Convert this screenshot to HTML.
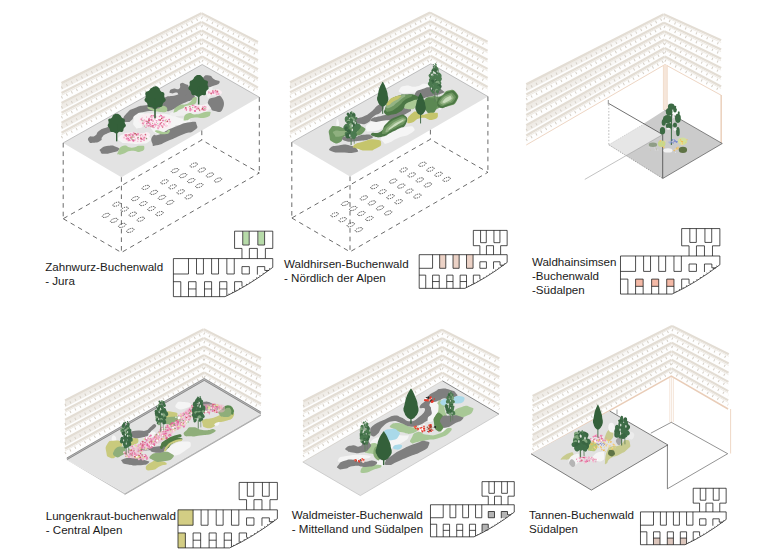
<!DOCTYPE html>
<html lang="de"><head><meta charset="utf-8"><title>Buchenwald</title>
<style>
html,body{margin:0;padding:0;background:#fff;}
body{width:780px;height:552px;overflow:hidden;}
svg{display:block;}
text{font-family:"Liberation Sans",sans-serif;fill:#1a1a1a;}
</style></head><body>
<svg width="780" height="552" viewBox="0 0 780 552">
<defs>
<linearGradient id="wg1" gradientUnits="userSpaceOnUse" x1="61.5" y1="0" x2="201.4" y2="0"><stop offset="0" stop-color="#ede9e3" stop-opacity="0.85"/><stop offset="0.45" stop-color="#ede9e3" stop-opacity="0.6"/><stop offset="0.8" stop-color="#ede9e3" stop-opacity="0.12"/><stop offset="1" stop-color="#ede9e3" stop-opacity="0"/></linearGradient>
<linearGradient id="wg2" gradientUnits="userSpaceOnUse" x1="290.1" y1="0" x2="430.0" y2="0"><stop offset="0" stop-color="#ede9e3" stop-opacity="0.85"/><stop offset="0.45" stop-color="#ede9e3" stop-opacity="0.6"/><stop offset="0.8" stop-color="#ede9e3" stop-opacity="0.12"/><stop offset="1" stop-color="#ede9e3" stop-opacity="0"/></linearGradient>
<linearGradient id="wg3" gradientUnits="userSpaceOnUse" x1="526.2" y1="0" x2="663.8" y2="0"><stop offset="0" stop-color="#ede9e3" stop-opacity="0.85"/><stop offset="0.45" stop-color="#ede9e3" stop-opacity="0.6"/><stop offset="0.8" stop-color="#ede9e3" stop-opacity="0.12"/><stop offset="1" stop-color="#ede9e3" stop-opacity="0"/></linearGradient>
<linearGradient id="wg4" gradientUnits="userSpaceOnUse" x1="65.0" y1="0" x2="203.8" y2="0"><stop offset="0" stop-color="#ede9e3" stop-opacity="0.85"/><stop offset="0.45" stop-color="#ede9e3" stop-opacity="0.6"/><stop offset="0.8" stop-color="#ede9e3" stop-opacity="0.12"/><stop offset="1" stop-color="#ede9e3" stop-opacity="0"/></linearGradient>
<linearGradient id="wg5" gradientUnits="userSpaceOnUse" x1="303.2" y1="0" x2="442.0" y2="0"><stop offset="0" stop-color="#ede9e3" stop-opacity="0.85"/><stop offset="0.45" stop-color="#ede9e3" stop-opacity="0.6"/><stop offset="0.8" stop-color="#ede9e3" stop-opacity="0.12"/><stop offset="1" stop-color="#ede9e3" stop-opacity="0"/></linearGradient>
<linearGradient id="wg6" gradientUnits="userSpaceOnUse" x1="532.6" y1="0" x2="672.1" y2="0"><stop offset="0" stop-color="#ede9e3" stop-opacity="0.85"/><stop offset="0.45" stop-color="#ede9e3" stop-opacity="0.6"/><stop offset="0.8" stop-color="#ede9e3" stop-opacity="0.12"/><stop offset="1" stop-color="#ede9e3" stop-opacity="0"/></linearGradient>
</defs>
<rect width="780" height="552" fill="#fff"/>
<polygon points="61.50,82.50 201.40,12.80 202.20,64.50 61.50,142.00" fill="#fefefe"/>
<polygon points="61.50,83.89 201.42,14.01 201.50,19.18 61.50,89.84" fill="url(#wg1)"/>
<line x1="61.50" y1="83.09" x2="201.41" y2="13.32" stroke="#e3ddd4" stroke-width="2.32"/>
<line x1="61.50" y1="85.28" x2="201.44" y2="15.21" stroke="#eeeae4" stroke-width="1.02"/>
<line x1="61.50" y1="87.76" x2="201.47" y2="17.37" stroke="#d5cfc6" stroke-width="2.50" stroke-dasharray="1 4.6"/>
<line x1="61.50" y1="93.01" x2="201.54" y2="21.93" stroke="#e3ddd4" stroke-width="2.32"/>
<line x1="61.50" y1="95.19" x2="201.57" y2="23.83" stroke="#eeeae4" stroke-width="1.02"/>
<line x1="61.50" y1="97.67" x2="201.60" y2="25.98" stroke="#d5cfc6" stroke-width="2.50" stroke-dasharray="1 4.6"/>
<polygon points="61.50,103.72 201.69,31.24 201.77,36.41 61.50,109.67" fill="url(#wg1)"/>
<line x1="61.50" y1="102.93" x2="201.67" y2="30.55" stroke="#e3ddd4" stroke-width="2.32"/>
<line x1="61.50" y1="105.11" x2="201.70" y2="32.45" stroke="#eeeae4" stroke-width="1.02"/>
<line x1="61.50" y1="107.59" x2="201.74" y2="34.60" stroke="#d5cfc6" stroke-width="2.50" stroke-dasharray="1 4.6"/>
<line x1="61.50" y1="112.84" x2="201.81" y2="39.17" stroke="#e3ddd4" stroke-width="2.32"/>
<line x1="61.50" y1="115.03" x2="201.84" y2="41.06" stroke="#eeeae4" stroke-width="1.02"/>
<line x1="61.50" y1="117.51" x2="201.87" y2="43.22" stroke="#d5cfc6" stroke-width="2.50" stroke-dasharray="1 4.6"/>
<polygon points="61.50,123.56 201.95,48.47 202.03,53.64 61.50,129.50" fill="url(#wg1)"/>
<line x1="61.50" y1="122.76" x2="201.94" y2="47.78" stroke="#e3ddd4" stroke-width="2.32"/>
<line x1="61.50" y1="124.94" x2="201.97" y2="49.68" stroke="#eeeae4" stroke-width="1.02"/>
<line x1="61.50" y1="127.42" x2="202.00" y2="51.83" stroke="#d5cfc6" stroke-width="2.50" stroke-dasharray="1 4.6"/>
<line x1="61.50" y1="132.68" x2="202.07" y2="56.40" stroke="#e3ddd4" stroke-width="2.32"/>
<line x1="61.50" y1="134.86" x2="202.10" y2="58.30" stroke="#eeeae4" stroke-width="1.02"/>
<line x1="61.50" y1="137.34" x2="202.14" y2="60.45" stroke="#d5cfc6" stroke-width="2.50" stroke-dasharray="1 4.6"/><polygon points="201.40,12.80 258.00,41.40 258.00,96.20 202.20,64.50" fill="#fefefe"/>
<line x1="201.41" y1="13.32" x2="258.00" y2="41.95" stroke="#e3ddd4" stroke-width="2.22"/>
<line x1="201.44" y1="15.21" x2="258.00" y2="43.96" stroke="#eeeae4" stroke-width="0.98"/>
<line x1="201.47" y1="17.37" x2="258.00" y2="46.24" stroke="#d5cfc6" stroke-width="2.40" stroke-dasharray="1 4.9"/>
<line x1="201.54" y1="21.93" x2="258.00" y2="51.08" stroke="#e3ddd4" stroke-width="2.22"/>
<line x1="201.57" y1="23.83" x2="258.00" y2="53.09" stroke="#eeeae4" stroke-width="0.98"/>
<line x1="201.60" y1="25.98" x2="258.00" y2="55.37" stroke="#d5cfc6" stroke-width="2.40" stroke-dasharray="1 4.9"/>
<line x1="201.67" y1="30.55" x2="258.00" y2="60.21" stroke="#e3ddd4" stroke-width="2.22"/>
<line x1="201.70" y1="32.45" x2="258.00" y2="62.22" stroke="#eeeae4" stroke-width="0.98"/>
<line x1="201.74" y1="34.60" x2="258.00" y2="64.51" stroke="#d5cfc6" stroke-width="2.40" stroke-dasharray="1 4.9"/>
<line x1="201.81" y1="39.17" x2="258.00" y2="69.35" stroke="#e3ddd4" stroke-width="2.22"/>
<line x1="201.84" y1="41.06" x2="258.00" y2="71.36" stroke="#eeeae4" stroke-width="0.98"/>
<line x1="201.87" y1="43.22" x2="258.00" y2="73.64" stroke="#d5cfc6" stroke-width="2.40" stroke-dasharray="1 4.9"/>
<line x1="201.94" y1="47.78" x2="258.00" y2="78.48" stroke="#e3ddd4" stroke-width="2.22"/>
<line x1="201.97" y1="49.68" x2="258.00" y2="80.49" stroke="#eeeae4" stroke-width="0.98"/>
<line x1="202.00" y1="51.83" x2="258.00" y2="82.77" stroke="#d5cfc6" stroke-width="2.40" stroke-dasharray="1 4.9"/>
<line x1="202.07" y1="56.40" x2="258.00" y2="87.61" stroke="#e3ddd4" stroke-width="2.22"/>
<line x1="202.10" y1="58.30" x2="258.00" y2="89.62" stroke="#eeeae4" stroke-width="0.98"/>
<line x1="202.14" y1="60.45" x2="258.00" y2="91.91" stroke="#d5cfc6" stroke-width="2.40" stroke-dasharray="1 4.9"/>
<polygon points="202.20,64.50 259.30,97.20 121.40,177.20 63.20,142.90" fill="#e3e3e3"/>
<polyline points="63.20,142.90 202.20,64.50 259.30,97.20" fill="none" stroke="#9a9a9a" stroke-width="0.6"/>
<g><path d="M133.67,120.00 C134.50,115.11 133.44,114.11 137.50,112.00 C141.56,109.89 139.44,113.11 145.83,113.67 C152.22,114.22 148.61,113.33 156.67,113.67 C164.72,114.00 161.94,113.11 170.00,114.67 C178.06,116.22 174.17,116.56 180.83,118.33 C187.50,120.11 189.17,117.78 190.00,120.00 C190.83,122.22 188.61,122.78 183.33,125.00 C178.06,127.22 177.94,122.89 174.17,126.67 C170.39,130.44 173.94,133.44 172.00,136.33 C170.06,139.22 169.67,137.33 168.33,135.33 C167.00,133.33 171.61,130.89 168.00,130.33 C164.39,129.78 164.33,135.17 157.50,133.67 C150.67,132.17 153.33,127.72 147.50,125.83 C141.67,123.94 144.17,127.72 140.00,128.00 C135.83,128.28 137.11,129.33 135.00,126.67 C132.89,124.00 132.83,124.89 133.67,120.00Z" fill="#f5f5f5"/><path d="M119.17,136.67 C121.67,134.17 121.39,134.61 128.33,134.17 C135.28,133.72 133.06,134.50 140.00,135.33 C146.94,136.17 146.39,134.44 149.17,136.67 C151.94,138.89 151.39,139.67 148.33,142.00 C145.28,144.33 146.67,143.22 140.00,143.67 C133.33,144.11 134.72,144.00 128.33,143.33 C121.94,142.67 123.89,143.89 120.83,141.67 C117.78,139.44 116.67,139.17 119.17,136.67Z" fill="#f5f5f5"/><path d="M170.00,114.67 C168.89,112.61 171.11,112.33 180.00,109.67 C188.89,107.00 186.39,108.78 196.67,106.67 C206.94,104.56 206.67,102.22 210.83,103.33 C215.00,104.44 213.89,106.56 209.17,110.00 C204.44,113.44 205.28,111.72 196.67,113.67 C188.06,115.61 192.22,115.50 183.33,115.83 C174.44,116.17 171.11,116.72 170.00,114.67Z" fill="#efefef"/><path d="M205.00,84.17 C206.11,79.72 207.50,80.28 210.00,81.67 C212.50,83.06 212.50,83.33 212.50,88.33 C212.50,93.33 211.94,94.44 210.00,96.67 C208.06,98.89 208.33,99.17 206.67,95.00 C205.00,90.83 203.89,88.61 205.00,84.17Z" fill="#f1f1f1"/><path d="M89.17,137.00 C91.11,135.06 91.67,137.89 95.00,135.83 C98.33,133.78 95.28,133.61 99.17,130.83 C103.06,128.06 101.94,129.17 106.67,127.50 C111.39,125.83 110.56,125.00 113.33,125.83 C116.11,126.67 116.94,127.50 115.00,130.00 C113.06,132.50 111.67,131.11 107.50,133.33 C103.33,135.56 104.89,134.17 102.50,136.67 C100.11,139.17 103.39,138.78 100.33,140.83 C97.28,142.89 97.06,142.56 93.33,142.83 C89.61,143.11 90.56,143.61 89.17,141.67 C87.78,139.72 87.22,138.94 89.17,137.00Z" fill="#7f7f7f"/><path d="M123.33,120.00 C123.33,116.83 123.61,116.50 127.50,112.50 C131.39,108.50 128.89,110.39 135.00,108.00 C141.11,105.61 138.61,106.06 145.83,105.33 C153.06,104.61 151.94,104.28 156.67,105.83 C161.39,107.39 163.89,108.06 160.00,110.00 C156.11,111.94 153.06,110.11 145.00,111.67 C136.94,113.22 140.28,111.89 135.83,114.67 C131.39,117.44 134.44,117.56 131.67,120.00 C128.89,122.44 130.28,122.00 127.50,122.00 C124.72,122.00 123.33,123.17 123.33,120.00Z" fill="#7f7f7f"/><path d="M161.67,102.50 C161.67,98.33 160.00,100.00 165.00,97.50 C170.00,95.00 168.33,97.22 176.67,95.00 C185.00,92.78 184.17,90.83 190.00,90.83 C195.83,90.83 193.33,92.22 194.17,95.00 C195.00,97.78 196.11,96.39 192.50,99.17 C188.89,101.94 189.72,100.00 183.33,103.33 C176.94,106.67 179.44,106.94 173.33,109.17 C167.22,111.39 168.89,112.22 165.00,110.00 C161.11,107.78 161.67,106.67 161.67,102.50Z" fill="#7f7f7f"/><path d="M169.67,91.33 C170.22,89.78 170.17,89.56 173.33,88.67 C176.50,87.78 176.67,90.44 179.17,88.67 C181.67,86.89 178.61,84.83 180.83,83.33 C183.06,81.83 183.22,83.06 185.83,84.17 C188.44,85.28 187.83,83.61 188.67,86.67 C189.50,89.72 191.22,90.56 188.33,93.33 C185.44,96.11 183.89,95.28 180.00,95.00 C176.11,94.72 179.44,93.06 176.67,92.50 C173.89,91.94 174.00,93.72 171.67,93.33 C169.33,92.94 169.11,92.89 169.67,91.33Z" fill="#7f7f7f"/><path d="M203.33,77.50 C205.00,74.89 205.56,74.94 209.17,75.50 C212.78,76.06 210.67,77.00 214.17,79.17 C217.67,81.33 219.83,79.78 219.67,82.00 C219.50,84.22 217.72,84.28 213.67,85.83 C209.61,87.39 210.67,87.50 207.50,86.67 C204.33,85.83 205.56,86.39 204.17,83.33 C202.78,80.28 201.67,80.11 203.33,77.50Z" fill="#7f7f7f"/><path d="M208.33,100.83 C209.61,97.67 209.72,98.61 214.17,97.50 C218.61,96.39 218.89,93.61 221.67,97.50 C224.44,101.39 224.83,104.67 222.50,109.17 C220.17,113.67 218.72,111.72 214.67,111.00 C210.61,110.28 212.44,110.39 210.33,107.00 C208.22,103.61 207.06,104.00 208.33,100.83Z" fill="#7f7f7f"/><path d="M153.00,135.83 C155.56,132.78 153.22,136.94 160.00,134.17 C166.78,131.39 163.33,131.50 173.33,127.50 C183.33,123.50 182.22,123.11 190.00,122.17 C197.78,121.22 195.44,121.78 196.67,124.67 C197.89,127.56 198.11,127.67 193.67,130.83 C189.22,134.00 191.22,131.11 183.33,134.17 C175.44,137.22 178.89,136.28 170.00,140.00 C161.11,143.72 162.56,144.22 156.67,145.33 C150.78,146.44 153.56,146.50 152.33,143.33 C151.11,140.17 150.44,138.89 153.00,135.83Z" fill="#7f7f7f"/><path d="M101.00,148.67 C103.56,146.72 103.39,146.50 108.33,145.83 C113.28,145.17 112.39,145.28 115.83,146.67 C119.28,148.06 120.06,148.00 118.67,150.00 C117.28,152.00 116.78,151.44 111.67,152.67 C106.56,153.89 107.00,154.00 103.33,153.67 C99.67,153.33 101.44,153.33 100.67,151.67 C99.89,150.00 98.44,150.61 101.00,148.67Z" fill="#7f7f7f"/><path d="M118.00,152.00 C119.44,149.11 118.78,147.28 123.33,145.83 C127.89,144.39 126.11,147.67 131.67,147.67 C137.22,147.67 135.78,145.83 140.00,145.83 C144.22,145.83 144.33,145.72 144.33,147.67 C144.33,149.61 144.22,150.61 140.00,151.67 C135.78,152.72 137.22,150.17 131.67,150.83 C126.11,151.50 127.56,152.44 123.33,153.67 C119.11,154.89 120.78,155.06 119.00,154.50 C117.22,153.94 116.56,154.89 118.00,152.00Z" fill="#a9c994"/><path d="M183.83,118.67 C184.39,116.33 184.06,114.78 188.33,113.33 C192.61,111.89 190.56,114.89 196.67,114.33 C202.78,113.78 202.11,111.83 206.67,111.67 C211.22,111.50 210.89,111.83 210.33,113.83 C209.78,115.83 210.67,116.39 205.00,117.67 C199.33,118.94 199.44,116.78 193.33,117.67 C187.22,118.56 189.83,120.00 186.67,120.33 C183.50,120.67 183.28,121.00 183.83,118.67Z" fill="#a9c994"/><path d="M173.83,111.17 C174.67,109.11 173.50,108.44 178.33,105.83 C183.17,103.22 183.22,106.11 188.33,103.33 C193.44,100.56 190.89,98.61 193.67,97.50 C196.44,96.39 197.22,97.17 196.67,100.00 C196.11,102.83 197.00,103.11 192.00,106.00 C187.00,108.89 187.06,106.67 181.67,108.67 C176.28,110.67 178.44,111.17 175.83,112.00 C173.22,112.83 173.00,113.22 173.83,111.17Z" fill="#a9c994"/><path d="M148.00,107.00 C149.67,106.50 151.56,109.22 156.67,108.83 C161.78,108.44 159.89,105.17 163.33,105.83 C166.78,106.50 168.11,108.78 167.00,110.83 C165.89,112.89 165.11,112.17 160.00,112.00 C154.89,111.83 155.67,112.00 151.67,110.33 C147.67,108.67 146.33,107.50 148.00,107.00Z" fill="#a9c994"/><path d="M156.33,130.33 C158.83,130.00 161.00,132.22 165.00,132.00 C169.00,131.78 166.78,129.67 168.33,129.67 C169.89,129.67 170.78,130.50 169.67,132.00 C168.56,133.50 169.06,133.83 165.00,134.17 C160.94,134.50 160.39,134.28 157.50,133.00 C154.61,131.72 153.83,130.67 156.33,130.33Z" fill="#a9c994"/></g><path d="M139.17,119.17 C140.28,115.83 139.17,114.94 145.00,113.67 C150.83,112.39 148.89,114.06 156.67,115.33 C164.44,116.61 163.44,114.83 168.33,117.50 C173.22,120.17 171.89,119.61 171.33,123.33 C170.78,127.06 171.56,127.00 166.67,128.67 C161.78,130.33 162.78,129.56 156.67,128.33 C150.56,127.11 153.33,126.56 148.33,125.00 C143.33,123.44 144.72,125.61 141.67,123.67 C138.61,121.72 138.06,122.50 139.17,119.17Z" fill="#fbeef3" opacity="0.9"/><path d="M122.50,135.33 C124.72,132.56 124.17,133.17 130.00,132.50 C135.83,131.83 133.89,133.33 140.00,133.33 C146.11,133.33 145.44,130.83 148.33,132.50 C151.22,134.17 150.33,135.17 148.67,138.33 C147.00,141.50 149.00,140.61 143.33,142.00 C137.67,143.39 138.33,142.89 131.67,142.50 C125.00,142.11 126.39,143.22 123.33,140.83 C120.28,138.44 120.28,138.11 122.50,135.33Z" fill="#fbeef3" opacity="0.9"/><path d="M183.67,108.00 C184.78,106.11 184.56,106.33 190.00,105.33 C195.44,104.33 194.17,104.83 200.00,105.00 C205.83,105.17 205.28,104.06 207.50,105.83 C209.72,107.61 210.28,108.39 206.67,110.33 C203.06,112.28 203.33,111.44 196.67,111.67 C190.00,111.89 191.00,112.22 186.67,111.00 C182.33,109.78 182.56,109.89 183.67,108.00Z" fill="#fbeef3" opacity="0.9"/><path d="M207.50,91.33 C209.17,89.78 209.06,90.00 213.33,89.67 C217.61,89.33 218.00,88.67 220.33,90.33 C222.67,92.00 222.67,93.00 220.33,94.67 C218.00,96.33 217.33,95.44 213.33,95.33 C209.33,95.22 210.28,95.67 208.33,94.33 C206.39,93.00 205.83,92.89 207.50,91.33Z" fill="#fbeef3" opacity="0.9"/><g><circle cx="146.03" cy="120.50" r="0.78" fill="#f4b0cb"/><circle cx="126.32" cy="134.59" r="0.66" fill="#d6607c"/><circle cx="165.51" cy="121.54" r="0.79" fill="#fbe4ec"/><circle cx="141.73" cy="140.35" r="0.73" fill="#fbe4ec"/><circle cx="156.04" cy="118.91" r="0.53" fill="#f4b0cb"/><circle cx="198.46" cy="106.94" r="0.93" fill="#f4b0cb"/><circle cx="193.40" cy="105.53" r="0.94" fill="#f2a3c2"/><circle cx="140.36" cy="136.95" r="0.56" fill="#e779ab"/><circle cx="158.10" cy="128.40" r="0.97" fill="#f2a3c2"/><circle cx="186.73" cy="109.64" r="0.71" fill="#f4b0cb"/><circle cx="125.44" cy="135.09" r="1.05" fill="#ec86b2"/><circle cx="152.79" cy="127.02" r="0.92" fill="#f6bdd2"/><circle cx="143.80" cy="120.29" r="0.93" fill="#ee8fb6"/><circle cx="160.70" cy="117.05" r="0.57" fill="#ffffff"/><circle cx="130.17" cy="134.85" r="0.98" fill="#e779ab"/><circle cx="159.85" cy="124.75" r="1.02" fill="#f2a3c2"/><circle cx="152.56" cy="120.69" r="0.70" fill="#f4b0cb"/><circle cx="203.83" cy="108.07" r="0.69" fill="#e466a0"/><circle cx="152.80" cy="120.94" r="1.08" fill="#f9d6e2"/><circle cx="153.93" cy="127.46" r="0.69" fill="#e779ab"/><circle cx="217.27" cy="91.63" r="1.02" fill="#d6607c"/><circle cx="163.48" cy="117.38" r="0.87" fill="#ee8fb6"/><circle cx="210.01" cy="92.43" r="1.06" fill="#f9d6e2"/><circle cx="154.56" cy="125.51" r="0.51" fill="#e779ab"/><circle cx="153.10" cy="121.19" r="0.85" fill="#f4b0cb"/><circle cx="149.09" cy="118.66" r="0.91" fill="#e779ab"/><circle cx="151.48" cy="115.87" r="0.85" fill="#e466a0"/><circle cx="217.98" cy="92.69" r="0.77" fill="#ec86b2"/><circle cx="132.58" cy="139.88" r="0.95" fill="#e779ab"/><circle cx="194.94" cy="110.98" r="0.96" fill="#ee8fb6"/><circle cx="143.08" cy="119.14" r="0.80" fill="#ffffff"/><circle cx="134.95" cy="139.99" r="0.76" fill="#ec86b2"/><circle cx="141.60" cy="138.91" r="0.90" fill="#e779ab"/><circle cx="160.51" cy="115.28" r="0.70" fill="#ee8fb6"/><circle cx="142.21" cy="135.26" r="0.97" fill="#f9d6e2"/><circle cx="163.30" cy="120.63" r="0.61" fill="#f4b0cb"/><circle cx="159.32" cy="116.42" r="0.71" fill="#f4b0cb"/><circle cx="151.44" cy="127.69" r="0.78" fill="#ffffff"/><circle cx="133.44" cy="140.74" r="1.05" fill="#e466a0"/><circle cx="169.89" cy="121.87" r="1.09" fill="#f4b0cb"/><circle cx="169.05" cy="119.59" r="0.52" fill="#f9d6e2"/><circle cx="136.07" cy="133.30" r="0.83" fill="#ffffff"/><circle cx="202.60" cy="106.21" r="0.57" fill="#ffffff"/><circle cx="168.41" cy="123.04" r="1.05" fill="#fbe4ec"/><circle cx="202.79" cy="106.99" r="0.79" fill="#e466a0"/><circle cx="147.50" cy="121.60" r="0.81" fill="#e466a0"/><circle cx="166.13" cy="119.62" r="0.58" fill="#e779ab"/><circle cx="208.65" cy="91.96" r="0.71" fill="#e466a0"/><circle cx="141.47" cy="120.30" r="0.64" fill="#f6bdd2"/><circle cx="159.23" cy="120.06" r="0.79" fill="#e466a0"/><circle cx="126.91" cy="139.71" r="0.66" fill="#f9d6e2"/><circle cx="128.12" cy="138.83" r="1.01" fill="#e466a0"/><circle cx="198.26" cy="108.52" r="1.08" fill="#d6607c"/><circle cx="202.72" cy="109.43" r="0.59" fill="#e779ab"/><circle cx="147.79" cy="124.54" r="0.72" fill="#ffffff"/><circle cx="152.44" cy="123.83" r="0.50" fill="#fbe4ec"/><circle cx="138.51" cy="133.96" r="0.72" fill="#e466a0"/><circle cx="137.42" cy="134.52" r="0.87" fill="#e466a0"/><circle cx="147.49" cy="125.21" r="0.75" fill="#e779ab"/><circle cx="129.75" cy="137.90" r="0.66" fill="#fbe4ec"/><circle cx="137.80" cy="135.24" r="1.03" fill="#f6bdd2"/><circle cx="209.94" cy="94.07" r="0.57" fill="#ffffff"/><circle cx="145.88" cy="135.84" r="0.98" fill="#fbe4ec"/><circle cx="134.86" cy="133.85" r="0.99" fill="#ee8fb6"/><circle cx="129.77" cy="137.71" r="0.53" fill="#f2a3c2"/><circle cx="166.68" cy="125.50" r="0.99" fill="#f6bdd2"/><circle cx="156.47" cy="120.77" r="0.90" fill="#ee8fb6"/><circle cx="204.07" cy="107.66" r="0.52" fill="#ee8fb6"/><circle cx="186.27" cy="108.15" r="0.83" fill="#ee8fb6"/><circle cx="144.26" cy="119.96" r="0.61" fill="#f4b0cb"/><circle cx="167.32" cy="121.61" r="0.87" fill="#d6607c"/><circle cx="190.44" cy="109.46" r="1.06" fill="#f2a3c2"/><circle cx="143.42" cy="136.73" r="1.08" fill="#f9d6e2"/><circle cx="154.90" cy="118.86" r="0.95" fill="#f4b0cb"/><circle cx="127.07" cy="136.99" r="0.74" fill="#ec86b2"/><circle cx="200.01" cy="110.14" r="1.05" fill="#d6607c"/><circle cx="125.77" cy="138.72" r="0.58" fill="#f6bdd2"/><circle cx="200.76" cy="110.05" r="1.01" fill="#f9d6e2"/><circle cx="137.75" cy="133.58" r="0.86" fill="#f2a3c2"/><circle cx="147.72" cy="136.88" r="0.51" fill="#ffffff"/><circle cx="131.94" cy="138.63" r="0.64" fill="#e779ab"/><circle cx="141.21" cy="135.05" r="0.92" fill="#d6607c"/><circle cx="142.26" cy="118.45" r="0.83" fill="#ec86b2"/><circle cx="133.69" cy="133.09" r="0.97" fill="#f2a3c2"/><circle cx="206.20" cy="109.15" r="0.89" fill="#f9d6e2"/><circle cx="200.62" cy="108.92" r="0.65" fill="#ffffff"/><circle cx="154.64" cy="124.69" r="1.02" fill="#ec86b2"/><circle cx="195.50" cy="111.12" r="0.61" fill="#e779ab"/><circle cx="156.59" cy="119.37" r="1.00" fill="#ffffff"/><circle cx="147.74" cy="125.85" r="0.70" fill="#ec86b2"/><circle cx="150.37" cy="125.43" r="0.63" fill="#ee8fb6"/><circle cx="143.44" cy="136.53" r="0.69" fill="#fbe4ec"/><circle cx="202.45" cy="109.24" r="1.03" fill="#d6607c"/><circle cx="204.85" cy="110.00" r="0.91" fill="#e779ab"/><circle cx="143.12" cy="123.41" r="0.89" fill="#ec86b2"/><circle cx="194.87" cy="110.93" r="0.90" fill="#e779ab"/><circle cx="142.57" cy="139.48" r="0.54" fill="#e779ab"/><circle cx="153.17" cy="115.69" r="0.89" fill="#ec86b2"/><circle cx="140.98" cy="141.31" r="0.77" fill="#ec86b2"/><circle cx="141.31" cy="119.20" r="0.93" fill="#ec86b2"/><circle cx="126.24" cy="136.06" r="0.79" fill="#d6607c"/><circle cx="194.81" cy="107.39" r="0.95" fill="#f6bdd2"/><circle cx="135.34" cy="134.54" r="0.66" fill="#ffffff"/><circle cx="161.94" cy="125.33" r="0.65" fill="#ffffff"/><circle cx="191.85" cy="109.71" r="0.77" fill="#f2a3c2"/><circle cx="203.09" cy="109.23" r="0.59" fill="#ee8fb6"/><circle cx="131.86" cy="134.15" r="0.61" fill="#ee8fb6"/><circle cx="143.55" cy="124.68" r="0.86" fill="#f6bdd2"/><circle cx="149.58" cy="123.50" r="0.60" fill="#fbe4ec"/><circle cx="161.32" cy="118.54" r="0.52" fill="#ffffff"/><circle cx="204.39" cy="106.49" r="0.69" fill="#f2a3c2"/><circle cx="192.91" cy="110.30" r="0.91" fill="#fbe4ec"/><circle cx="161.80" cy="117.91" r="0.61" fill="#f4b0cb"/><circle cx="144.43" cy="139.87" r="0.80" fill="#f9d6e2"/><circle cx="130.43" cy="137.84" r="0.63" fill="#fbe4ec"/><circle cx="205.69" cy="107.03" r="0.84" fill="#ee8fb6"/><circle cx="215.98" cy="91.96" r="0.87" fill="#ee8fb6"/><circle cx="150.28" cy="124.27" r="0.80" fill="#ee8fb6"/><circle cx="150.31" cy="125.06" r="0.92" fill="#e779ab"/><circle cx="162.48" cy="117.45" r="0.93" fill="#e466a0"/><circle cx="190.19" cy="110.58" r="1.02" fill="#ee8fb6"/><circle cx="155.46" cy="116.80" r="0.97" fill="#ee8fb6"/><circle cx="162.26" cy="116.81" r="0.80" fill="#f2a3c2"/><circle cx="127.83" cy="136.63" r="0.79" fill="#ec86b2"/><circle cx="142.70" cy="123.20" r="0.61" fill="#d6607c"/><circle cx="194.53" cy="106.55" r="0.77" fill="#e779ab"/><circle cx="142.68" cy="125.65" r="0.66" fill="#f9d6e2"/><circle cx="161.89" cy="117.63" r="0.63" fill="#f6bdd2"/><circle cx="149.83" cy="123.30" r="0.58" fill="#e466a0"/><circle cx="130.74" cy="138.04" r="0.74" fill="#e466a0"/><circle cx="167.68" cy="122.88" r="0.74" fill="#f9d6e2"/><circle cx="169.86" cy="122.81" r="0.64" fill="#f9d6e2"/><circle cx="158.22" cy="125.43" r="0.71" fill="#ee8fb6"/><circle cx="167.39" cy="123.58" r="1.09" fill="#ffffff"/><circle cx="215.68" cy="90.28" r="0.65" fill="#d6607c"/><circle cx="159.81" cy="116.57" r="0.69" fill="#e779ab"/><circle cx="150.79" cy="122.49" r="0.50" fill="#f4b0cb"/><circle cx="160.33" cy="123.22" r="0.79" fill="#e466a0"/><circle cx="146.19" cy="121.42" r="0.70" fill="#d6607c"/><circle cx="129.71" cy="140.38" r="0.68" fill="#f2a3c2"/><circle cx="139.38" cy="136.88" r="0.61" fill="#ffffff"/><circle cx="143.67" cy="121.42" r="0.91" fill="#fbe4ec"/><circle cx="216.65" cy="94.29" r="1.00" fill="#f2a3c2"/><circle cx="142.60" cy="136.03" r="0.76" fill="#f2a3c2"/><circle cx="152.36" cy="117.73" r="0.80" fill="#f6bdd2"/><circle cx="203.98" cy="107.06" r="0.53" fill="#d6607c"/><circle cx="155.15" cy="115.32" r="0.96" fill="#ee8fb6"/><circle cx="140.89" cy="138.64" r="0.53" fill="#ec86b2"/><circle cx="144.09" cy="138.28" r="0.70" fill="#ec86b2"/><circle cx="163.71" cy="123.60" r="0.70" fill="#ee8fb6"/><circle cx="141.77" cy="123.62" r="0.64" fill="#f9d6e2"/><circle cx="162.07" cy="126.27" r="1.09" fill="#f4b0cb"/><circle cx="153.36" cy="124.78" r="0.81" fill="#fbe4ec"/><circle cx="141.80" cy="135.88" r="0.97" fill="#fbe4ec"/><circle cx="133.98" cy="136.67" r="0.86" fill="#ee8fb6"/><circle cx="204.68" cy="110.07" r="0.55" fill="#ffffff"/><circle cx="137.80" cy="141.52" r="0.57" fill="#f4b0cb"/><circle cx="130.64" cy="133.93" r="0.86" fill="#f2a3c2"/><circle cx="165.75" cy="125.77" r="0.77" fill="#f4b0cb"/><circle cx="155.99" cy="122.07" r="0.94" fill="#ffffff"/><circle cx="148.94" cy="125.68" r="1.05" fill="#ee8fb6"/><circle cx="128.43" cy="140.44" r="0.86" fill="#ee8fb6"/><circle cx="145.96" cy="127.30" r="0.64" fill="#e779ab"/><circle cx="154.95" cy="125.65" r="0.94" fill="#f9d6e2"/><circle cx="204.67" cy="108.14" r="1.01" fill="#fbe4ec"/><circle cx="159.38" cy="126.82" r="0.79" fill="#f2a3c2"/><circle cx="186.39" cy="109.99" r="0.68" fill="#e466a0"/><circle cx="214.95" cy="93.16" r="0.68" fill="#f6bdd2"/><circle cx="134.20" cy="136.61" r="0.67" fill="#f9d6e2"/><circle cx="147.59" cy="126.66" r="0.59" fill="#ffffff"/><circle cx="163.57" cy="119.13" r="0.59" fill="#f9d6e2"/><circle cx="192.40" cy="105.51" r="0.72" fill="#ec86b2"/><circle cx="151.04" cy="126.07" r="1.10" fill="#fbe4ec"/><circle cx="162.93" cy="120.65" r="0.78" fill="#e466a0"/><circle cx="198.00" cy="106.80" r="1.06" fill="#f9d6e2"/><circle cx="145.84" cy="137.67" r="0.82" fill="#f6bdd2"/><circle cx="161.58" cy="122.65" r="0.71" fill="#d6607c"/><circle cx="211.10" cy="93.82" r="0.61" fill="#d6607c"/><circle cx="146.88" cy="123.35" r="0.86" fill="#e466a0"/><circle cx="190.32" cy="108.81" r="0.98" fill="#ec86b2"/><circle cx="154.79" cy="123.13" r="0.52" fill="#f2a3c2"/><circle cx="216.96" cy="94.26" r="0.65" fill="#f4b0cb"/><circle cx="155.71" cy="115.46" r="0.95" fill="#fbe4ec"/><circle cx="156.32" cy="122.34" r="0.51" fill="#e466a0"/><circle cx="145.45" cy="134.65" r="0.81" fill="#d6607c"/><circle cx="202.99" cy="106.05" r="0.75" fill="#fbe4ec"/><circle cx="138.42" cy="139.09" r="0.58" fill="#ec86b2"/><circle cx="203.84" cy="109.91" r="0.77" fill="#d6607c"/><circle cx="185.22" cy="109.20" r="0.85" fill="#f6bdd2"/><circle cx="165.39" cy="122.81" r="1.00" fill="#f9d6e2"/><circle cx="213.32" cy="92.24" r="0.86" fill="#f4b0cb"/><circle cx="164.60" cy="126.06" r="0.56" fill="#ffffff"/><circle cx="129.56" cy="139.76" r="0.77" fill="#ec86b2"/><circle cx="147.98" cy="126.33" r="0.69" fill="#f2a3c2"/><circle cx="169.16" cy="119.56" r="0.87" fill="#e779ab"/><circle cx="143.81" cy="138.00" r="1.09" fill="#f2a3c2"/><circle cx="155.87" cy="124.77" r="0.92" fill="#ee8fb6"/><circle cx="151.37" cy="119.85" r="1.07" fill="#e466a0"/><circle cx="212.69" cy="91.07" r="0.78" fill="#d6607c"/><circle cx="149.04" cy="120.60" r="1.07" fill="#d6607c"/><circle cx="160.36" cy="120.01" r="0.90" fill="#d6607c"/><circle cx="137.69" cy="138.18" r="0.61" fill="#ec86b2"/><circle cx="161.33" cy="115.79" r="0.81" fill="#e466a0"/><circle cx="158.01" cy="127.69" r="0.73" fill="#f2a3c2"/><circle cx="213.73" cy="93.33" r="0.68" fill="#f6bdd2"/><circle cx="166.02" cy="119.60" r="0.50" fill="#f9d6e2"/><circle cx="161.63" cy="125.45" r="0.71" fill="#ee8fb6"/><circle cx="208.88" cy="92.68" r="0.78" fill="#e779ab"/><circle cx="185.56" cy="107.80" r="0.84" fill="#d6607c"/><circle cx="127.65" cy="136.60" r="0.77" fill="#fbe4ec"/><circle cx="155.35" cy="117.86" r="0.68" fill="#f6bdd2"/><circle cx="202.00" cy="107.90" r="0.58" fill="#f9d6e2"/><circle cx="145.13" cy="138.61" r="0.57" fill="#f6bdd2"/><circle cx="164.34" cy="117.11" r="0.91" fill="#f4b0cb"/><circle cx="136.22" cy="135.92" r="0.85" fill="#fbe4ec"/><circle cx="148.96" cy="119.91" r="0.80" fill="#d6607c"/><circle cx="151.19" cy="125.48" r="0.96" fill="#f4b0cb"/><circle cx="129.97" cy="140.55" r="0.67" fill="#e779ab"/><circle cx="213.89" cy="93.31" r="0.63" fill="#fbe4ec"/><circle cx="213.75" cy="91.35" r="1.08" fill="#f2a3c2"/><circle cx="143.93" cy="122.37" r="1.09" fill="#f6bdd2"/><circle cx="126.54" cy="138.65" r="0.75" fill="#ee8fb6"/><circle cx="130.58" cy="135.72" r="1.01" fill="#f9d6e2"/><circle cx="164.22" cy="121.17" r="0.53" fill="#f9d6e2"/><circle cx="143.84" cy="140.02" r="0.93" fill="#f2a3c2"/><circle cx="151.59" cy="126.39" r="0.76" fill="#f2a3c2"/><circle cx="194.39" cy="107.44" r="0.59" fill="#d6607c"/><circle cx="146.72" cy="125.65" r="1.03" fill="#f6bdd2"/><circle cx="148.75" cy="122.90" r="0.82" fill="#e466a0"/><circle cx="208.85" cy="92.07" r="0.76" fill="#f9d6e2"/><circle cx="144.46" cy="140.34" r="0.63" fill="#f2a3c2"/><circle cx="151.03" cy="126.54" r="0.99" fill="#ee8fb6"/><circle cx="137.66" cy="137.73" r="0.73" fill="#e779ab"/><circle cx="144.51" cy="137.04" r="0.73" fill="#f6bdd2"/><circle cx="126.68" cy="138.86" r="0.68" fill="#ec86b2"/><circle cx="146.59" cy="117.00" r="0.54" fill="#ee8fb6"/><circle cx="195.67" cy="106.63" r="0.69" fill="#e466a0"/><circle cx="212.85" cy="91.97" r="0.70" fill="#ec86b2"/><circle cx="142.49" cy="118.39" r="0.89" fill="#f9d6e2"/><circle cx="218.48" cy="93.04" r="0.81" fill="#fbe4ec"/><circle cx="141.08" cy="138.48" r="0.99" fill="#d6607c"/><circle cx="211.22" cy="93.33" r="0.90" fill="#d6607c"/><circle cx="137.87" cy="139.77" r="0.58" fill="#f4b0cb"/><circle cx="130.33" cy="135.43" r="1.01" fill="#f4b0cb"/><circle cx="196.63" cy="109.04" r="1.01" fill="#f2a3c2"/><circle cx="124.14" cy="137.51" r="0.99" fill="#f6bdd2"/><circle cx="218.59" cy="94.02" r="1.01" fill="#f2a3c2"/><circle cx="155.26" cy="117.67" r="0.73" fill="#f9d6e2"/><circle cx="197.18" cy="107.71" r="0.72" fill="#f2a3c2"/><circle cx="153.04" cy="125.68" r="0.92" fill="#e466a0"/><circle cx="160.51" cy="123.78" r="0.60" fill="#d6607c"/><circle cx="148.03" cy="122.01" r="0.72" fill="#ec86b2"/><circle cx="150.50" cy="117.00" r="0.82" fill="#f4b0cb"/><circle cx="129.99" cy="135.10" r="0.55" fill="#e466a0"/><circle cx="134.20" cy="137.50" r="0.66" fill="#f6bdd2"/><circle cx="193.73" cy="107.03" r="1.09" fill="#fbe4ec"/><circle cx="165.65" cy="121.53" r="0.57" fill="#f6bdd2"/><circle cx="158.83" cy="119.67" r="0.56" fill="#e779ab"/><circle cx="141.02" cy="134.73" r="0.59" fill="#fbe4ec"/><circle cx="213.25" cy="92.84" r="0.99" fill="#e779ab"/><circle cx="166.13" cy="125.05" r="0.86" fill="#fbe4ec"/><circle cx="132.86" cy="135.08" r="1.09" fill="#e779ab"/><circle cx="195.76" cy="106.71" r="0.75" fill="#e466a0"/><circle cx="136.56" cy="134.31" r="0.84" fill="#e779ab"/><circle cx="151.28" cy="116.70" r="0.93" fill="#f2a3c2"/><circle cx="162.70" cy="127.37" r="0.60" fill="#d6607c"/><circle cx="158.25" cy="125.89" r="0.72" fill="#f4b0cb"/><circle cx="127.51" cy="134.91" r="0.80" fill="#f6bdd2"/><circle cx="164.06" cy="124.70" r="1.02" fill="#f2a3c2"/><circle cx="133.23" cy="138.05" r="0.91" fill="#ffffff"/></g><g><circle cx="135.30" cy="133.77" r="0.59" fill="#6f9a5a"/><circle cx="135.85" cy="138.24" r="0.34" fill="#8fb27a"/><circle cx="155.23" cy="126.34" r="0.30" fill="#8fb27a"/><circle cx="152.41" cy="127.63" r="0.36" fill="#9db98a"/><circle cx="141.73" cy="139.74" r="0.35" fill="#8fb27a"/><circle cx="204.92" cy="108.41" r="0.61" fill="#8fb27a"/><circle cx="165.46" cy="120.55" r="0.36" fill="#8fb27a"/><circle cx="199.16" cy="110.81" r="0.40" fill="#9db98a"/><circle cx="157.82" cy="123.75" r="0.42" fill="#6f9a5a"/><circle cx="189.00" cy="107.27" r="0.32" fill="#b8433f"/><circle cx="150.78" cy="126.63" r="0.47" fill="#8fb27a"/><circle cx="146.62" cy="138.72" r="0.63" fill="#6f9a5a"/><circle cx="146.04" cy="124.32" r="0.43" fill="#9db98a"/><circle cx="138.35" cy="137.38" r="0.52" fill="#8fb27a"/><circle cx="199.59" cy="109.23" r="0.42" fill="#9db98a"/><circle cx="142.24" cy="120.80" r="0.51" fill="#6f9a5a"/><circle cx="131.57" cy="138.94" r="0.63" fill="#9db98a"/><circle cx="148.81" cy="125.83" r="0.42" fill="#8fb27a"/><circle cx="190.29" cy="107.92" r="0.41" fill="#b8433f"/><circle cx="128.91" cy="134.90" r="0.65" fill="#b8433f"/><circle cx="168.90" cy="123.56" r="0.31" fill="#9db98a"/><circle cx="132.59" cy="139.00" r="0.35" fill="#9db98a"/><circle cx="189.86" cy="106.51" r="0.59" fill="#b8433f"/><circle cx="153.36" cy="115.54" r="0.34" fill="#9db98a"/><circle cx="162.97" cy="126.36" r="0.35" fill="#b8433f"/><circle cx="192.74" cy="107.58" r="0.64" fill="#9db98a"/><circle cx="133.31" cy="139.24" r="0.44" fill="#9db98a"/><circle cx="144.56" cy="126.06" r="0.52" fill="#8fb27a"/><circle cx="152.69" cy="123.27" r="0.48" fill="#b8433f"/><circle cx="132.90" cy="137.32" r="0.54" fill="#b8433f"/><circle cx="136.26" cy="134.93" r="0.59" fill="#b8433f"/><circle cx="167.32" cy="121.03" r="0.53" fill="#b8433f"/><circle cx="144.44" cy="137.55" r="0.41" fill="#b8433f"/><circle cx="152.49" cy="126.01" r="0.42" fill="#b8433f"/><circle cx="135.02" cy="133.70" r="0.62" fill="#b8433f"/><circle cx="161.60" cy="118.52" r="0.63" fill="#b8433f"/><circle cx="131.16" cy="137.03" r="0.63" fill="#b8433f"/><circle cx="150.52" cy="116.65" r="0.36" fill="#9db98a"/><circle cx="127.52" cy="135.75" r="0.41" fill="#9db98a"/><circle cx="139.91" cy="135.79" r="0.37" fill="#6f9a5a"/><circle cx="132.31" cy="136.14" r="0.52" fill="#8fb27a"/><circle cx="148.13" cy="122.20" r="0.61" fill="#6f9a5a"/><circle cx="164.98" cy="120.79" r="0.45" fill="#6f9a5a"/><circle cx="152.94" cy="120.22" r="0.38" fill="#8fb27a"/><circle cx="202.41" cy="108.34" r="0.60" fill="#b8433f"/></g><path d="M116.67,113.67 C118.41,113.69 118.51,113.94 119.93,115.01 C121.36,116.08 120.74,116.49 122.01,117.68 C123.27,118.86 123.95,118.11 124.68,119.45 C125.40,120.80 124.39,121.02 124.71,122.72 C125.03,124.42 126.11,124.31 125.87,125.82 C125.63,127.33 124.63,126.83 123.81,128.37 C122.99,129.92 123.97,130.69 122.79,131.61 C121.61,132.52 121.02,131.30 119.39,131.80 C117.76,132.30 118.15,133.38 116.67,133.48 C115.18,133.58 115.41,132.70 113.81,132.16 C112.21,131.63 111.82,132.47 110.66,131.46 C109.51,130.46 110.27,129.92 109.47,128.40 C108.68,126.89 107.91,127.30 107.69,125.78 C107.47,124.27 108.45,124.45 108.65,122.72 C108.85,121.00 107.69,120.62 108.45,119.33 C109.21,118.04 110.19,119.06 111.51,117.89 C112.82,116.73 112.01,116.09 113.38,114.96 C114.76,113.84 114.92,113.66 116.67,113.67Z" fill="#34603a"/><path d="M116.67,124.17 L116.67,141.33" stroke="#34603a" stroke-width="1.38"/><path d="M155.00,86.38 C156.97,86.32 157.19,86.54 158.74,87.84 C160.29,89.15 159.40,89.88 160.82,91.26 C162.23,92.64 163.09,91.57 164.04,93.01 C164.99,94.45 163.93,94.72 164.36,96.65 C164.79,98.58 165.98,98.52 165.66,100.25 C165.33,101.98 164.18,101.44 163.15,103.13 C162.12,104.82 163.11,105.48 161.79,106.59 C160.48,107.71 160.02,106.60 158.21,107.32 C156.39,108.04 156.71,109.30 155.00,109.29 C153.29,109.29 153.60,108.04 151.80,107.30 C150.00,106.56 149.55,107.65 148.26,106.52 C146.98,105.39 147.96,104.74 146.97,103.06 C145.98,101.38 144.88,101.92 144.54,100.21 C144.20,98.51 145.45,98.66 145.70,96.66 C145.96,94.67 144.66,94.29 145.50,92.74 C146.34,91.19 147.29,92.10 148.85,90.85 C150.40,89.61 149.70,89.26 151.34,88.07 C152.98,86.88 153.03,86.44 155.00,86.38Z" fill="#34603a"/><path d="M155.00,98.33 L155.00,118.33" stroke="#34603a" stroke-width="1.57"/><path d="M198.67,75.08 C200.58,75.12 200.68,75.49 202.22,76.72 C203.75,77.94 202.96,78.44 204.42,79.67 C205.88,80.91 206.83,79.92 207.69,81.36 C208.54,82.79 207.38,83.16 207.63,85.06 C207.87,86.95 208.99,86.84 208.62,88.46 C208.25,90.08 207.09,89.41 206.24,91.13 C205.40,92.85 206.66,93.83 205.45,94.91 C204.24,95.99 203.51,94.61 201.71,95.19 C199.90,95.76 200.33,96.97 198.67,97.07 C197.01,97.18 197.26,96.21 195.48,95.59 C193.71,94.97 193.30,95.87 192.02,94.74 C190.74,93.62 191.63,93.03 190.68,91.37 C189.74,89.70 188.74,90.18 188.48,88.50 C188.22,86.81 189.33,86.92 189.70,85.05 C190.07,83.18 189.04,82.95 189.87,81.49 C190.70,80.02 191.43,80.87 192.82,79.55 C194.20,78.24 193.49,77.73 195.05,76.54 C196.61,75.35 196.76,75.03 198.67,75.08Z" fill="#34603a"/><path d="M198.67,86.67 L198.67,104.50" stroke="#34603a" stroke-width="1.52"/>
<polyline points="63.20,142.90 63.20,218.70" fill="none" stroke="#3a3a3a" stroke-width="0.75" stroke-dasharray="4.6 4.0"/>
<polyline points="121.40,177.20 121.40,252.50" fill="none" stroke="#3a3a3a" stroke-width="0.75" stroke-dasharray="4.6 4.0"/>
<polyline points="259.30,97.20 259.30,173.00" fill="none" stroke="#3a3a3a" stroke-width="0.75" stroke-dasharray="4.6 4.0"/>
<polyline points="201.80,130.56 201.80,140.00" fill="none" stroke="#3a3a3a" stroke-width="0.75" stroke-dasharray="4.6 4.0"/>
<polyline points="63.20,218.70 121.40,252.50 259.30,173.00 201.80,140.00 63.20,218.70" fill="none" stroke="#3a3a3a" stroke-width="0.75" stroke-dasharray="4.6 4.0"/>
<g fill="none" stroke="#222" stroke-width="0.7" stroke-dasharray="1.3 0.9"><ellipse cx="193.75" cy="165.00" rx="3.9" ry="1.7" transform="rotate(-20 193.75 165.00)"/><ellipse cx="201.85" cy="170.00" rx="3.9" ry="1.7" transform="rotate(-20 201.85 170.00)"/><ellipse cx="209.95" cy="175.00" rx="3.9" ry="1.7" transform="rotate(-20 209.95 175.00)"/><ellipse cx="218.05" cy="180.00" rx="3.9" ry="1.7" transform="rotate(-20 218.05 180.00)"/><ellipse cx="175.00" cy="170.60" rx="3.9" ry="1.7" transform="rotate(-20 175.00 170.60)"/><ellipse cx="183.10" cy="175.60" rx="3.9" ry="1.7" transform="rotate(-20 183.10 175.60)"/><ellipse cx="191.20" cy="180.60" rx="3.9" ry="1.7" transform="rotate(-20 191.20 180.60)"/><ellipse cx="199.30" cy="185.60" rx="3.9" ry="1.7" transform="rotate(-20 199.30 185.60)"/><ellipse cx="164.50" cy="181.80" rx="3.9" ry="1.7" transform="rotate(-20 164.50 181.80)"/><ellipse cx="172.60" cy="186.80" rx="3.9" ry="1.7" transform="rotate(-20 172.60 186.80)"/><ellipse cx="180.70" cy="191.80" rx="3.9" ry="1.7" transform="rotate(-20 180.70 191.80)"/><ellipse cx="188.80" cy="196.80" rx="3.9" ry="1.7" transform="rotate(-20 188.80 196.80)"/><ellipse cx="145.75" cy="187.40" rx="3.9" ry="1.7" transform="rotate(-20 145.75 187.40)"/><ellipse cx="153.85" cy="192.40" rx="3.9" ry="1.7" transform="rotate(-20 153.85 192.40)"/><ellipse cx="161.95" cy="197.40" rx="3.9" ry="1.7" transform="rotate(-20 161.95 197.40)"/><ellipse cx="170.05" cy="202.40" rx="3.9" ry="1.7" transform="rotate(-20 170.05 202.40)"/><ellipse cx="135.25" cy="198.60" rx="3.9" ry="1.7" transform="rotate(-20 135.25 198.60)"/><ellipse cx="143.35" cy="203.60" rx="3.9" ry="1.7" transform="rotate(-20 143.35 203.60)"/><ellipse cx="151.45" cy="208.60" rx="3.9" ry="1.7" transform="rotate(-20 151.45 208.60)"/><ellipse cx="159.55" cy="213.60" rx="3.9" ry="1.7" transform="rotate(-20 159.55 213.60)"/><ellipse cx="116.50" cy="204.20" rx="3.9" ry="1.7" transform="rotate(-20 116.50 204.20)"/><ellipse cx="124.60" cy="209.20" rx="3.9" ry="1.7" transform="rotate(-20 124.60 209.20)"/><ellipse cx="132.70" cy="214.20" rx="3.9" ry="1.7" transform="rotate(-20 132.70 214.20)"/><ellipse cx="140.80" cy="219.20" rx="3.9" ry="1.7" transform="rotate(-20 140.80 219.20)"/><ellipse cx="106.00" cy="215.40" rx="3.9" ry="1.7" transform="rotate(-20 106.00 215.40)"/><ellipse cx="114.10" cy="220.40" rx="3.9" ry="1.7" transform="rotate(-20 114.10 220.40)"/><ellipse cx="122.20" cy="225.40" rx="3.9" ry="1.7" transform="rotate(-20 122.20 225.40)"/><ellipse cx="130.30" cy="230.40" rx="3.9" ry="1.7" transform="rotate(-20 130.30 230.40)"/></g>
<text x="45.20" y="271.30" font-size="11.6">Zahnwurz-Buchenwald</text><text x="45.20" y="285.40" font-size="11.6">- Jura</text>
<g transform="translate(168.00,225.00) scale(0.15408)"><path d="M35,218 H480 V152 H432 V40 H680 V152 H632 V218 H680 V275 Q520,396 370,465 H35 Z" fill="#fff" stroke="none"/><rect x="487" y="44" width="38" height="84" fill="#b7dba9"/><rect x="585" y="44" width="40" height="84" fill="#b7dba9"/><path d="M35,218 H480 V152 H432 V40 H680 V152 H632 V218 H680 V275 Q520,396 370,465 H35 Z M35,318 H133 V218 M185,218 V318 H230 V218 M283,218 V318 H328 V218 M382,218 V318 H430 V218 M480,270 H528 V318 H480 Z M580,322 V270 H628 V295 H655 M35,368 H83 V465 M133,465 V368 H182 V465 M133,415 H182 M237,465 V368 H283 V465 M237,415 H283 M335,465 V368 H382 V458 M335,415 H382 M432,432 V368 H480 V398 M485,40 V130 H527 V40 M583,40 V130 H627 V40 M528,218 V152 H580 V218 M480,218 H632" fill="none" stroke="#111" stroke-width="4.80" stroke-linejoin="miter"/><path d="M662,282 Q512,392 392,450" fill="none" stroke="#222" stroke-width="7" stroke-dasharray="4 22"/></g>
<polygon points="290.10,81.80 430.00,12.10 430.80,63.80 290.10,141.30" fill="#fefefe"/>
<polygon points="290.10,83.19 430.02,13.31 430.10,18.48 290.10,89.14" fill="url(#wg2)"/>
<line x1="290.10" y1="82.39" x2="430.01" y2="12.62" stroke="#e3ddd4" stroke-width="2.32"/>
<line x1="290.10" y1="84.58" x2="430.04" y2="14.51" stroke="#eeeae4" stroke-width="1.02"/>
<line x1="290.10" y1="87.06" x2="430.07" y2="16.67" stroke="#d5cfc6" stroke-width="2.50" stroke-dasharray="1 4.6"/>
<line x1="290.10" y1="92.31" x2="430.14" y2="21.23" stroke="#e3ddd4" stroke-width="2.32"/>
<line x1="290.10" y1="94.49" x2="430.17" y2="23.13" stroke="#eeeae4" stroke-width="1.02"/>
<line x1="290.10" y1="96.97" x2="430.20" y2="25.28" stroke="#d5cfc6" stroke-width="2.50" stroke-dasharray="1 4.6"/>
<polygon points="290.10,103.02 430.29,30.54 430.37,35.71 290.10,108.97" fill="url(#wg2)"/>
<line x1="290.10" y1="102.23" x2="430.27" y2="29.85" stroke="#e3ddd4" stroke-width="2.32"/>
<line x1="290.10" y1="104.41" x2="430.30" y2="31.75" stroke="#eeeae4" stroke-width="1.02"/>
<line x1="290.10" y1="106.89" x2="430.34" y2="33.90" stroke="#d5cfc6" stroke-width="2.50" stroke-dasharray="1 4.6"/>
<line x1="290.10" y1="112.15" x2="430.41" y2="38.47" stroke="#e3ddd4" stroke-width="2.32"/>
<line x1="290.10" y1="114.33" x2="430.44" y2="40.36" stroke="#eeeae4" stroke-width="1.02"/>
<line x1="290.10" y1="116.81" x2="430.47" y2="42.52" stroke="#d5cfc6" stroke-width="2.50" stroke-dasharray="1 4.6"/>
<polygon points="290.10,122.86 430.55,47.77 430.63,52.94 290.10,128.81" fill="url(#wg2)"/>
<line x1="290.10" y1="122.06" x2="430.54" y2="47.08" stroke="#e3ddd4" stroke-width="2.32"/>
<line x1="290.10" y1="124.24" x2="430.57" y2="48.98" stroke="#eeeae4" stroke-width="1.02"/>
<line x1="290.10" y1="126.72" x2="430.60" y2="51.13" stroke="#d5cfc6" stroke-width="2.50" stroke-dasharray="1 4.6"/>
<line x1="290.10" y1="131.98" x2="430.67" y2="55.70" stroke="#e3ddd4" stroke-width="2.32"/>
<line x1="290.10" y1="134.16" x2="430.70" y2="57.60" stroke="#eeeae4" stroke-width="1.02"/>
<line x1="290.10" y1="136.64" x2="430.74" y2="59.75" stroke="#d5cfc6" stroke-width="2.50" stroke-dasharray="1 4.6"/><polygon points="430.00,12.10 487.60,41.20 487.60,95.50 430.80,63.80" fill="#fefefe"/>
<line x1="430.01" y1="12.62" x2="487.60" y2="41.74" stroke="#e3ddd4" stroke-width="2.21"/>
<line x1="430.04" y1="14.51" x2="487.60" y2="43.73" stroke="#eeeae4" stroke-width="0.97"/>
<line x1="430.07" y1="16.67" x2="487.60" y2="46.00" stroke="#d5cfc6" stroke-width="2.39" stroke-dasharray="1 4.9"/>
<line x1="430.14" y1="21.23" x2="487.60" y2="50.79" stroke="#e3ddd4" stroke-width="2.21"/>
<line x1="430.17" y1="23.13" x2="487.60" y2="52.78" stroke="#eeeae4" stroke-width="0.97"/>
<line x1="430.20" y1="25.28" x2="487.60" y2="55.05" stroke="#d5cfc6" stroke-width="2.39" stroke-dasharray="1 4.9"/>
<line x1="430.27" y1="29.85" x2="487.60" y2="59.84" stroke="#e3ddd4" stroke-width="2.21"/>
<line x1="430.30" y1="31.75" x2="487.60" y2="61.83" stroke="#eeeae4" stroke-width="0.97"/>
<line x1="430.34" y1="33.90" x2="487.60" y2="64.10" stroke="#d5cfc6" stroke-width="2.39" stroke-dasharray="1 4.9"/>
<line x1="430.41" y1="38.47" x2="487.60" y2="68.89" stroke="#e3ddd4" stroke-width="2.21"/>
<line x1="430.44" y1="40.36" x2="487.60" y2="70.88" stroke="#eeeae4" stroke-width="0.97"/>
<line x1="430.47" y1="42.52" x2="487.60" y2="73.15" stroke="#d5cfc6" stroke-width="2.39" stroke-dasharray="1 4.9"/>
<line x1="430.54" y1="47.08" x2="487.60" y2="77.94" stroke="#e3ddd4" stroke-width="2.21"/>
<line x1="430.57" y1="48.98" x2="487.60" y2="79.93" stroke="#eeeae4" stroke-width="0.97"/>
<line x1="430.60" y1="51.13" x2="487.60" y2="82.20" stroke="#d5cfc6" stroke-width="2.39" stroke-dasharray="1 4.9"/>
<line x1="430.67" y1="55.70" x2="487.60" y2="86.99" stroke="#e3ddd4" stroke-width="2.21"/>
<line x1="430.70" y1="57.60" x2="487.60" y2="88.98" stroke="#eeeae4" stroke-width="0.97"/>
<line x1="430.74" y1="59.75" x2="487.60" y2="91.25" stroke="#d5cfc6" stroke-width="2.39" stroke-dasharray="1 4.9"/>
<polygon points="430.80,63.80 487.90,96.50 350.00,176.50 291.80,142.20" fill="#e3e3e3"/>
<polyline points="291.80,142.20 430.80,63.80 487.90,96.50" fill="none" stroke="#9a9a9a" stroke-width="0.6"/>
<g><path d="M399.62,89.23 C401.03,86.86 400.51,86.60 405.77,85.77 C411.03,84.94 408.97,87.37 415.38,86.73 C421.79,86.09 420.38,83.53 425.00,83.85 C429.62,84.17 430.51,85.00 429.23,87.69 C427.95,90.38 427.69,90.19 421.15,91.92 C414.62,93.65 416.15,92.56 409.62,92.88 C403.08,93.21 404.87,94.10 401.54,92.88 C398.21,91.67 398.21,91.60 399.62,89.23Z" fill="#f5f5f5"/><path d="M369.62,122.69 C373.85,119.74 372.44,120.83 378.85,120.38 C385.26,119.94 387.44,118.78 388.85,121.35 C390.26,123.91 388.85,124.81 383.08,128.08 C377.31,131.35 377.18,130.77 371.54,131.15 C365.90,131.54 366.79,132.05 366.15,129.23 C365.51,126.41 365.38,125.64 369.62,122.69Z" fill="#f5f5f5"/><path d="M382.31,136.54 C385.32,133.21 384.49,135.06 392.31,131.92 C400.13,128.78 398.59,128.40 405.77,127.12 C412.95,125.83 412.44,125.83 413.85,128.08 C415.26,130.32 415.26,130.51 410.00,133.85 C404.74,137.18 405.26,135.06 398.08,138.08 C390.90,141.09 393.40,141.60 388.46,142.88 C383.53,144.17 385.32,144.04 383.27,141.92 C381.22,139.81 379.29,139.87 382.31,136.54Z" fill="#f5f5f5"/><path d="M336.54,120.77 C337.05,118.53 337.69,118.46 338.46,120.38 C339.23,122.31 339.36,124.29 338.85,126.54 C338.33,128.78 337.69,129.04 336.92,127.12 C336.15,125.19 336.03,123.01 336.54,120.77Z" fill="#f5f5f5"/><path d="M436.92,103.08 C437.44,100.83 438.46,100.51 440.00,102.12 C441.54,103.72 442.05,105.64 441.54,107.88 C441.03,110.13 440.00,110.45 438.46,108.85 C436.92,107.24 436.41,105.32 436.92,103.08Z" fill="#f5f5f5"/><path d="M348.08,145.38 C350.77,144.87 351.92,145.51 355.77,146.92 C359.62,148.33 360.26,148.21 359.62,149.62 C358.97,151.03 357.82,151.54 353.85,151.15 C349.87,150.77 349.62,150.38 347.69,148.46 C345.77,146.54 345.38,145.90 348.08,145.38Z" fill="#f5f5f5"/><path d="M355.38,118.85 C358.08,117.12 358.21,118.91 363.46,116.54 C368.72,114.17 366.15,115.58 371.15,111.73 C376.15,107.88 374.49,107.12 378.46,105.00 C382.44,102.88 382.18,103.14 383.08,105.38 C383.97,107.63 384.36,108.01 381.15,111.73 C377.95,115.45 377.95,112.88 373.46,116.54 C368.97,120.19 372.31,120.32 367.69,122.69 C363.08,125.06 363.72,123.97 359.62,123.65 C355.51,123.33 356.79,123.33 355.38,121.73 C353.97,120.13 352.69,120.58 355.38,118.85Z" fill="#7f7f7f"/><path d="M371.73,118.85 C374.42,116.79 375.19,117.63 382.69,115.58 C390.19,113.53 386.54,115.32 394.23,112.69 C401.92,110.06 400.19,108.72 405.77,107.69 C411.35,106.67 410.83,107.56 410.96,109.62 C411.09,111.67 411.73,110.77 406.15,113.85 C400.58,116.92 402.05,116.54 394.23,118.85 C386.41,121.15 389.23,119.81 382.69,120.77 C376.15,121.73 378.27,122.37 374.62,121.73 C370.96,121.09 369.04,120.90 371.73,118.85Z" fill="#7f7f7f"/><path d="M415.00,93.85 C416.28,90.58 417.18,90.90 423.08,88.85 C428.97,86.79 426.15,87.18 432.69,87.69 C439.23,88.21 440.00,88.33 442.69,90.38 C445.38,92.44 445.38,91.73 440.77,93.85 C436.15,95.96 436.03,95.13 428.85,96.73 C421.67,98.33 423.85,99.62 419.23,98.65 C414.62,97.69 413.72,97.12 415.00,93.85Z" fill="#7f7f7f"/><path d="M341.92,136.15 C343.97,135.06 344.74,138.14 351.92,137.69 C359.10,137.24 356.92,135.45 363.46,134.81 C370.00,134.17 369.49,134.36 371.54,135.77 C373.59,137.18 374.23,137.31 369.62,139.04 C365.00,140.77 365.64,140.32 357.69,140.96 C349.74,141.60 351.03,142.56 345.77,140.96 C340.51,139.36 339.87,137.24 341.92,136.15Z" fill="#7f7f7f"/><path d="M330.38,147.69 C332.44,145.64 331.92,146.15 338.46,145.38 C345.00,144.62 343.78,144.10 350.00,145.38 C356.22,146.67 355.71,146.86 357.12,149.23 C358.53,151.60 359.17,151.41 354.23,152.50 C349.29,153.59 349.62,152.82 342.31,152.50 C335.00,152.18 336.28,153.14 332.31,151.54 C328.33,149.94 328.33,149.74 330.38,147.69Z" fill="#7f7f7f"/><path d="M330.38,128.46 C332.76,125.26 331.28,126.28 336.54,126.15 C341.79,126.03 341.67,128.72 346.15,128.08 C350.64,127.44 344.87,124.87 350.00,124.23 C355.13,123.59 356.92,123.59 361.54,126.15 C366.15,128.72 366.41,128.59 363.85,131.92 C361.28,135.26 360.38,134.74 353.85,136.15 C347.31,137.56 348.72,134.23 344.23,136.15 C339.74,138.08 344.23,140.00 340.38,141.92 C336.54,143.85 336.35,143.97 332.69,141.92 C329.04,139.87 330.19,140.26 329.42,135.77 C328.65,131.28 328.01,131.67 330.38,128.46Z" fill="#6f9862"/><path d="M334.62,130.96 C337.82,129.68 337.82,131.60 344.23,130.96 C350.64,130.32 349.36,128.72 353.85,129.04 C358.33,129.36 359.62,130.32 357.69,131.92 C355.77,133.53 354.49,132.24 348.08,133.85 C341.67,135.45 342.95,136.41 338.46,136.73 C333.97,137.05 335.90,136.73 334.62,134.81 C333.33,132.88 331.41,132.24 334.62,130.96Z" fill="#8fb07f"/><path d="M385.19,114.04 C382.88,111.54 384.17,111.54 385.77,106.92 C387.37,102.31 385.90,103.85 390.00,100.19 C394.10,96.54 392.82,97.82 398.08,95.96 C403.33,94.10 399.87,94.74 405.77,94.62 C411.67,94.49 412.18,93.78 415.77,95.58 C419.36,97.37 419.23,97.37 416.54,100.00 C413.85,102.63 411.92,100.64 407.69,103.46 C403.46,106.28 406.73,105.51 403.85,108.46 C400.96,111.41 402.76,110.32 399.04,112.31 C395.32,114.29 397.31,113.85 392.69,114.42 C388.08,115.00 387.50,116.54 385.19,114.04Z" fill="#4c7745"/><path d="M385.77,110.38 C384.49,108.46 384.81,108.97 386.54,105.38 C388.27,101.79 386.79,102.82 390.96,99.62 C395.13,96.41 393.78,97.37 399.04,95.77 C404.29,94.17 402.44,94.74 406.73,94.81 C411.03,94.87 412.56,94.23 411.92,95.96 C411.28,97.69 408.65,97.12 404.81,100.00 C400.96,102.88 403.59,101.67 400.38,104.62 C397.18,107.56 398.53,106.67 395.19,108.85 C391.86,111.03 393.53,110.64 390.38,111.15 C387.24,111.67 387.05,112.31 385.77,110.38Z" fill="#6c955f"/><path d="M386.15,107.31 C385.06,105.77 386.03,105.26 388.08,102.31 C390.13,99.36 388.46,100.71 392.31,98.46 C396.15,96.22 395.26,96.60 399.62,95.58 C403.97,94.55 404.87,94.17 405.38,95.38 C405.90,96.60 404.10,96.67 401.15,99.23 C398.21,101.79 399.81,100.51 396.54,103.08 C393.27,105.64 394.81,105.51 391.35,106.92 C387.88,108.33 387.24,108.85 386.15,107.31Z" fill="#94b384"/><path d="M386.54,104.23 C386.60,102.69 386.73,102.69 389.04,100.38 C391.35,98.08 389.68,98.91 393.46,97.31 C397.24,95.71 398.59,95.19 400.38,95.58 C402.18,95.96 401.28,96.41 398.85,98.46 C396.41,100.51 396.41,99.55 393.08,101.73 C389.74,103.91 391.03,104.17 388.85,105.00 C386.67,105.83 386.47,105.77 386.54,104.23Z" fill="#c5c56c"/><path d="M404.42,106.15 C405.06,103.46 407.12,102.82 411.54,101.15 C415.96,99.49 416.28,99.23 417.69,101.15 C419.10,103.08 418.46,104.23 415.77,106.92 C413.08,109.62 413.40,109.49 409.62,109.23 C405.83,108.97 403.78,108.85 404.42,106.15Z" fill="#a9c994"/><path d="M371.73,133.27 C373.78,131.60 375.96,134.68 380.77,131.54 C385.58,128.40 381.15,128.65 386.15,123.85 C391.15,119.04 389.42,119.81 395.77,117.12 C402.12,114.42 401.92,113.27 405.19,115.77 C408.46,118.27 407.82,120.26 405.58,124.62 C403.33,128.97 403.40,126.15 398.46,128.85 C393.53,131.54 396.03,130.13 390.77,132.69 C385.51,135.26 388.08,135.26 382.69,136.54 C377.31,137.82 378.27,137.63 374.62,136.54 C370.96,135.45 369.68,134.94 371.73,133.27Z" fill="#4c7745"/><path d="M382.31,131.54 C383.33,128.33 383.21,128.59 388.08,124.23 C392.95,119.87 391.47,120.83 396.92,118.46 C402.37,116.09 401.86,115.71 404.42,117.12 C406.99,118.53 406.73,119.49 404.62,122.69 C402.50,125.90 402.69,124.10 398.08,126.73 C393.46,129.36 395.13,128.21 390.77,130.58 C386.41,132.95 387.82,133.53 385.00,133.85 C382.18,134.17 381.28,134.74 382.31,131.54Z" fill="#6c955f"/><path d="M385.77,130.38 C386.73,128.08 386.28,128.46 390.38,125.00 C394.49,121.54 393.53,122.18 398.08,120.00 C402.63,117.82 402.05,118.01 404.04,118.46 C406.03,118.91 406.15,119.29 404.04,121.35 C401.92,123.40 401.92,122.24 397.69,124.62 C393.46,126.99 394.74,126.03 391.35,128.46 C387.95,130.90 389.36,131.28 387.50,131.92 C385.64,132.56 384.81,132.69 385.77,130.38Z" fill="#94b384"/><path d="M388.46,129.62 C388.46,128.85 389.17,128.08 392.69,125.38 C396.22,122.69 395.38,123.33 399.04,121.54 C402.69,119.74 403.72,119.23 403.65,120.00 C403.59,120.77 402.50,121.28 398.85,123.85 C395.19,126.41 396.15,125.77 392.69,127.69 C389.23,129.62 388.46,130.38 388.46,129.62Z" fill="#c9dcbc"/><path d="M424.62,99.62 C427.31,96.73 427.44,97.44 432.69,96.35 C437.95,95.26 435.26,98.27 440.38,96.35 C445.51,94.42 442.82,91.86 448.08,90.58 C453.33,89.29 453.33,88.97 456.15,92.50 C458.97,96.03 459.23,96.54 456.54,101.15 C453.85,105.77 454.10,103.97 448.08,106.35 C442.05,108.72 443.59,106.03 438.46,108.27 C433.33,110.51 436.67,112.12 432.69,113.08 C428.72,114.04 429.23,113.85 426.54,111.15 C423.85,108.46 425.26,108.85 424.62,105.00 C423.97,101.15 421.92,102.50 424.62,99.62Z" fill="#6f9862"/><path d="M437.50,100.19 C438.59,96.35 438.85,98.65 442.69,95.77 C446.54,92.88 444.68,92.50 449.04,91.54 C453.40,90.58 453.40,89.81 455.77,92.88 C458.14,95.96 458.72,96.47 456.15,100.77 C453.59,105.06 453.65,103.59 448.08,105.77 C442.50,107.95 442.95,109.17 439.42,107.31 C435.90,105.45 436.41,104.04 437.50,100.19Z" fill="#4c7745"/><path d="M440.00,99.62 C442.56,95.64 443.33,95.13 448.08,93.46 C452.82,91.79 452.18,92.31 454.23,94.62 C456.28,96.92 456.54,97.18 454.23,100.38 C451.92,103.59 451.92,102.56 447.31,104.23 C442.69,105.90 442.82,106.92 440.38,105.38 C437.95,103.85 437.44,103.59 440.00,99.62Z" fill="#6c955f"/><path d="M441.54,100.00 C443.72,96.92 444.74,96.35 448.46,95.00 C452.18,93.65 451.41,94.29 452.69,95.96 C453.97,97.63 454.23,97.63 452.31,100.00 C450.38,102.37 450.38,101.67 446.92,103.08 C443.46,104.49 443.72,105.26 441.92,104.23 C440.13,103.21 439.36,103.08 441.54,100.00Z" fill="#94b384"/><path d="M443.46,100.38 C445.26,98.33 446.28,97.56 448.85,96.54 C451.41,95.51 450.51,96.28 451.15,97.31 C451.79,98.33 452.31,98.08 450.77,99.62 C449.23,101.15 448.97,100.90 446.54,101.92 C444.10,102.95 444.49,103.21 443.46,102.69 C442.44,102.18 441.67,102.44 443.46,100.38Z" fill="#c9dcbc"/><path d="M425.00,101.15 C426.41,97.12 426.92,98.27 430.77,98.27 C434.62,98.27 434.94,97.31 436.54,101.15 C438.14,105.00 437.50,106.09 435.58,109.81 C433.65,113.53 433.78,112.12 430.77,112.31 C427.76,112.50 428.46,114.10 426.54,110.38 C424.62,106.67 423.59,105.19 425.00,101.15Z" fill="#5b8852"/><path d="M407.31,120.77 C407.31,117.76 408.21,116.67 411.54,113.65 C414.87,110.64 414.10,111.41 417.31,111.73 C420.51,112.05 416.03,114.29 421.15,114.62 C426.28,114.94 427.12,112.69 432.69,112.69 C438.27,112.69 437.88,112.24 437.88,114.62 C437.88,116.99 438.27,118.72 432.69,119.81 C427.12,120.90 428.21,116.92 421.15,117.88 C414.10,118.85 416.15,121.73 411.54,122.69 C406.92,123.65 407.31,123.78 407.31,120.77Z" fill="#c5c56c"/><path d="M353.46,145.77 C355.38,143.40 356.28,143.59 363.46,141.54 C370.64,139.49 369.10,138.97 375.00,139.62 C380.90,140.26 381.03,140.45 381.15,143.46 C381.28,146.47 380.00,146.28 375.38,148.65 C370.77,151.03 373.21,150.58 367.31,150.58 C361.41,150.58 362.31,150.26 357.69,148.65 C353.08,147.05 351.54,148.14 353.46,145.77Z" fill="#c5c56c"/></g><path d="M382.69,81.92 C383.31,81.92 383.12,82.29 383.76,83.40 C384.41,84.51 384.15,83.99 384.83,85.62 C385.52,87.24 385.30,86.82 386.04,88.82 C386.77,90.81 386.75,90.19 387.28,92.26 C387.82,94.33 387.50,93.79 387.82,95.71 C388.14,97.63 388.36,96.89 388.35,98.66 C388.34,100.43 388.40,99.99 387.80,101.62 C387.19,103.24 387.24,102.82 386.32,104.08 C385.40,105.33 385.82,105.06 384.73,105.80 C383.64,106.54 383.89,106.54 382.69,106.54 C381.50,106.54 381.85,106.54 380.74,105.80 C379.64,105.06 379.87,105.33 379.00,104.08 C378.14,102.82 378.44,103.24 377.86,101.62 C377.27,99.99 377.12,100.43 377.06,98.66 C377.00,96.89 377.27,97.63 377.67,95.71 C378.06,93.79 377.91,94.33 378.38,92.26 C378.85,90.19 378.59,90.81 379.22,88.82 C379.86,86.82 379.76,87.24 380.50,85.62 C381.24,83.99 381.03,84.51 381.69,83.40 C382.35,82.29 382.07,81.92 382.69,81.92Z" fill="#34603a"/><path d="M382.69,105.54 L382.69,113.85" stroke="#34603a" stroke-width="0.97"/><path d="M420.58,93.08 C421.15,93.08 420.98,93.41 421.57,94.39 C422.16,95.38 421.93,94.92 422.56,96.37 C423.19,97.81 422.99,97.44 423.68,99.22 C424.36,100.99 424.33,100.44 424.83,102.28 C425.32,104.13 425.03,103.64 425.33,105.35 C425.62,107.06 425.82,106.41 425.82,107.98 C425.81,109.56 425.87,109.17 425.30,110.62 C424.74,112.06 424.79,111.69 423.94,112.81 C423.08,113.93 423.47,113.68 422.46,114.34 C421.46,115.00 421.68,115.00 420.58,115.00 C419.47,115.00 419.80,115.00 418.77,114.34 C417.75,113.68 417.96,113.93 417.16,112.81 C416.36,111.69 416.64,112.06 416.10,110.62 C415.56,109.17 415.42,109.56 415.36,107.98 C415.31,106.41 415.56,107.06 415.92,105.35 C416.29,103.64 416.15,104.13 416.58,102.28 C417.02,100.44 416.77,100.99 417.36,99.22 C417.95,97.44 417.86,97.81 418.55,96.37 C419.23,94.92 419.04,95.38 419.65,94.39 C420.26,93.41 420.00,93.08 420.58,93.08Z" fill="#34603a"/><path d="M420.58,114.00 L420.58,123.46" stroke="#34603a" stroke-width="0.90"/><g><path d="M350.96,116.72 L351.16,145.00" stroke="#5d7d5a" stroke-width="1.12"/><path d="M353.96,125.04 L354.26,143.67" stroke="#5d7d5a" stroke-width="0.75"/><ellipse cx="351.75" cy="111.86" rx="0.68" ry="0.62" fill="#4b7a50" transform="rotate(11 351.75 111.86)"/><ellipse cx="350.91" cy="112.58" rx="1.12" ry="0.94" fill="#4b7a50" transform="rotate(6 350.91 112.58)"/><ellipse cx="351.99" cy="112.98" rx="0.73" ry="0.70" fill="#7fa57c" transform="rotate(-7 351.99 112.98)"/><ellipse cx="351.00" cy="113.82" rx="1.00" ry="1.23" fill="#3a6642" transform="rotate(7 351.00 113.82)"/><ellipse cx="353.36" cy="113.98" rx="1.27" ry="1.46" fill="#4b7a50" transform="rotate(20 353.36 113.98)"/><ellipse cx="348.43" cy="114.63" rx="1.52" ry="2.22" fill="#3a6642" transform="rotate(-40 348.43 114.63)"/><ellipse cx="353.73" cy="115.53" rx="1.79" ry="2.50" fill="#4b7a50" transform="rotate(12 353.73 115.53)"/><ellipse cx="350.45" cy="115.81" rx="1.46" ry="1.40" fill="#4b7a50" transform="rotate(-35 350.45 115.81)"/><ellipse cx="353.40" cy="116.17" rx="1.98" ry="2.31" fill="#3a6642" transform="rotate(3 353.40 116.17)"/><ellipse cx="348.77" cy="116.76" rx="1.20" ry="1.73" fill="#3a6642" transform="rotate(16 348.77 116.76)"/><ellipse cx="353.10" cy="117.38" rx="1.92" ry="1.96" fill="#4b7a50" transform="rotate(1 353.10 117.38)"/><ellipse cx="351.29" cy="117.83" rx="1.46" ry="1.94" fill="#4b7a50" transform="rotate(-10 351.29 117.83)"/><ellipse cx="355.88" cy="118.39" rx="1.57" ry="1.29" fill="#4b7a50" transform="rotate(-30 355.88 118.39)"/><ellipse cx="346.90" cy="119.37" rx="2.15" ry="3.16" fill="#4b7a50" transform="rotate(-4 346.90 119.37)"/><ellipse cx="352.32" cy="119.60" rx="2.08" ry="2.92" fill="#7fa57c" transform="rotate(-31 352.32 119.60)"/><ellipse cx="350.59" cy="120.14" rx="1.90" ry="1.70" fill="#4b7a50" transform="rotate(-20 350.59 120.14)"/><ellipse cx="351.61" cy="120.71" rx="1.48" ry="1.36" fill="#3a6642" transform="rotate(6 351.61 120.71)"/><ellipse cx="348.47" cy="121.62" rx="2.02" ry="1.91" fill="#7fa57c" transform="rotate(-26 348.47 121.62)"/><ellipse cx="351.86" cy="121.66" rx="1.69" ry="2.16" fill="#4b7a50" transform="rotate(-35 351.86 121.66)"/><ellipse cx="348.32" cy="122.47" rx="1.93" ry="1.59" fill="#3a6642" transform="rotate(-3 348.32 122.47)"/><ellipse cx="353.89" cy="123.15" rx="2.82" ry="3.20" fill="#4b7a50" transform="rotate(12 353.89 123.15)"/><ellipse cx="350.30" cy="123.54" rx="2.15" ry="2.69" fill="#4b7a50" transform="rotate(-13 350.30 123.54)"/><ellipse cx="351.75" cy="124.10" rx="1.93" ry="1.87" fill="#4b7a50" transform="rotate(-11 351.75 124.10)"/><ellipse cx="350.03" cy="124.60" rx="2.04" ry="2.91" fill="#4b7a50" transform="rotate(-26 350.03 124.60)"/><ellipse cx="353.96" cy="125.47" rx="2.84" ry="3.57" fill="#3a6642" transform="rotate(-35 353.96 125.47)"/><ellipse cx="351.01" cy="125.74" rx="1.92" ry="2.71" fill="#7fa57c" transform="rotate(-19 351.01 125.74)"/><ellipse cx="355.49" cy="126.21" rx="2.72" ry="3.40" fill="#3a6642" transform="rotate(27 355.49 126.21)"/><ellipse cx="346.76" cy="126.69" rx="2.73" ry="2.83" fill="#4b7a50" transform="rotate(23 346.76 126.69)"/><ellipse cx="357.39" cy="127.16" rx="2.95" ry="3.74" fill="#4b7a50" transform="rotate(39 357.39 127.16)"/><ellipse cx="345.76" cy="127.74" rx="2.55" ry="2.15" fill="#4b7a50" transform="rotate(19 345.76 127.74)"/><ellipse cx="356.01" cy="128.53" rx="2.88" ry="2.75" fill="#4b7a50" transform="rotate(-20 356.01 128.53)"/><ellipse cx="346.35" cy="128.78" rx="1.79" ry="2.45" fill="#3a6642" transform="rotate(-12 346.35 128.78)"/><ellipse cx="356.73" cy="129.62" rx="1.88" ry="2.39" fill="#4b7a50" transform="rotate(31 356.73 129.62)"/><ellipse cx="348.82" cy="130.29" rx="2.29" ry="1.87" fill="#4b7a50" transform="rotate(36 348.82 130.29)"/><ellipse cx="354.81" cy="130.48" rx="1.93" ry="2.58" fill="#4b7a50" transform="rotate(-30 354.81 130.48)"/><ellipse cx="348.60" cy="131.39" rx="1.57" ry="2.18" fill="#3a6642" transform="rotate(-30 348.60 131.39)"/><ellipse cx="354.08" cy="132.05" rx="1.78" ry="2.64" fill="#4b7a50" transform="rotate(22 354.08 132.05)"/><ellipse cx="349.38" cy="132.54" rx="1.59" ry="2.30" fill="#3a6642" transform="rotate(6 349.38 132.54)"/><ellipse cx="353.90" cy="132.90" rx="2.52" ry="3.38" fill="#4b7a50" transform="rotate(-15 353.90 132.90)"/><ellipse cx="346.68" cy="133.52" rx="2.01" ry="1.77" fill="#4b7a50" transform="rotate(7 346.68 133.52)"/><ellipse cx="352.46" cy="134.20" rx="1.57" ry="1.80" fill="#4b7a50" transform="rotate(29 352.46 134.20)"/><ellipse cx="351.54" cy="134.80" rx="1.55" ry="1.94" fill="#4b7a50" transform="rotate(-26 351.54 134.80)"/><ellipse cx="355.04" cy="135.08" rx="1.87" ry="1.59" fill="#4b7a50" transform="rotate(-3 355.04 135.08)"/><ellipse cx="347.93" cy="135.56" rx="2.35" ry="2.92" fill="#3a6642" transform="rotate(38 347.93 135.56)"/><ellipse cx="354.01" cy="136.41" rx="2.16" ry="2.91" fill="#4b7a50" transform="rotate(24 354.01 136.41)"/><ellipse cx="348.89" cy="136.90" rx="1.63" ry="1.47" fill="#3a6642" transform="rotate(6 348.89 136.90)"/><ellipse cx="349.82" cy="135.50" rx="0.67" ry="1.28" fill="#eef2ec" opacity="0.85"/><ellipse cx="352.21" cy="125.72" rx="0.67" ry="1.28" fill="#eef2ec" opacity="0.85"/><ellipse cx="352.36" cy="130.01" rx="0.67" ry="1.28" fill="#eef2ec" opacity="0.85"/><ellipse cx="355.22" cy="123.10" rx="0.67" ry="1.28" fill="#eef2ec" opacity="0.85"/><ellipse cx="353.91" cy="121.55" rx="0.67" ry="1.28" fill="#eef2ec" opacity="0.85"/></g><g><path d="M434.62,69.34 L434.82,101.54" stroke="#5d7d5a" stroke-width="0.94"/><path d="M437.12,78.81 L437.37,100.02" stroke="#5d7d5a" stroke-width="0.62"/><ellipse cx="435.35" cy="63.86" rx="0.66" ry="0.57" fill="#4b7a50" transform="rotate(6 435.35 63.86)"/><ellipse cx="433.41" cy="64.64" rx="0.61" ry="0.52" fill="#4b7a50" transform="rotate(-10 433.41 64.64)"/><ellipse cx="435.96" cy="64.96" rx="0.92" ry="0.82" fill="#4b7a50" transform="rotate(40 435.96 64.96)"/><ellipse cx="434.97" cy="65.90" rx="0.96" ry="0.80" fill="#4b7a50" transform="rotate(31 434.97 65.90)"/><ellipse cx="435.89" cy="66.69" rx="0.82" ry="0.72" fill="#4b7a50" transform="rotate(-17 435.89 66.69)"/><ellipse cx="433.56" cy="66.85" rx="0.86" ry="0.75" fill="#3a6642" transform="rotate(32 433.56 66.85)"/><ellipse cx="435.72" cy="67.45" rx="1.26" ry="1.39" fill="#4b7a50" transform="rotate(34 435.72 67.45)"/><ellipse cx="433.93" cy="68.61" rx="1.09" ry="1.01" fill="#3a6642" transform="rotate(-30 433.93 68.61)"/><ellipse cx="436.89" cy="69.02" rx="1.59" ry="2.09" fill="#4b7a50" transform="rotate(-31 436.89 69.02)"/><ellipse cx="433.67" cy="69.36" rx="1.54" ry="1.39" fill="#4b7a50" transform="rotate(-35 433.67 69.36)"/><ellipse cx="435.40" cy="70.52" rx="1.48" ry="2.00" fill="#3a6642" transform="rotate(3 435.40 70.52)"/><ellipse cx="432.86" cy="70.97" rx="1.54" ry="1.72" fill="#3a6642" transform="rotate(-6 432.86 70.97)"/><ellipse cx="437.70" cy="71.46" rx="1.12" ry="1.45" fill="#3a6642" transform="rotate(17 437.70 71.46)"/><ellipse cx="433.58" cy="71.97" rx="1.70" ry="1.39" fill="#4b7a50" transform="rotate(-19 433.58 71.97)"/><ellipse cx="437.16" cy="72.80" rx="1.34" ry="1.35" fill="#3a6642" transform="rotate(10 437.16 72.80)"/><ellipse cx="431.42" cy="73.29" rx="1.24" ry="1.38" fill="#4b7a50" transform="rotate(-23 431.42 73.29)"/><ellipse cx="438.91" cy="74.18" rx="1.48" ry="1.62" fill="#4b7a50" transform="rotate(8 438.91 74.18)"/><ellipse cx="434.44" cy="74.89" rx="1.42" ry="1.36" fill="#4b7a50" transform="rotate(22 434.44 74.89)"/><ellipse cx="435.95" cy="75.44" rx="1.55" ry="1.40" fill="#4b7a50" transform="rotate(38 435.95 75.44)"/><ellipse cx="430.69" cy="75.90" rx="2.00" ry="2.32" fill="#4b7a50" transform="rotate(-34 430.69 75.90)"/><ellipse cx="439.22" cy="76.46" rx="2.30" ry="2.94" fill="#4b7a50" transform="rotate(10 439.22 76.46)"/><ellipse cx="434.62" cy="77.05" rx="1.99" ry="1.68" fill="#4b7a50" transform="rotate(-14 434.62 77.05)"/><ellipse cx="435.65" cy="77.70" rx="1.98" ry="1.73" fill="#4b7a50" transform="rotate(28 435.65 77.70)"/><ellipse cx="433.34" cy="78.11" rx="1.37" ry="1.93" fill="#4b7a50" transform="rotate(-21 433.34 78.11)"/><ellipse cx="439.83" cy="79.07" rx="2.03" ry="2.29" fill="#4b7a50" transform="rotate(22 439.83 79.07)"/><ellipse cx="432.80" cy="79.92" rx="1.91" ry="1.64" fill="#4b7a50" transform="rotate(3 432.80 79.92)"/><ellipse cx="437.50" cy="80.39" rx="2.15" ry="2.50" fill="#4b7a50" transform="rotate(27 437.50 80.39)"/><ellipse cx="431.67" cy="80.78" rx="2.40" ry="3.20" fill="#4b7a50" transform="rotate(-29 431.67 80.78)"/><ellipse cx="436.42" cy="81.62" rx="1.79" ry="1.64" fill="#3a6642" transform="rotate(28 436.42 81.62)"/><ellipse cx="432.61" cy="82.14" rx="2.09" ry="2.57" fill="#3a6642" transform="rotate(-16 432.61 82.14)"/><ellipse cx="439.18" cy="82.94" rx="2.19" ry="2.10" fill="#4b7a50" transform="rotate(5 439.18 82.94)"/><ellipse cx="430.23" cy="83.51" rx="2.23" ry="2.53" fill="#4b7a50" transform="rotate(37 430.23 83.51)"/><ellipse cx="437.30" cy="84.28" rx="2.37" ry="3.54" fill="#7fa57c" transform="rotate(6 437.30 84.28)"/><ellipse cx="434.62" cy="84.36" rx="1.86" ry="1.93" fill="#4b7a50" transform="rotate(38 434.62 84.36)"/><ellipse cx="437.41" cy="85.46" rx="2.02" ry="2.74" fill="#4b7a50" transform="rotate(-25 437.41 85.46)"/><ellipse cx="431.44" cy="86.13" rx="2.09" ry="2.37" fill="#4b7a50" transform="rotate(2 431.44 86.13)"/><ellipse cx="439.55" cy="86.24" rx="2.05" ry="2.31" fill="#3a6642" transform="rotate(-30 439.55 86.24)"/><ellipse cx="434.34" cy="87.27" rx="1.38" ry="1.25" fill="#7fa57c" transform="rotate(-22 434.34 87.27)"/><ellipse cx="437.78" cy="87.82" rx="1.71" ry="2.49" fill="#4b7a50" transform="rotate(30 437.78 87.82)"/><ellipse cx="435.05" cy="88.15" rx="2.18" ry="2.74" fill="#4b7a50" transform="rotate(-23 435.05 88.15)"/><ellipse cx="438.85" cy="88.96" rx="1.98" ry="1.87" fill="#4b7a50" transform="rotate(-3 438.85 88.96)"/><ellipse cx="431.93" cy="89.63" rx="1.45" ry="1.72" fill="#3a6642" transform="rotate(-33 431.93 89.63)"/><ellipse cx="436.53" cy="90.51" rx="1.51" ry="1.83" fill="#7fa57c" transform="rotate(13 436.53 90.51)"/><ellipse cx="431.70" cy="91.09" rx="1.18" ry="1.07" fill="#4b7a50" transform="rotate(16 431.70 91.09)"/><ellipse cx="437.41" cy="91.68" rx="1.70" ry="1.53" fill="#4b7a50" transform="rotate(39 437.41 91.68)"/><ellipse cx="433.09" cy="92.27" rx="1.27" ry="1.48" fill="#4b7a50" transform="rotate(-27 433.09 92.27)"/><ellipse cx="431.54" cy="88.65" rx="0.56" ry="1.06" fill="#eef2ec" opacity="0.85"/><ellipse cx="431.43" cy="74.71" rx="0.56" ry="1.06" fill="#eef2ec" opacity="0.85"/><ellipse cx="434.51" cy="72.82" rx="0.56" ry="1.06" fill="#eef2ec" opacity="0.85"/><ellipse cx="437.82" cy="71.41" rx="0.56" ry="1.06" fill="#eef2ec" opacity="0.85"/><ellipse cx="433.56" cy="72.13" rx="0.56" ry="1.06" fill="#eef2ec" opacity="0.85"/></g>
<polyline points="291.80,142.20 291.80,218.00" fill="none" stroke="#3a3a3a" stroke-width="0.75" stroke-dasharray="4.6 4.0"/>
<polyline points="350.00,176.50 350.00,251.80" fill="none" stroke="#3a3a3a" stroke-width="0.75" stroke-dasharray="4.6 4.0"/>
<polyline points="487.90,96.50 487.90,172.30" fill="none" stroke="#3a3a3a" stroke-width="0.75" stroke-dasharray="4.6 4.0"/>
<polyline points="430.40,129.86 430.40,139.30" fill="none" stroke="#3a3a3a" stroke-width="0.75" stroke-dasharray="4.6 4.0"/>
<polyline points="291.80,218.00 350.00,251.80 487.90,172.30 430.40,139.30 291.80,218.00" fill="none" stroke="#3a3a3a" stroke-width="0.75" stroke-dasharray="4.6 4.0"/>
<g fill="none" stroke="#222" stroke-width="0.7" stroke-dasharray="1.3 0.9"><ellipse cx="422.35" cy="164.30" rx="3.9" ry="1.7" transform="rotate(-20 422.35 164.30)"/><ellipse cx="430.45" cy="169.30" rx="3.9" ry="1.7" transform="rotate(-20 430.45 169.30)"/><ellipse cx="438.55" cy="174.30" rx="3.9" ry="1.7" transform="rotate(-20 438.55 174.30)"/><ellipse cx="446.65" cy="179.30" rx="3.9" ry="1.7" transform="rotate(-20 446.65 179.30)"/><ellipse cx="403.60" cy="169.90" rx="3.9" ry="1.7" transform="rotate(-20 403.60 169.90)"/><ellipse cx="411.70" cy="174.90" rx="3.9" ry="1.7" transform="rotate(-20 411.70 174.90)"/><ellipse cx="419.80" cy="179.90" rx="3.9" ry="1.7" transform="rotate(-20 419.80 179.90)"/><ellipse cx="427.90" cy="184.90" rx="3.9" ry="1.7" transform="rotate(-20 427.90 184.90)"/><ellipse cx="393.10" cy="181.10" rx="3.9" ry="1.7" transform="rotate(-20 393.10 181.10)"/><ellipse cx="401.20" cy="186.10" rx="3.9" ry="1.7" transform="rotate(-20 401.20 186.10)"/><ellipse cx="409.30" cy="191.10" rx="3.9" ry="1.7" transform="rotate(-20 409.30 191.10)"/><ellipse cx="417.40" cy="196.10" rx="3.9" ry="1.7" transform="rotate(-20 417.40 196.10)"/><ellipse cx="374.35" cy="186.70" rx="3.9" ry="1.7" transform="rotate(-20 374.35 186.70)"/><ellipse cx="382.45" cy="191.70" rx="3.9" ry="1.7" transform="rotate(-20 382.45 191.70)"/><ellipse cx="390.55" cy="196.70" rx="3.9" ry="1.7" transform="rotate(-20 390.55 196.70)"/><ellipse cx="398.65" cy="201.70" rx="3.9" ry="1.7" transform="rotate(-20 398.65 201.70)"/><ellipse cx="363.85" cy="197.90" rx="3.9" ry="1.7" transform="rotate(-20 363.85 197.90)"/><ellipse cx="371.95" cy="202.90" rx="3.9" ry="1.7" transform="rotate(-20 371.95 202.90)"/><ellipse cx="380.05" cy="207.90" rx="3.9" ry="1.7" transform="rotate(-20 380.05 207.90)"/><ellipse cx="388.15" cy="212.90" rx="3.9" ry="1.7" transform="rotate(-20 388.15 212.90)"/><ellipse cx="345.10" cy="203.50" rx="3.9" ry="1.7" transform="rotate(-20 345.10 203.50)"/><ellipse cx="353.20" cy="208.50" rx="3.9" ry="1.7" transform="rotate(-20 353.20 208.50)"/><ellipse cx="361.30" cy="213.50" rx="3.9" ry="1.7" transform="rotate(-20 361.30 213.50)"/><ellipse cx="369.40" cy="218.50" rx="3.9" ry="1.7" transform="rotate(-20 369.40 218.50)"/><ellipse cx="334.60" cy="214.70" rx="3.9" ry="1.7" transform="rotate(-20 334.60 214.70)"/><ellipse cx="342.70" cy="219.70" rx="3.9" ry="1.7" transform="rotate(-20 342.70 219.70)"/><ellipse cx="350.80" cy="224.70" rx="3.9" ry="1.7" transform="rotate(-20 350.80 224.70)"/><ellipse cx="358.90" cy="229.70" rx="3.9" ry="1.7" transform="rotate(-20 358.90 229.70)"/></g>
<text x="284.00" y="268.00" font-size="11.6">Waldhirsen-Buchenwald</text><text x="284.00" y="282.10" font-size="11.6">- Nördlich der Alpen</text>
<g transform="translate(414.43,224.95) scale(0.13636)"><path d="M35,218 H480 V152 H432 V40 H680 V152 H632 V218 H680 V275 Q520,396 370,465 H35 Z" fill="#fff" stroke="none"/><rect x="185" y="218" width="45" height="100" fill="#ecd2c6"/><rect x="283" y="218" width="45" height="100" fill="#ecd2c6"/><rect x="382" y="218" width="48" height="100" fill="#ecd2c6"/><path d="M35,218 H480 V152 H432 V40 H680 V152 H632 V218 H680 V275 Q520,396 370,465 H35 Z M35,318 H133 V218 M185,218 V318 H230 V218 M283,218 V318 H328 V218 M382,218 V318 H430 V218 M480,270 H528 V318 H480 Z M580,322 V270 H628 V295 H655 M35,368 H83 V465 M133,465 V368 H182 V465 M133,415 H182 M237,465 V368 H283 V465 M237,415 H283 M335,465 V368 H382 V458 M335,415 H382 M432,432 V368 H480 V398 M485,40 V130 H527 V40 M583,40 V130 H627 V40 M528,218 V152 H580 V218 M480,218 H632" fill="none" stroke="#111" stroke-width="5.42" stroke-linejoin="miter"/><path d="M662,282 Q512,392 392,450" fill="none" stroke="#222" stroke-width="7" stroke-dasharray="4 22"/></g>
<polygon points="526.25,83.75 663.75,13.75 665.00,64.50 526.25,145.00" fill="#fefefe"/>
<polygon points="526.25,85.18 663.78,14.93 663.90,20.01 526.25,91.30" fill="url(#wg3)"/>
<line x1="526.25" y1="84.36" x2="663.76" y2="14.26" stroke="#e3ddd4" stroke-width="2.33"/>
<line x1="526.25" y1="86.61" x2="663.81" y2="16.12" stroke="#eeeae4" stroke-width="1.03"/>
<line x1="526.25" y1="89.16" x2="663.86" y2="18.23" stroke="#d5cfc6" stroke-width="2.52" stroke-dasharray="1 4.6"/>
<line x1="526.25" y1="94.57" x2="663.97" y2="22.72" stroke="#e3ddd4" stroke-width="2.33"/>
<line x1="526.25" y1="96.82" x2="664.02" y2="24.58" stroke="#eeeae4" stroke-width="1.03"/>
<line x1="526.25" y1="99.37" x2="664.07" y2="26.69" stroke="#d5cfc6" stroke-width="2.52" stroke-dasharray="1 4.6"/>
<polygon points="526.25,105.60 664.20,31.85 664.32,36.93 526.25,111.72" fill="url(#wg3)"/>
<line x1="526.25" y1="104.78" x2="664.18" y2="31.17" stroke="#e3ddd4" stroke-width="2.33"/>
<line x1="526.25" y1="107.03" x2="664.23" y2="33.04" stroke="#eeeae4" stroke-width="1.03"/>
<line x1="526.25" y1="109.58" x2="664.28" y2="35.15" stroke="#d5cfc6" stroke-width="2.52" stroke-dasharray="1 4.6"/>
<line x1="526.25" y1="114.99" x2="664.39" y2="39.63" stroke="#e3ddd4" stroke-width="2.33"/>
<line x1="526.25" y1="117.23" x2="664.43" y2="41.49" stroke="#eeeae4" stroke-width="1.03"/>
<line x1="526.25" y1="119.79" x2="664.49" y2="43.61" stroke="#d5cfc6" stroke-width="2.52" stroke-dasharray="1 4.6"/>
<polygon points="526.25,126.01 664.61,48.77 664.74,53.84 526.25,132.14" fill="url(#wg3)"/>
<line x1="526.25" y1="125.20" x2="664.60" y2="48.09" stroke="#e3ddd4" stroke-width="2.33"/>
<line x1="526.25" y1="127.44" x2="664.64" y2="49.95" stroke="#eeeae4" stroke-width="1.03"/>
<line x1="526.25" y1="129.99" x2="664.69" y2="52.07" stroke="#d5cfc6" stroke-width="2.52" stroke-dasharray="1 4.6"/>
<line x1="526.25" y1="135.40" x2="664.80" y2="56.55" stroke="#e3ddd4" stroke-width="2.33"/>
<line x1="526.25" y1="137.65" x2="664.85" y2="58.41" stroke="#eeeae4" stroke-width="1.03"/>
<line x1="526.25" y1="140.20" x2="664.90" y2="60.52" stroke="#d5cfc6" stroke-width="2.52" stroke-dasharray="1 4.6"/><polygon points="663.75,13.75 721.10,39.80 721.10,95.20 665.00,64.50" fill="#fefefe"/>
<line x1="663.76" y1="14.26" x2="721.10" y2="40.35" stroke="#e3ddd4" stroke-width="2.21"/>
<line x1="663.81" y1="16.12" x2="721.10" y2="42.39" stroke="#eeeae4" stroke-width="0.97"/>
<line x1="663.86" y1="18.23" x2="721.10" y2="44.69" stroke="#d5cfc6" stroke-width="2.39" stroke-dasharray="1 4.9"/>
<line x1="663.97" y1="22.72" x2="721.10" y2="49.59" stroke="#e3ddd4" stroke-width="2.21"/>
<line x1="664.02" y1="24.58" x2="721.10" y2="51.62" stroke="#eeeae4" stroke-width="0.97"/>
<line x1="664.07" y1="26.69" x2="721.10" y2="53.93" stroke="#d5cfc6" stroke-width="2.39" stroke-dasharray="1 4.9"/>
<line x1="664.18" y1="31.17" x2="721.10" y2="58.82" stroke="#e3ddd4" stroke-width="2.21"/>
<line x1="664.23" y1="33.04" x2="721.10" y2="60.85" stroke="#eeeae4" stroke-width="0.97"/>
<line x1="664.28" y1="35.15" x2="721.10" y2="63.16" stroke="#d5cfc6" stroke-width="2.39" stroke-dasharray="1 4.9"/>
<line x1="664.39" y1="39.63" x2="721.10" y2="68.05" stroke="#e3ddd4" stroke-width="2.21"/>
<line x1="664.43" y1="41.49" x2="721.10" y2="70.09" stroke="#eeeae4" stroke-width="0.97"/>
<line x1="664.49" y1="43.61" x2="721.10" y2="72.39" stroke="#d5cfc6" stroke-width="2.39" stroke-dasharray="1 4.9"/>
<line x1="664.60" y1="48.09" x2="721.10" y2="77.29" stroke="#e3ddd4" stroke-width="2.21"/>
<line x1="664.64" y1="49.95" x2="721.10" y2="79.32" stroke="#eeeae4" stroke-width="0.97"/>
<line x1="664.69" y1="52.07" x2="721.10" y2="81.63" stroke="#d5cfc6" stroke-width="2.39" stroke-dasharray="1 4.9"/>
<line x1="664.80" y1="56.55" x2="721.10" y2="86.52" stroke="#e3ddd4" stroke-width="2.21"/>
<line x1="664.85" y1="58.41" x2="721.10" y2="88.55" stroke="#eeeae4" stroke-width="0.97"/>
<line x1="664.90" y1="60.52" x2="721.10" y2="90.86" stroke="#d5cfc6" stroke-width="2.39" stroke-dasharray="1 4.9"/>
<polyline points="526.25,145.00 665.00,64.50 721.10,95.20" fill="none" stroke="#eed6c4" stroke-width="1.0"/>
<rect x="663.2" y="65" width="4.2" height="45" fill="#f6e6da"/>
<path d="M663.4,65V110M667.3,65V110" stroke="#ecd3c0" stroke-width="0.6" fill="none"/>
<rect x="720.4" y="95" width="1.6" height="48.5" fill="#ecd3c0"/>
<polygon points="664.60,110.20 722.30,143.50 662.70,178.50 626.20,155.40 662.70,134.60 643.50,123.70" fill="#cbcbcb"/>
<polygon points="608.80,144.80 643.50,124.20 662.70,134.60 626.20,155.40" fill="#e6e6e6"/>
<polyline points="664.60,110.20 722.30,143.50 662.70,178.50" fill="none" stroke="#555" stroke-width="0.7"/>
<polyline points="608.80,144.80 662.70,178.50" fill="none" stroke="#555" stroke-width="0.5" stroke-dasharray="1.2 1"/>
<polyline points="608.80,104.50 608.80,144.80" fill="none" stroke="#c4c4c4" stroke-width="1.1" stroke-dasharray="1.6 1.6"/>
<polyline points="608.80,144.80 643.50,124.20" fill="none" stroke="#bdbdbd" stroke-width="0.6" stroke-dasharray="1.2 1"/>
<polyline points="608.80,103.50 662.70,134.60 662.70,178.50" fill="none" stroke="#333" stroke-width="0.7"/>
<polyline points="584.80,179.40 662.70,134.60" fill="none" stroke="#999" stroke-width="0.6"/>
<path d="M608.3,100V104.5" stroke="#888" stroke-width="0.9"/>
<g><path d="M671.50,110.00 L671.33,145.00" stroke="#3c6a44" stroke-width="1.0"/><ellipse cx="671.25" cy="106.67" rx="3.33" ry="3.17" fill="#3c6a44"/><ellipse cx="669.17" cy="111.67" rx="3.33" ry="3.75" fill="#3c6a44"/><ellipse cx="675.00" cy="109.17" rx="1.83" ry="3.33" fill="#3c6a44"/><ellipse cx="667.50" cy="119.17" rx="4.58" ry="4.17" fill="#3c6a44"/><ellipse cx="677.92" cy="118.33" rx="2.92" ry="4.58" fill="#3c6a44"/><ellipse cx="663.75" cy="122.50" rx="2.08" ry="3.33" fill="#3c6a44"/><ellipse cx="662.50" cy="130.83" rx="2.67" ry="3.75" fill="#3c6a44"/><ellipse cx="669.17" cy="125.83" rx="3.33" ry="2.92" fill="#3c6a44"/><ellipse cx="677.92" cy="131.67" rx="1.83" ry="4.58" fill="#3c6a44"/><ellipse cx="675.00" cy="125.00" rx="2.08" ry="2.50" fill="#3c6a44"/><ellipse cx="678.75" cy="112.92" rx="1.00" ry="1.67" fill="#3c6a44"/><ellipse cx="668.33" cy="128.75" rx="1.83" ry="1.00" fill="#f4f4f4"/><ellipse cx="675.00" cy="129.17" rx="1.33" ry="1.50" fill="#f4f4f4"/><ellipse cx="673.75" cy="115.83" rx="0.67" ry="2.50" fill="#f4f4f4"/><ellipse cx="676.67" cy="107.50" rx="0.67" ry="1.17" fill="#f4f4f4"/><ellipse cx="661.67" cy="143.75" rx="3.83" ry="3.33" fill="#c9d88a"/><ellipse cx="652.92" cy="144.75" rx="4.17" ry="2.17" fill="#8f9d86"/><ellipse cx="682.50" cy="141.25" rx="4.67" ry="3.83" fill="#d3df9c"/><ellipse cx="682.92" cy="149.83" rx="4.17" ry="3.17" fill="#5f7345"/><ellipse cx="667.92" cy="150.42" rx="4.58" ry="2.17" fill="#f3f3f3"/><g><circle cx="673.85" cy="141.86" r="0.53" fill="#6b7fd0"/><circle cx="674.31" cy="139.57" r="0.61" fill="#8b9be0"/><circle cx="671.47" cy="141.52" r="0.62" fill="#8b9be0"/><circle cx="674.82" cy="140.48" r="0.59" fill="#8b9be0"/><circle cx="672.83" cy="142.63" r="0.53" fill="#6b7fd0"/><circle cx="675.19" cy="141.04" r="0.46" fill="#5566c0"/><circle cx="673.13" cy="143.30" r="0.45" fill="#6b7fd0"/><circle cx="676.34" cy="142.06" r="0.75" fill="#6b7fd0"/><circle cx="670.32" cy="143.16" r="0.68" fill="#8b9be0"/><circle cx="676.97" cy="141.74" r="0.73" fill="#6b7fd0"/><circle cx="672.68" cy="139.73" r="0.57" fill="#6b7fd0"/><circle cx="669.12" cy="142.07" r="0.63" fill="#8b9be0"/><circle cx="674.94" cy="141.10" r="0.72" fill="#5566c0"/><circle cx="670.96" cy="142.20" r="0.69" fill="#8b9be0"/><circle cx="675.25" cy="140.48" r="0.51" fill="#8b9be0"/><circle cx="672.11" cy="140.09" r="0.58" fill="#5566c0"/></g><g><circle cx="685.84" cy="142.42" r="0.49" fill="#f5c66b"/><circle cx="680.77" cy="140.15" r="0.55" fill="#f5c66b"/><circle cx="662.21" cy="146.22" r="0.57" fill="#f5c66b"/><circle cx="677.81" cy="148.76" r="0.81" fill="#f2b94f"/><circle cx="681.88" cy="143.90" r="0.88" fill="#f8d88f"/><circle cx="674.24" cy="150.53" r="0.75" fill="#f2b94f"/><circle cx="663.76" cy="147.26" r="0.88" fill="#f5c66b"/><circle cx="677.98" cy="147.25" r="0.86" fill="#f5c66b"/><circle cx="665.34" cy="141.06" r="0.54" fill="#f8d88f"/><circle cx="682.53" cy="143.55" r="0.59" fill="#f5c66b"/><circle cx="676.35" cy="148.53" r="0.90" fill="#f8d88f"/><circle cx="660.41" cy="140.81" r="0.90" fill="#f5c66b"/><circle cx="681.41" cy="141.81" r="0.65" fill="#f8d88f"/><circle cx="679.80" cy="142.09" r="0.70" fill="#f8d88f"/><circle cx="676.33" cy="148.82" r="0.57" fill="#f5c66b"/><circle cx="663.44" cy="142.84" r="0.58" fill="#f5c66b"/><circle cx="682.44" cy="141.77" r="0.78" fill="#f2b94f"/><circle cx="677.17" cy="148.54" r="0.80" fill="#f5c66b"/><circle cx="687.02" cy="139.69" r="0.58" fill="#f5c66b"/><circle cx="681.60" cy="141.36" r="0.72" fill="#f2b94f"/><circle cx="680.63" cy="139.72" r="0.53" fill="#f2b94f"/><circle cx="674.96" cy="149.70" r="0.65" fill="#f5c66b"/></g><g><circle cx="676.59" cy="148.43" r="0.26" fill="#a9a96b"/><circle cx="649.13" cy="147.47" r="0.34" fill="#f1f1f1"/><circle cx="675.52" cy="152.22" r="0.47" fill="#f1f1f1"/><circle cx="675.09" cy="149.81" r="0.39" fill="#f1f1f1"/><circle cx="675.62" cy="152.23" r="0.27" fill="#f1f1f1"/><circle cx="656.34" cy="149.04" r="0.45" fill="#a9a96b"/><circle cx="655.18" cy="149.99" r="0.45" fill="#f1f1f1"/><circle cx="657.89" cy="150.06" r="0.48" fill="#f1f1f1"/><circle cx="654.43" cy="147.89" r="0.41" fill="#f1f1f1"/><circle cx="676.68" cy="147.68" r="0.41" fill="#c9b36b"/><circle cx="650.63" cy="150.02" r="0.27" fill="#c9b36b"/><circle cx="674.99" cy="149.86" r="0.32" fill="#f1f1f1"/></g></g>
<text x="531.90" y="266.10" font-size="11.6">Waldhainsimsen</text><text x="531.90" y="280.10" font-size="11.6">-Buchenwald</text><text x="531.90" y="294.10" font-size="11.6">-Südalpen</text>
<g transform="translate(615.10,222.40) scale(0.15408)"><path d="M35,218 H480 V152 H432 V40 H680 V152 H632 V218 H680 V275 Q520,396 370,465 H35 Z" fill="#fff" stroke="none"/><rect x="133" y="368" width="49" height="47" fill="#f4b9a6"/><rect x="237" y="368" width="46" height="47" fill="#f4b9a6"/><rect x="335" y="368" width="47" height="47" fill="#f4b9a6"/><path d="M35,218 H480 V152 H432 V40 H680 V152 H632 V218 H680 V275 Q520,396 370,465 H35 Z M35,318 H133 V218 M185,218 V318 H230 V218 M283,218 V318 H328 V218 M382,218 V318 H430 V218 M480,270 H528 V318 H480 Z M580,322 V270 H628 V295 H655 M35,368 H83 V465 M133,465 V368 H182 V465 M133,415 H182 M237,465 V368 H283 V465 M237,415 H283 M335,465 V368 H382 V458 M335,415 H382 M432,432 V368 H480 V398 M485,40 V130 H527 V40 M583,40 V130 H627 V40 M528,218 V152 H580 V218 M480,218 H632" fill="none" stroke="#111" stroke-width="4.80" stroke-linejoin="miter"/><path d="M662,282 Q512,392 392,450" fill="none" stroke="#222" stroke-width="7" stroke-dasharray="4 22"/></g>
<polygon points="65.00,400.00 203.75,328.75 204.25,380.50 65.00,457.80" fill="#fefefe"/>
<polygon points="65.00,401.35 203.76,329.96 203.81,335.13 65.00,407.13" fill="url(#wg4)"/>
<line x1="65.00" y1="400.58" x2="203.75" y2="329.27" stroke="#e3ddd4" stroke-width="2.28"/>
<line x1="65.00" y1="402.70" x2="203.77" y2="331.17" stroke="#eeeae4" stroke-width="1.00"/>
<line x1="65.00" y1="405.11" x2="203.79" y2="333.32" stroke="#d5cfc6" stroke-width="2.46" stroke-dasharray="1 4.6"/>
<line x1="65.00" y1="410.21" x2="203.84" y2="337.89" stroke="#e3ddd4" stroke-width="2.28"/>
<line x1="65.00" y1="412.33" x2="203.86" y2="339.79" stroke="#eeeae4" stroke-width="1.00"/>
<line x1="65.00" y1="414.74" x2="203.88" y2="341.95" stroke="#d5cfc6" stroke-width="2.46" stroke-dasharray="1 4.6"/>
<polygon points="65.00,420.62 203.93,347.21 203.98,352.38 65.00,426.40" fill="url(#wg4)"/>
<line x1="65.00" y1="419.84" x2="203.92" y2="346.52" stroke="#e3ddd4" stroke-width="2.28"/>
<line x1="65.00" y1="421.96" x2="203.94" y2="348.42" stroke="#eeeae4" stroke-width="1.00"/>
<line x1="65.00" y1="424.37" x2="203.96" y2="350.57" stroke="#d5cfc6" stroke-width="2.46" stroke-dasharray="1 4.6"/>
<line x1="65.00" y1="429.48" x2="204.00" y2="355.14" stroke="#e3ddd4" stroke-width="2.28"/>
<line x1="65.00" y1="431.60" x2="204.02" y2="357.04" stroke="#eeeae4" stroke-width="1.00"/>
<line x1="65.00" y1="434.01" x2="204.04" y2="359.20" stroke="#d5cfc6" stroke-width="2.46" stroke-dasharray="1 4.6"/>
<polygon points="65.00,439.88 204.09,364.46 204.15,369.63 65.00,445.66" fill="url(#wg4)"/>
<line x1="65.00" y1="439.11" x2="204.09" y2="363.77" stroke="#e3ddd4" stroke-width="2.28"/>
<line x1="65.00" y1="441.23" x2="204.11" y2="365.67" stroke="#eeeae4" stroke-width="1.00"/>
<line x1="65.00" y1="443.64" x2="204.13" y2="367.82" stroke="#d5cfc6" stroke-width="2.46" stroke-dasharray="1 4.6"/>
<line x1="65.00" y1="448.74" x2="204.17" y2="372.39" stroke="#e3ddd4" stroke-width="2.28"/>
<line x1="65.00" y1="450.86" x2="204.19" y2="374.29" stroke="#eeeae4" stroke-width="1.00"/>
<line x1="65.00" y1="453.27" x2="204.21" y2="376.45" stroke="#d5cfc6" stroke-width="2.46" stroke-dasharray="1 4.6"/><polygon points="203.75,328.75 261.00,357.60 261.00,412.30 204.25,380.50" fill="#fefefe"/>
<line x1="203.75" y1="329.27" x2="261.00" y2="358.15" stroke="#e3ddd4" stroke-width="2.22"/>
<line x1="203.77" y1="331.17" x2="261.00" y2="360.15" stroke="#eeeae4" stroke-width="0.98"/>
<line x1="203.79" y1="333.32" x2="261.00" y2="362.43" stroke="#d5cfc6" stroke-width="2.40" stroke-dasharray="1 4.9"/>
<line x1="203.84" y1="337.89" x2="261.00" y2="367.26" stroke="#e3ddd4" stroke-width="2.22"/>
<line x1="203.86" y1="339.79" x2="261.00" y2="369.27" stroke="#eeeae4" stroke-width="0.98"/>
<line x1="203.88" y1="341.95" x2="261.00" y2="371.55" stroke="#d5cfc6" stroke-width="2.40" stroke-dasharray="1 4.9"/>
<line x1="203.92" y1="346.52" x2="261.00" y2="376.38" stroke="#e3ddd4" stroke-width="2.22"/>
<line x1="203.94" y1="348.42" x2="261.00" y2="378.39" stroke="#eeeae4" stroke-width="0.98"/>
<line x1="203.96" y1="350.57" x2="261.00" y2="380.67" stroke="#d5cfc6" stroke-width="2.40" stroke-dasharray="1 4.9"/>
<line x1="204.00" y1="355.14" x2="261.00" y2="385.50" stroke="#e3ddd4" stroke-width="2.22"/>
<line x1="204.02" y1="357.04" x2="261.00" y2="387.50" stroke="#eeeae4" stroke-width="0.98"/>
<line x1="204.04" y1="359.20" x2="261.00" y2="389.78" stroke="#d5cfc6" stroke-width="2.40" stroke-dasharray="1 4.9"/>
<line x1="204.09" y1="363.77" x2="261.00" y2="394.61" stroke="#e3ddd4" stroke-width="2.22"/>
<line x1="204.11" y1="365.67" x2="261.00" y2="396.62" stroke="#eeeae4" stroke-width="0.98"/>
<line x1="204.13" y1="367.82" x2="261.00" y2="398.90" stroke="#d5cfc6" stroke-width="2.40" stroke-dasharray="1 4.9"/>
<line x1="204.17" y1="372.39" x2="261.00" y2="403.73" stroke="#e3ddd4" stroke-width="2.22"/>
<line x1="204.19" y1="374.29" x2="261.00" y2="405.74" stroke="#eeeae4" stroke-width="0.98"/>
<line x1="204.21" y1="376.45" x2="261.00" y2="408.02" stroke="#d5cfc6" stroke-width="2.40" stroke-dasharray="1 4.9"/>
<polygon points="66.90,459.80 124.70,493.00 260.80,413.80 260.80,415.40 124.70,494.60 66.90,460.10" fill="#c4c4c4"/>
<polyline points="124.70,494.60 260.80,415.40" fill="none" stroke="#777" stroke-width="0.5"/>
<polygon points="204.25,380.50 260.80,413.80 124.70,493.00 66.90,459.80" fill="#e3e3e3"/>
<polyline points="66.90,458.90 204.25,379.50 260.80,412.90" fill="none" stroke="#b8b8b8" stroke-width="2.2" stroke-linejoin="miter"/>
<polyline points="66.90,457.90 204.25,378.40 260.80,411.90" fill="none" stroke="#5c5c5c" stroke-width="0.5" stroke-linejoin="miter"/>
<polyline points="66.90,459.70 204.25,380.40 260.80,413.70" fill="none" stroke="#5c5c5c" stroke-width="0.5" stroke-linejoin="miter"/>
<g><path d="M176.54,403.65 C178.27,401.47 177.95,401.73 182.69,401.92 C187.44,402.12 190.00,402.05 190.77,404.23 C191.54,406.41 189.42,407.05 185.00,408.46 C180.58,409.87 180.32,410.06 177.50,408.46 C174.68,406.86 174.81,405.83 176.54,403.65Z" fill="#f5f5f5"/><path d="M166.92,450.77 C168.65,447.44 167.18,447.69 173.08,444.62 C178.97,441.54 178.72,441.54 184.62,441.54 C190.51,441.54 190.64,441.54 190.77,444.62 C190.90,447.69 190.26,447.12 185.00,450.77 C179.74,454.42 180.71,454.29 175.00,455.58 C169.29,456.86 170.58,456.22 167.88,454.62 C165.19,453.01 165.19,454.10 166.92,450.77Z" fill="#f5f5f5"/><path d="M213.08,420.19 C214.17,418.72 215.77,419.17 217.69,420.58 C219.62,421.99 219.94,422.95 218.85,424.42 C217.76,425.90 216.35,426.41 214.42,425.00 C212.50,423.59 211.99,421.67 213.08,420.19Z" fill="#f5f5f5"/><path d="M112.12,436.54 C113.01,434.62 114.17,434.74 115.38,436.54 C116.60,438.33 116.67,440.00 115.77,441.92 C114.87,443.85 113.91,444.10 112.69,442.31 C111.47,440.51 111.22,438.46 112.12,436.54Z" fill="#f5f5f5"/><path d="M143.27,434.04 C145.19,431.79 145.83,431.15 150.00,431.15 C154.17,431.15 155.77,431.79 155.77,434.04 C155.77,436.28 153.85,436.60 150.00,437.88 C146.15,439.17 146.47,439.17 144.23,437.88 C141.99,436.60 141.35,436.28 143.27,434.04Z" fill="#f5f5f5"/><path d="M107.31,444.04 C109.68,440.19 108.72,441.22 113.46,440.77 C118.21,440.32 119.49,440.13 121.54,442.69 C123.59,445.26 122.18,445.51 119.62,448.46 C117.05,451.41 115.13,448.85 113.85,451.54 C112.56,454.23 117.18,454.55 115.77,456.54 C114.36,458.53 112.76,458.91 109.62,457.50 C106.47,456.09 107.12,456.79 106.35,452.31 C105.58,447.82 104.94,447.88 107.31,444.04Z" fill="#c9ca7d"/><path d="M163.08,413.27 C165.77,410.90 168.33,411.09 173.08,411.92 C177.82,412.76 177.82,412.76 177.31,415.77 C176.79,418.78 175.64,419.87 171.54,420.96 C167.44,422.05 167.82,421.60 165.00,419.04 C162.18,416.47 160.38,415.64 163.08,413.27Z" fill="#c9ca7d"/><path d="M202.50,423.46 C201.86,420.77 200.19,421.54 203.85,419.62 C207.50,417.69 207.05,419.62 213.46,417.69 C219.87,415.77 217.18,415.77 223.08,413.85 C228.97,411.92 227.82,410.90 231.15,411.92 C234.49,412.95 235.00,413.91 233.08,416.92 C231.15,419.94 231.15,418.97 225.38,420.96 C219.62,422.95 219.62,420.96 215.77,422.88 C211.92,424.81 217.18,425.13 213.85,426.73 C210.51,428.33 209.55,428.78 205.77,427.69 C201.99,426.60 203.14,426.15 202.50,423.46Z" fill="#c9ca7d"/><path d="M145.77,468.08 C145.64,465.38 147.31,464.29 151.92,461.92 C156.54,459.55 154.68,460.32 159.62,460.96 C164.55,461.60 166.60,462.12 166.73,463.85 C166.86,465.58 164.81,464.10 160.00,466.15 C155.19,468.21 157.05,469.36 152.31,470.00 C147.56,470.64 145.90,470.77 145.77,468.08Z" fill="#c9ca7d"/><path d="M128.85,440.77 C130.45,438.53 131.41,437.88 134.62,437.88 C137.82,437.88 138.46,438.53 138.46,440.77 C138.46,443.01 137.50,443.33 134.62,444.62 C131.73,445.90 131.73,445.90 129.81,444.62 C127.88,443.33 127.24,443.01 128.85,440.77Z" fill="#c9ca7d"/><path d="M114.04,450.77 C115.96,447.44 117.37,446.67 121.15,446.54 C124.94,446.41 125.26,447.37 125.38,450.38 C125.51,453.40 124.87,453.53 121.54,455.58 C118.21,457.63 117.88,458.14 115.38,456.54 C112.88,454.94 112.12,454.10 114.04,450.77Z" fill="#8fae7a"/><path d="M150.58,455.58 C153.14,452.88 154.87,453.08 161.54,452.31 C168.21,451.54 166.92,451.35 170.58,453.27 C174.23,455.19 174.87,455.38 172.50,458.08 C170.13,460.77 169.68,460.58 163.46,461.35 C157.24,462.12 158.14,462.31 153.85,460.38 C149.55,458.46 148.01,458.27 150.58,455.58Z" fill="#8fae7a"/><path d="M184.23,435.00 C182.95,432.95 183.72,432.76 186.54,430.19 C189.36,427.63 186.92,427.31 192.69,427.31 C198.46,427.31 196.79,429.55 203.85,430.19 C210.90,430.83 211.15,428.14 213.85,429.23 C216.54,430.32 216.54,431.41 211.92,433.46 C207.31,435.51 207.18,434.42 200.00,435.38 C192.82,436.35 195.64,436.47 190.38,436.35 C185.13,436.22 185.51,437.05 184.23,435.00Z" fill="#8fae7a"/><path d="M218.85,413.85 C217.44,411.35 218.33,412.18 221.15,409.62 C223.97,407.05 223.33,406.35 227.31,406.15 C231.28,405.96 231.47,406.47 233.08,409.04 C234.68,411.60 234.68,411.15 232.12,413.85 C229.55,416.54 229.81,417.12 225.38,417.12 C220.96,417.12 220.26,416.35 218.85,413.85Z" fill="#8fae7a"/><path d="M161.15,445.00 C161.47,441.99 162.05,442.18 167.31,439.81 C172.56,437.44 171.99,437.88 176.92,437.88 C181.86,437.88 183.27,438.08 182.12,439.81 C180.96,441.54 178.72,440.06 173.46,443.08 C168.21,446.09 170.45,448.21 166.35,448.85 C162.24,449.49 160.83,448.01 161.15,445.00Z" fill="#4f7a45"/><path d="M163.46,419.62 C165.38,417.05 167.31,417.05 173.08,416.73 C178.85,416.41 179.49,416.41 180.77,418.65 C182.05,420.90 181.41,421.54 176.92,423.46 C172.44,425.38 171.79,425.71 167.31,424.42 C162.82,423.14 161.54,422.18 163.46,419.62Z" fill="#8fae7a"/><path d="M122.31,461.92 C121.15,460.19 120.00,460.32 123.46,459.04 C126.92,457.76 125.77,457.76 132.69,458.08 C139.62,458.40 138.97,458.40 144.23,460.00 C149.49,461.60 150.38,461.15 148.46,462.88 C146.54,464.62 145.64,464.74 138.46,465.19 C131.28,465.64 132.31,465.32 126.92,464.23 C121.54,463.14 123.46,463.65 122.31,461.92Z" fill="#7f7f7f"/><path d="M130.38,432.50 C133.72,430.77 136.28,431.60 142.31,432.12 C148.33,432.63 148.33,432.31 148.46,434.04 C148.59,435.77 148.08,436.22 142.69,437.31 C137.31,438.40 136.41,438.91 132.31,437.31 C128.21,435.71 127.05,434.23 130.38,432.50Z" fill="#7f7f7f"/><path d="M201.54,403.65 C202.95,401.60 203.59,401.47 207.69,402.31 C211.79,403.14 213.08,403.46 213.85,406.15 C214.62,408.85 213.46,409.62 210.00,410.38 C206.54,411.15 206.28,410.71 203.46,408.46 C200.64,406.22 200.13,405.71 201.54,403.65Z" fill="#7f7f7f"/><path d="M151.54,448.85 C154.10,446.79 158.72,446.03 163.46,446.54 C168.21,447.05 168.33,448.33 165.77,450.38 C163.21,452.44 160.51,453.21 155.77,452.69 C151.03,452.18 148.97,450.90 151.54,448.85Z" fill="#7f7f7f"/><path d="M131.35,433.46 C133.65,433.08 133.27,432.69 138.27,432.31 C143.27,431.92 142.12,433.46 146.35,432.31 C150.58,431.15 148.27,430.96 150.96,428.85 C153.65,426.73 153.27,426.92 154.42,425.96" fill="none" stroke="#7f7f7f" stroke-width="3.60" stroke-linecap="round" stroke-linejoin="round"/><path d="M139.42,449.23 C142.50,449.04 142.50,449.04 148.65,448.65 C154.81,448.27 153.21,448.46 157.88,448.08 C162.56,447.69 161.09,447.69 162.69,447.50" fill="none" stroke="#7f7f7f" stroke-width="3.20" stroke-linecap="round" stroke-linejoin="round"/><path d="M161.54,447.31 C162.69,445.64 161.54,445.32 165.00,442.31 C168.46,439.29 166.92,440.45 171.92,438.27 C176.92,436.09 177.31,436.60 180.00,435.77" fill="none" stroke="#4f7a45" stroke-width="3.20" stroke-linecap="round" stroke-linejoin="round"/><path d="M165.00,450.38 C166.15,448.65 165.38,448.08 168.46,445.19 C171.54,442.31 170.00,443.46 174.23,441.73 C178.46,440.00 178.85,440.58 181.15,440.00" fill="none" stroke="#c9ca7d" stroke-width="2.00" stroke-linecap="round" stroke-linejoin="round"/><path d="M223.08,409.04 C224.68,408.21 224.94,406.54 227.88,406.54 C230.83,406.54 230.45,406.73 231.92,409.04 C233.40,411.35 232.18,411.99 232.31,413.46" fill="none" stroke="#5a8a50" stroke-width="2.40" stroke-linecap="round" stroke-linejoin="round"/><path d="M204.04,402.69 C205.77,401.35 206.35,400.96 208.65,402.12 C210.96,403.27 211.73,404.04 210.96,406.15 C210.19,408.27 208.85,408.46 206.35,408.46 C203.85,408.46 204.23,408.08 203.46,406.15 C202.69,404.23 202.31,404.04 204.04,402.69Z" fill="#7f7f7f"/><path d="M213.27,406.15 C214.62,404.81 216.35,405.00 217.88,406.15 C219.42,407.31 219.23,408.27 217.88,409.62 C216.54,410.96 215.38,411.35 213.85,410.19 C212.31,409.04 211.92,407.50 213.27,406.15Z" fill="#7f7f7f"/></g><path d="M128.85,453.85 C133.33,451.73 132.69,452.37 142.31,447.50 C151.92,442.63 148.08,445.32 157.69,439.23 C167.31,433.14 162.82,435.77 171.15,429.23 C179.49,422.69 175.96,425.71 182.69,419.62 C189.42,413.53 184.29,414.81 191.35,410.96 C198.40,407.12 193.91,408.91 203.85,408.08 C213.78,407.24 215.38,408.33 221.15,408.46" fill="none" stroke="#f0b4cb" stroke-width="8.00" stroke-linecap="round" stroke-linejoin="round" opacity="0.5"/><path d="M132.69,456.54 L144.23,456.54" fill="none" stroke="#f0b4cb" stroke-width="4.50" stroke-linecap="round" stroke-linejoin="round" opacity="0.5"/><g><circle cx="155.40" cy="436.45" r="0.82" fill="#d6607c"/><circle cx="216.80" cy="412.19" r="0.93" fill="#d6607c"/><circle cx="197.41" cy="410.75" r="0.87" fill="#ee8fb6"/><circle cx="206.41" cy="407.41" r="1.13" fill="#e887ae"/><circle cx="178.09" cy="421.38" r="1.05" fill="#e466a0"/><circle cx="143.41" cy="448.13" r="0.57" fill="#ffffff"/><circle cx="158.22" cy="439.65" r="0.69" fill="#dfe39a"/><circle cx="152.13" cy="441.11" r="0.72" fill="#e887ae"/><circle cx="148.04" cy="457.04" r="0.70" fill="#f4b0cb"/><circle cx="192.02" cy="411.58" r="1.01" fill="#ffffff"/><circle cx="167.04" cy="427.12" r="1.06" fill="#e466a0"/><circle cx="138.32" cy="455.05" r="0.78" fill="#d6607c"/><circle cx="177.63" cy="427.12" r="1.02" fill="#f2a3c2"/><circle cx="155.09" cy="441.57" r="1.00" fill="#e887ae"/><circle cx="134.50" cy="452.97" r="0.83" fill="#e466a0"/><circle cx="162.24" cy="431.35" r="0.66" fill="#dfe39a"/><circle cx="198.90" cy="411.89" r="0.79" fill="#ee8fb6"/><circle cx="148.14" cy="457.12" r="0.73" fill="#ffffff"/><circle cx="214.67" cy="411.51" r="0.94" fill="#ffffff"/><circle cx="138.24" cy="449.01" r="0.56" fill="#e779ab"/><circle cx="182.01" cy="415.70" r="0.60" fill="#ee8fb6"/><circle cx="185.28" cy="424.21" r="0.92" fill="#f9d6e2"/><circle cx="124.62" cy="452.53" r="1.07" fill="#f6bdd2"/><circle cx="156.99" cy="443.94" r="0.70" fill="#ffffff"/><circle cx="145.57" cy="437.80" r="0.96" fill="#f2a3c2"/><circle cx="162.77" cy="434.17" r="0.61" fill="#e466a0"/><circle cx="138.18" cy="448.51" r="0.78" fill="#f4b0cb"/><circle cx="169.65" cy="426.17" r="0.66" fill="#dfe39a"/><circle cx="196.92" cy="410.28" r="0.94" fill="#dfe39a"/><circle cx="186.12" cy="418.66" r="1.00" fill="#f2a3c2"/><circle cx="130.01" cy="454.72" r="0.66" fill="#e466a0"/><circle cx="161.64" cy="433.54" r="0.63" fill="#f9d6e2"/><circle cx="163.95" cy="438.74" r="0.90" fill="#dfe39a"/><circle cx="135.04" cy="450.88" r="0.97" fill="#f9d6e2"/><circle cx="147.12" cy="457.44" r="0.59" fill="#d6607c"/><circle cx="151.48" cy="442.81" r="0.88" fill="#d6607c"/><circle cx="196.58" cy="405.47" r="0.63" fill="#f4b0cb"/><circle cx="140.19" cy="457.87" r="1.09" fill="#d6607c"/><circle cx="204.38" cy="412.54" r="0.89" fill="#d6607c"/><circle cx="179.07" cy="427.20" r="0.59" fill="#ffffff"/><circle cx="138.31" cy="451.32" r="0.99" fill="#e887ae"/><circle cx="162.01" cy="428.78" r="0.83" fill="#d6607c"/><circle cx="175.29" cy="425.26" r="0.91" fill="#e779ab"/><circle cx="169.32" cy="435.59" r="1.02" fill="#d6607c"/><circle cx="174.01" cy="427.75" r="0.73" fill="#f9d6e2"/><circle cx="184.42" cy="421.68" r="0.95" fill="#f9d6e2"/><circle cx="168.46" cy="427.26" r="0.70" fill="#e887ae"/><circle cx="180.74" cy="414.41" r="1.08" fill="#f2a3c2"/><circle cx="159.63" cy="434.04" r="0.63" fill="#f6bdd2"/><circle cx="166.51" cy="430.40" r="1.12" fill="#ee8fb6"/><circle cx="154.17" cy="444.05" r="1.11" fill="#e779ab"/><circle cx="207.03" cy="412.28" r="0.74" fill="#e887ae"/><circle cx="219.78" cy="407.40" r="1.05" fill="#ee8fb6"/><circle cx="140.79" cy="443.49" r="0.89" fill="#e779ab"/><circle cx="149.03" cy="441.77" r="0.79" fill="#f6bdd2"/><circle cx="148.21" cy="439.56" r="1.03" fill="#f6bdd2"/><circle cx="143.15" cy="457.79" r="0.94" fill="#dfe39a"/><circle cx="198.20" cy="406.60" r="1.04" fill="#f2a3c2"/><circle cx="144.55" cy="439.17" r="0.98" fill="#dfe39a"/><circle cx="149.85" cy="446.32" r="1.12" fill="#f4b0cb"/><circle cx="169.25" cy="429.35" r="1.09" fill="#f4b0cb"/><circle cx="140.64" cy="445.87" r="0.82" fill="#f6bdd2"/><circle cx="149.54" cy="442.05" r="0.89" fill="#dfe39a"/><circle cx="214.85" cy="404.27" r="0.75" fill="#d6607c"/><circle cx="146.87" cy="458.78" r="1.10" fill="#e887ae"/><circle cx="135.48" cy="454.47" r="1.14" fill="#ee8fb6"/><circle cx="180.66" cy="416.81" r="1.06" fill="#f4b0cb"/><circle cx="172.18" cy="429.84" r="0.80" fill="#dfe39a"/><circle cx="152.69" cy="439.18" r="0.81" fill="#ee8fb6"/><circle cx="125.04" cy="454.27" r="0.83" fill="#f6bdd2"/><circle cx="145.61" cy="455.82" r="0.96" fill="#e887ae"/><circle cx="201.85" cy="411.13" r="1.00" fill="#ee8fb6"/><circle cx="155.92" cy="436.27" r="0.93" fill="#dfe39a"/><circle cx="167.24" cy="426.14" r="0.95" fill="#e779ab"/><circle cx="145.25" cy="455.37" r="1.06" fill="#e779ab"/><circle cx="135.88" cy="456.76" r="0.80" fill="#f2a3c2"/><circle cx="139.90" cy="448.55" r="1.13" fill="#dfe39a"/><circle cx="160.14" cy="439.72" r="0.62" fill="#ffffff"/><circle cx="140.56" cy="453.45" r="0.80" fill="#d6607c"/><circle cx="144.71" cy="456.38" r="0.85" fill="#d6607c"/><circle cx="171.07" cy="423.90" r="0.86" fill="#d6607c"/><circle cx="132.34" cy="452.49" r="0.63" fill="#e779ab"/><circle cx="196.51" cy="409.54" r="0.56" fill="#f2a3c2"/><circle cx="146.77" cy="440.50" r="0.61" fill="#d6607c"/><circle cx="198.38" cy="411.55" r="0.98" fill="#e779ab"/><circle cx="182.23" cy="419.26" r="0.80" fill="#e887ae"/><circle cx="185.41" cy="420.75" r="0.87" fill="#e887ae"/><circle cx="152.76" cy="445.74" r="1.06" fill="#ffffff"/><circle cx="145.89" cy="438.10" r="0.74" fill="#f6bdd2"/><circle cx="152.76" cy="439.20" r="1.08" fill="#f2a3c2"/><circle cx="136.30" cy="455.52" r="0.78" fill="#e779ab"/><circle cx="171.16" cy="426.07" r="0.63" fill="#f4b0cb"/><circle cx="164.44" cy="431.86" r="0.89" fill="#f2a3c2"/><circle cx="166.00" cy="427.61" r="0.85" fill="#f4b0cb"/><circle cx="187.43" cy="414.23" r="1.03" fill="#f2a3c2"/><circle cx="174.28" cy="426.88" r="0.86" fill="#ffffff"/><circle cx="185.39" cy="420.43" r="0.65" fill="#f2a3c2"/><circle cx="149.57" cy="448.00" r="0.59" fill="#ffffff"/><circle cx="203.33" cy="411.62" r="0.78" fill="#f9d6e2"/><circle cx="163.93" cy="435.86" r="0.56" fill="#f9d6e2"/><circle cx="182.28" cy="417.10" r="0.77" fill="#d6607c"/><circle cx="170.79" cy="425.58" r="0.86" fill="#ee8fb6"/><circle cx="139.38" cy="445.13" r="1.08" fill="#f4b0cb"/><circle cx="219.98" cy="406.41" r="0.85" fill="#f2a3c2"/><circle cx="142.60" cy="455.64" r="1.00" fill="#ee8fb6"/><circle cx="193.23" cy="406.83" r="1.08" fill="#f9d6e2"/><circle cx="178.89" cy="415.54" r="0.67" fill="#e887ae"/><circle cx="149.22" cy="438.94" r="0.56" fill="#ee8fb6"/><circle cx="158.28" cy="432.54" r="0.71" fill="#f2a3c2"/><circle cx="140.32" cy="458.48" r="0.89" fill="#e887ae"/><circle cx="177.85" cy="429.29" r="0.68" fill="#e887ae"/><circle cx="128.72" cy="456.60" r="0.92" fill="#ee8fb6"/><circle cx="195.03" cy="414.44" r="1.01" fill="#e466a0"/><circle cx="186.21" cy="417.11" r="1.09" fill="#e779ab"/><circle cx="173.14" cy="427.38" r="1.06" fill="#ffffff"/><circle cx="126.70" cy="456.34" r="0.91" fill="#dfe39a"/><circle cx="200.58" cy="408.66" r="0.78" fill="#f6bdd2"/><circle cx="144.66" cy="455.33" r="0.59" fill="#ffffff"/><circle cx="205.77" cy="411.85" r="0.74" fill="#ffffff"/><circle cx="177.55" cy="424.55" r="0.95" fill="#e779ab"/><circle cx="199.78" cy="408.25" r="0.58" fill="#ffffff"/><circle cx="147.43" cy="439.20" r="1.00" fill="#f9d6e2"/><circle cx="143.29" cy="446.42" r="1.03" fill="#ee8fb6"/><circle cx="146.60" cy="440.56" r="0.58" fill="#f2a3c2"/><circle cx="135.05" cy="445.05" r="1.14" fill="#f6bdd2"/><circle cx="209.37" cy="408.63" r="0.80" fill="#ffffff"/><circle cx="136.42" cy="447.14" r="0.62" fill="#f6bdd2"/><circle cx="160.06" cy="431.43" r="0.93" fill="#e779ab"/><circle cx="179.63" cy="427.90" r="1.12" fill="#f6bdd2"/><circle cx="194.48" cy="412.66" r="1.02" fill="#e779ab"/><circle cx="180.61" cy="424.96" r="0.99" fill="#e887ae"/><circle cx="185.45" cy="421.64" r="0.66" fill="#f2a3c2"/><circle cx="158.68" cy="436.72" r="0.57" fill="#e887ae"/><circle cx="134.37" cy="455.13" r="0.57" fill="#ffffff"/><circle cx="149.89" cy="448.20" r="0.65" fill="#e887ae"/><circle cx="156.08" cy="438.39" r="0.68" fill="#f9d6e2"/><circle cx="161.86" cy="427.71" r="1.03" fill="#ee8fb6"/><circle cx="166.39" cy="425.23" r="0.82" fill="#f2a3c2"/><circle cx="191.94" cy="413.49" r="0.94" fill="#f6bdd2"/><circle cx="138.88" cy="459.14" r="1.05" fill="#f4b0cb"/><circle cx="142.67" cy="441.71" r="1.08" fill="#d6607c"/><circle cx="141.15" cy="450.23" r="1.04" fill="#d6607c"/><circle cx="165.50" cy="431.39" r="0.68" fill="#e779ab"/><circle cx="186.97" cy="418.49" r="1.01" fill="#f4b0cb"/><circle cx="151.75" cy="439.05" r="0.99" fill="#e887ae"/><circle cx="173.47" cy="430.71" r="0.91" fill="#ffffff"/><circle cx="209.87" cy="407.22" r="1.03" fill="#dfe39a"/><circle cx="147.96" cy="447.28" r="1.09" fill="#f4b0cb"/><circle cx="146.26" cy="447.39" r="0.96" fill="#f9d6e2"/><circle cx="180.37" cy="414.69" r="1.03" fill="#f9d6e2"/><circle cx="182.34" cy="414.58" r="0.60" fill="#f6bdd2"/><circle cx="168.25" cy="424.75" r="0.86" fill="#f2a3c2"/><circle cx="172.38" cy="424.98" r="1.06" fill="#e887ae"/><circle cx="159.73" cy="434.03" r="0.60" fill="#dfe39a"/><circle cx="130.57" cy="446.77" r="0.57" fill="#ee8fb6"/><circle cx="190.23" cy="417.88" r="0.70" fill="#e887ae"/><circle cx="147.69" cy="438.40" r="0.79" fill="#d6607c"/><circle cx="172.66" cy="425.80" r="0.84" fill="#d6607c"/><circle cx="199.27" cy="409.95" r="0.80" fill="#e466a0"/><circle cx="206.79" cy="406.29" r="1.05" fill="#e887ae"/><circle cx="220.81" cy="406.59" r="0.77" fill="#dfe39a"/><circle cx="142.63" cy="451.06" r="0.70" fill="#f6bdd2"/><circle cx="141.49" cy="442.38" r="0.67" fill="#f9d6e2"/><circle cx="166.23" cy="438.67" r="0.83" fill="#e466a0"/><circle cx="193.50" cy="413.47" r="1.10" fill="#f6bdd2"/><circle cx="198.32" cy="408.57" r="0.74" fill="#e466a0"/><circle cx="145.63" cy="448.64" r="0.98" fill="#ffffff"/><circle cx="184.11" cy="422.20" r="0.79" fill="#e779ab"/><circle cx="220.29" cy="406.24" r="0.84" fill="#dfe39a"/><circle cx="154.89" cy="435.25" r="0.95" fill="#f9d6e2"/><circle cx="200.27" cy="410.54" r="0.58" fill="#e887ae"/><circle cx="214.19" cy="405.98" r="1.03" fill="#dfe39a"/><circle cx="192.94" cy="409.49" r="1.09" fill="#f2a3c2"/><circle cx="218.30" cy="406.25" r="0.98" fill="#f2a3c2"/><circle cx="184.98" cy="420.67" r="0.64" fill="#f9d6e2"/><circle cx="213.69" cy="407.25" r="1.15" fill="#f4b0cb"/><circle cx="144.81" cy="444.36" r="0.55" fill="#f6bdd2"/><circle cx="217.56" cy="404.65" r="0.76" fill="#ee8fb6"/><circle cx="173.10" cy="426.41" r="0.83" fill="#f4b0cb"/><circle cx="135.56" cy="455.64" r="0.56" fill="#e779ab"/><circle cx="154.32" cy="445.28" r="0.68" fill="#d6607c"/><circle cx="178.12" cy="423.07" r="0.74" fill="#e779ab"/><circle cx="155.01" cy="436.77" r="0.98" fill="#e887ae"/><circle cx="163.10" cy="431.46" r="0.96" fill="#e887ae"/><circle cx="192.74" cy="408.84" r="0.56" fill="#d6607c"/><circle cx="162.54" cy="430.56" r="0.62" fill="#ffffff"/><circle cx="195.02" cy="404.82" r="0.67" fill="#f4b0cb"/><circle cx="182.91" cy="424.65" r="1.00" fill="#dfe39a"/><circle cx="141.51" cy="454.82" r="0.70" fill="#ee8fb6"/><circle cx="146.69" cy="439.97" r="0.89" fill="#e779ab"/><circle cx="192.58" cy="416.99" r="0.61" fill="#ee8fb6"/><circle cx="188.78" cy="419.64" r="0.66" fill="#f6bdd2"/><circle cx="166.97" cy="426.06" r="0.61" fill="#ee8fb6"/><circle cx="140.16" cy="447.98" r="0.75" fill="#ee8fb6"/><circle cx="216.04" cy="407.64" r="1.01" fill="#f2a3c2"/><circle cx="208.03" cy="411.60" r="0.92" fill="#e887ae"/><circle cx="189.15" cy="410.73" r="0.95" fill="#f2a3c2"/><circle cx="186.89" cy="416.81" r="0.73" fill="#f9d6e2"/><circle cx="160.68" cy="434.21" r="1.02" fill="#f9d6e2"/><circle cx="208.95" cy="408.46" r="1.09" fill="#dfe39a"/><circle cx="180.48" cy="426.46" r="0.89" fill="#f6bdd2"/><circle cx="157.48" cy="435.38" r="1.05" fill="#f4b0cb"/><circle cx="156.10" cy="437.06" r="1.02" fill="#f2a3c2"/><circle cx="127.40" cy="454.83" r="0.75" fill="#f9d6e2"/><circle cx="208.11" cy="412.25" r="0.82" fill="#ee8fb6"/><circle cx="195.96" cy="414.76" r="0.89" fill="#dfe39a"/><circle cx="184.99" cy="425.95" r="0.91" fill="#f9d6e2"/><circle cx="134.94" cy="447.70" r="0.69" fill="#f9d6e2"/><circle cx="181.94" cy="417.19" r="1.04" fill="#dfe39a"/><circle cx="160.07" cy="439.63" r="0.63" fill="#e887ae"/><circle cx="194.70" cy="404.60" r="0.91" fill="#ffffff"/><circle cx="196.52" cy="409.41" r="0.57" fill="#d6607c"/><circle cx="187.55" cy="419.37" r="0.86" fill="#f9d6e2"/><circle cx="142.83" cy="444.33" r="1.02" fill="#e887ae"/><circle cx="192.41" cy="407.07" r="0.91" fill="#d6607c"/><circle cx="160.31" cy="438.80" r="0.89" fill="#f4b0cb"/><circle cx="166.83" cy="438.05" r="1.05" fill="#d6607c"/><circle cx="206.70" cy="411.73" r="0.62" fill="#ffffff"/><circle cx="209.17" cy="412.59" r="1.09" fill="#e887ae"/><circle cx="158.31" cy="439.76" r="0.99" fill="#e887ae"/><circle cx="179.47" cy="417.77" r="1.08" fill="#ffffff"/><circle cx="150.76" cy="438.93" r="1.13" fill="#e887ae"/><circle cx="174.80" cy="429.93" r="0.73" fill="#dfe39a"/><circle cx="166.53" cy="433.27" r="1.13" fill="#f4b0cb"/><circle cx="183.41" cy="415.05" r="0.68" fill="#f6bdd2"/><circle cx="186.01" cy="412.40" r="0.86" fill="#ee8fb6"/><circle cx="138.07" cy="446.03" r="0.55" fill="#d6607c"/><circle cx="148.78" cy="446.61" r="0.81" fill="#ee8fb6"/><circle cx="161.53" cy="434.28" r="0.90" fill="#f4b0cb"/><circle cx="143.50" cy="447.93" r="0.74" fill="#e779ab"/><circle cx="148.08" cy="437.15" r="0.67" fill="#f2a3c2"/><circle cx="211.38" cy="408.17" r="1.05" fill="#f9d6e2"/><circle cx="161.65" cy="435.27" r="1.15" fill="#f4b0cb"/><circle cx="145.00" cy="442.58" r="0.94" fill="#e466a0"/><circle cx="150.72" cy="435.57" r="1.07" fill="#e779ab"/><circle cx="189.08" cy="419.75" r="0.80" fill="#d6607c"/><circle cx="150.63" cy="440.00" r="0.67" fill="#f4b0cb"/><circle cx="152.17" cy="446.69" r="0.77" fill="#e779ab"/><circle cx="184.49" cy="413.91" r="1.14" fill="#f2a3c2"/><circle cx="215.05" cy="410.61" r="0.93" fill="#f6bdd2"/><circle cx="140.15" cy="447.87" r="0.59" fill="#dfe39a"/><circle cx="220.93" cy="407.71" r="0.70" fill="#dfe39a"/><circle cx="197.31" cy="410.60" r="0.70" fill="#f2a3c2"/><circle cx="144.33" cy="444.30" r="1.14" fill="#f6bdd2"/><circle cx="125.65" cy="456.39" r="0.55" fill="#e887ae"/><circle cx="215.16" cy="409.01" r="1.10" fill="#e887ae"/><circle cx="147.22" cy="443.79" r="0.85" fill="#e779ab"/><circle cx="208.79" cy="406.60" r="0.65" fill="#dfe39a"/><circle cx="198.11" cy="412.94" r="0.95" fill="#f2a3c2"/><circle cx="185.00" cy="425.05" r="0.69" fill="#f4b0cb"/><circle cx="169.37" cy="434.96" r="0.71" fill="#d6607c"/><circle cx="151.29" cy="441.20" r="1.07" fill="#d6607c"/><circle cx="150.17" cy="442.85" r="1.03" fill="#d6607c"/><circle cx="160.65" cy="428.58" r="0.59" fill="#e466a0"/><circle cx="204.90" cy="408.93" r="0.69" fill="#f4b0cb"/><circle cx="148.78" cy="444.16" r="1.04" fill="#f9d6e2"/><circle cx="191.80" cy="405.71" r="0.60" fill="#d6607c"/><circle cx="215.48" cy="410.60" r="0.85" fill="#f6bdd2"/><circle cx="175.38" cy="422.65" r="0.80" fill="#f9d6e2"/><circle cx="170.80" cy="435.56" r="0.63" fill="#e466a0"/><circle cx="190.53" cy="411.00" r="0.82" fill="#f4b0cb"/><circle cx="196.96" cy="409.68" r="0.63" fill="#dfe39a"/><circle cx="165.69" cy="436.58" r="1.13" fill="#ee8fb6"/><circle cx="175.93" cy="417.19" r="0.69" fill="#ffffff"/><circle cx="143.68" cy="444.44" r="0.60" fill="#d6607c"/><circle cx="147.96" cy="449.59" r="0.68" fill="#ffffff"/><circle cx="138.54" cy="444.73" r="0.76" fill="#f4b0cb"/><circle cx="183.62" cy="414.05" r="0.83" fill="#f6bdd2"/><circle cx="166.90" cy="427.19" r="0.68" fill="#e466a0"/><circle cx="170.71" cy="433.48" r="0.84" fill="#f6bdd2"/><circle cx="156.60" cy="434.62" r="0.82" fill="#d6607c"/><circle cx="138.43" cy="454.54" r="0.87" fill="#f2a3c2"/><circle cx="170.84" cy="429.45" r="0.92" fill="#e779ab"/><circle cx="162.49" cy="428.77" r="1.10" fill="#ffffff"/><circle cx="194.61" cy="414.43" r="0.99" fill="#f6bdd2"/><circle cx="196.65" cy="411.65" r="0.56" fill="#ee8fb6"/><circle cx="147.32" cy="444.94" r="0.75" fill="#e887ae"/><circle cx="191.56" cy="411.75" r="0.91" fill="#e887ae"/><circle cx="170.39" cy="433.59" r="0.57" fill="#f6bdd2"/><circle cx="143.12" cy="448.20" r="0.86" fill="#f6bdd2"/><circle cx="182.09" cy="425.56" r="0.64" fill="#e887ae"/><circle cx="149.75" cy="448.09" r="0.63" fill="#e887ae"/><circle cx="164.35" cy="434.74" r="0.76" fill="#f9d6e2"/><circle cx="150.75" cy="442.06" r="0.84" fill="#e887ae"/><circle cx="132.19" cy="446.55" r="0.95" fill="#e887ae"/><circle cx="215.07" cy="412.39" r="0.62" fill="#e887ae"/><circle cx="190.85" cy="416.83" r="0.60" fill="#e779ab"/><circle cx="164.06" cy="434.20" r="1.11" fill="#e887ae"/><circle cx="146.30" cy="441.01" r="0.67" fill="#e887ae"/><circle cx="191.87" cy="416.60" r="0.61" fill="#dfe39a"/><circle cx="162.68" cy="435.38" r="0.70" fill="#ffffff"/><circle cx="209.44" cy="413.76" r="0.62" fill="#e887ae"/><circle cx="217.16" cy="406.94" r="0.85" fill="#e887ae"/><circle cx="177.41" cy="425.14" r="0.59" fill="#e779ab"/><circle cx="132.23" cy="455.49" r="0.71" fill="#e779ab"/><circle cx="186.67" cy="421.81" r="0.75" fill="#ffffff"/><circle cx="221.69" cy="408.18" r="1.01" fill="#f2a3c2"/><circle cx="175.90" cy="421.70" r="0.59" fill="#e887ae"/><circle cx="127.42" cy="455.21" r="0.57" fill="#e887ae"/><circle cx="127.98" cy="453.83" r="0.83" fill="#f9d6e2"/><circle cx="128.73" cy="451.61" r="0.96" fill="#e779ab"/><circle cx="156.81" cy="438.59" r="0.55" fill="#e887ae"/><circle cx="183.10" cy="413.36" r="0.92" fill="#ee8fb6"/><circle cx="182.22" cy="412.83" r="0.71" fill="#f9d6e2"/><circle cx="142.93" cy="447.72" r="0.97" fill="#f2a3c2"/><circle cx="188.43" cy="413.21" r="0.75" fill="#f6bdd2"/><circle cx="181.16" cy="416.71" r="0.72" fill="#e887ae"/><circle cx="189.62" cy="412.33" r="0.77" fill="#f2a3c2"/><circle cx="186.31" cy="413.10" r="1.14" fill="#ee8fb6"/><circle cx="216.81" cy="406.56" r="0.86" fill="#d6607c"/><circle cx="189.08" cy="416.10" r="1.07" fill="#e887ae"/><circle cx="135.21" cy="455.15" r="0.79" fill="#f4b0cb"/><circle cx="195.80" cy="415.51" r="0.66" fill="#f9d6e2"/><circle cx="215.39" cy="411.91" r="0.89" fill="#f6bdd2"/><circle cx="160.64" cy="429.72" r="1.03" fill="#e779ab"/><circle cx="129.13" cy="457.09" r="0.94" fill="#f2a3c2"/><circle cx="135.35" cy="457.57" r="0.71" fill="#f6bdd2"/><circle cx="151.29" cy="447.18" r="1.11" fill="#e887ae"/><circle cx="147.23" cy="457.90" r="1.07" fill="#ee8fb6"/><circle cx="145.91" cy="448.37" r="0.79" fill="#ee8fb6"/><circle cx="216.91" cy="404.50" r="0.77" fill="#f6bdd2"/><circle cx="149.53" cy="436.37" r="0.68" fill="#e779ab"/><circle cx="191.69" cy="413.33" r="0.78" fill="#ffffff"/><circle cx="173.33" cy="425.45" r="0.82" fill="#f6bdd2"/><circle cx="202.48" cy="409.27" r="0.81" fill="#d6607c"/><circle cx="152.13" cy="438.64" r="0.64" fill="#ffffff"/><circle cx="183.10" cy="423.45" r="0.67" fill="#d6607c"/><circle cx="178.04" cy="422.47" r="1.09" fill="#e466a0"/><circle cx="153.58" cy="441.68" r="0.63" fill="#d6607c"/><circle cx="197.63" cy="408.20" r="0.80" fill="#e466a0"/><circle cx="192.39" cy="412.51" r="0.92" fill="#dfe39a"/><circle cx="212.78" cy="411.03" r="1.07" fill="#e779ab"/><circle cx="135.09" cy="458.10" r="0.58" fill="#f4b0cb"/><circle cx="219.88" cy="406.57" r="0.59" fill="#e887ae"/><circle cx="163.54" cy="429.22" r="0.83" fill="#dfe39a"/><circle cx="218.80" cy="409.03" r="0.71" fill="#dfe39a"/><circle cx="154.70" cy="437.44" r="1.03" fill="#e779ab"/><circle cx="212.92" cy="404.34" r="1.11" fill="#ee8fb6"/><circle cx="166.82" cy="427.05" r="0.56" fill="#ffffff"/><circle cx="185.08" cy="423.03" r="0.85" fill="#f9d6e2"/><circle cx="157.25" cy="438.06" r="0.76" fill="#d6607c"/><circle cx="153.06" cy="438.34" r="0.71" fill="#ee8fb6"/><circle cx="150.57" cy="443.24" r="0.88" fill="#f6bdd2"/><circle cx="184.18" cy="421.01" r="0.77" fill="#f6bdd2"/><circle cx="155.88" cy="439.66" r="0.79" fill="#e466a0"/><circle cx="138.39" cy="446.78" r="0.56" fill="#f2a3c2"/><circle cx="157.32" cy="440.46" r="1.14" fill="#ffffff"/><circle cx="169.45" cy="428.45" r="1.02" fill="#e887ae"/><circle cx="213.42" cy="407.73" r="1.12" fill="#e887ae"/><circle cx="153.17" cy="444.30" r="0.64" fill="#e466a0"/><circle cx="179.13" cy="427.51" r="0.92" fill="#f2a3c2"/><circle cx="158.83" cy="439.06" r="0.85" fill="#e887ae"/><circle cx="190.15" cy="418.64" r="1.00" fill="#f4b0cb"/><circle cx="157.30" cy="439.18" r="0.69" fill="#dfe39a"/><circle cx="174.90" cy="423.61" r="0.87" fill="#e466a0"/><circle cx="165.68" cy="433.49" r="1.11" fill="#e466a0"/><circle cx="139.31" cy="449.22" r="0.92" fill="#f4b0cb"/><circle cx="141.78" cy="447.55" r="1.07" fill="#e466a0"/><circle cx="140.62" cy="447.82" r="0.66" fill="#f2a3c2"/><circle cx="213.24" cy="407.20" r="1.03" fill="#ee8fb6"/><circle cx="167.83" cy="430.32" r="0.98" fill="#e466a0"/><circle cx="149.71" cy="437.94" r="0.56" fill="#dfe39a"/><circle cx="156.07" cy="439.15" r="0.59" fill="#f2a3c2"/><circle cx="180.25" cy="416.00" r="0.59" fill="#f2a3c2"/><circle cx="175.07" cy="427.75" r="1.03" fill="#ee8fb6"/><circle cx="147.50" cy="445.16" r="1.11" fill="#e466a0"/><circle cx="142.09" cy="458.74" r="0.66" fill="#e887ae"/><circle cx="167.61" cy="425.76" r="0.59" fill="#d6607c"/><circle cx="142.90" cy="459.47" r="1.13" fill="#f4b0cb"/><circle cx="186.89" cy="416.06" r="0.97" fill="#f9d6e2"/><circle cx="220.69" cy="406.33" r="0.97" fill="#f2a3c2"/><circle cx="156.85" cy="442.72" r="0.57" fill="#d6607c"/><circle cx="150.40" cy="446.05" r="0.76" fill="#ffffff"/><circle cx="157.71" cy="437.89" r="0.98" fill="#f4b0cb"/><circle cx="212.75" cy="406.91" r="0.93" fill="#ee8fb6"/><circle cx="166.01" cy="427.33" r="0.63" fill="#d6607c"/><circle cx="140.63" cy="450.66" r="0.69" fill="#e887ae"/><circle cx="183.83" cy="426.60" r="1.12" fill="#e779ab"/><circle cx="129.86" cy="450.69" r="0.78" fill="#d6607c"/><circle cx="188.28" cy="411.02" r="0.77" fill="#ee8fb6"/><circle cx="140.48" cy="444.38" r="0.73" fill="#e779ab"/><circle cx="177.91" cy="420.06" r="0.77" fill="#e887ae"/><circle cx="183.33" cy="415.27" r="0.75" fill="#e779ab"/><circle cx="216.98" cy="405.34" r="0.94" fill="#dfe39a"/><circle cx="170.62" cy="434.91" r="0.77" fill="#e466a0"/><circle cx="189.70" cy="409.38" r="0.95" fill="#e466a0"/><circle cx="153.47" cy="441.60" r="0.74" fill="#dfe39a"/><circle cx="172.55" cy="423.11" r="1.15" fill="#e466a0"/><circle cx="166.62" cy="425.92" r="0.62" fill="#f4b0cb"/><circle cx="141.84" cy="447.52" r="1.11" fill="#e887ae"/><circle cx="158.18" cy="434.48" r="0.86" fill="#f6bdd2"/><circle cx="133.68" cy="450.97" r="0.97" fill="#e887ae"/><circle cx="196.61" cy="405.81" r="0.83" fill="#f4b0cb"/><circle cx="208.67" cy="410.47" r="1.07" fill="#f9d6e2"/><circle cx="213.78" cy="408.37" r="0.80" fill="#f9d6e2"/><circle cx="188.57" cy="413.64" r="0.73" fill="#ee8fb6"/><circle cx="172.48" cy="431.14" r="0.95" fill="#f6bdd2"/><circle cx="165.26" cy="436.37" r="0.70" fill="#f2a3c2"/><circle cx="170.23" cy="429.90" r="0.65" fill="#d6607c"/><circle cx="141.63" cy="452.22" r="0.64" fill="#dfe39a"/><circle cx="136.74" cy="456.81" r="1.13" fill="#ffffff"/><circle cx="190.00" cy="418.90" r="0.64" fill="#f2a3c2"/><circle cx="210.92" cy="405.38" r="0.73" fill="#f6bdd2"/><circle cx="178.43" cy="426.72" r="0.94" fill="#dfe39a"/><circle cx="219.44" cy="408.68" r="0.68" fill="#ee8fb6"/><circle cx="176.41" cy="420.43" r="0.67" fill="#d6607c"/><circle cx="138.82" cy="456.69" r="1.11" fill="#dfe39a"/><circle cx="129.08" cy="451.14" r="0.70" fill="#ffffff"/><circle cx="160.34" cy="437.88" r="0.94" fill="#f9d6e2"/><circle cx="170.75" cy="431.17" r="0.59" fill="#dfe39a"/><circle cx="175.79" cy="423.98" r="0.96" fill="#f2a3c2"/><circle cx="187.26" cy="416.97" r="0.86" fill="#f2a3c2"/><circle cx="178.62" cy="418.00" r="1.13" fill="#ffffff"/><circle cx="124.08" cy="452.36" r="1.13" fill="#f9d6e2"/><circle cx="182.20" cy="416.88" r="0.58" fill="#ffffff"/><circle cx="157.50" cy="442.29" r="0.58" fill="#f9d6e2"/><circle cx="134.86" cy="454.09" r="0.94" fill="#e887ae"/><circle cx="173.06" cy="429.78" r="0.60" fill="#ee8fb6"/><circle cx="143.40" cy="455.58" r="0.64" fill="#f9d6e2"/><circle cx="149.30" cy="446.17" r="0.58" fill="#d6607c"/><circle cx="172.64" cy="425.56" r="0.98" fill="#e887ae"/><circle cx="178.36" cy="419.83" r="0.55" fill="#dfe39a"/><circle cx="189.49" cy="416.02" r="0.65" fill="#ee8fb6"/><circle cx="131.32" cy="450.25" r="0.96" fill="#d6607c"/><circle cx="188.02" cy="416.27" r="0.59" fill="#f4b0cb"/><circle cx="136.09" cy="445.72" r="0.98" fill="#dfe39a"/><circle cx="178.16" cy="427.84" r="0.89" fill="#e887ae"/><circle cx="214.71" cy="411.58" r="0.63" fill="#dfe39a"/><circle cx="216.08" cy="410.44" r="0.57" fill="#e887ae"/><circle cx="161.64" cy="439.03" r="0.85" fill="#d6607c"/><circle cx="178.38" cy="428.26" r="0.88" fill="#ee8fb6"/><circle cx="212.95" cy="406.32" r="0.76" fill="#e466a0"/><circle cx="146.09" cy="448.60" r="0.96" fill="#dfe39a"/><circle cx="158.48" cy="434.25" r="0.64" fill="#ffffff"/><circle cx="180.45" cy="423.20" r="0.69" fill="#d6607c"/><circle cx="145.88" cy="439.12" r="1.10" fill="#e779ab"/><circle cx="194.68" cy="413.65" r="0.81" fill="#f2a3c2"/><circle cx="172.36" cy="425.36" r="0.82" fill="#dfe39a"/><circle cx="169.42" cy="435.77" r="0.96" fill="#ee8fb6"/><circle cx="173.94" cy="432.19" r="0.89" fill="#f9d6e2"/><circle cx="181.49" cy="423.66" r="1.03" fill="#f9d6e2"/><circle cx="133.54" cy="448.49" r="1.07" fill="#f2a3c2"/><circle cx="192.72" cy="413.66" r="0.90" fill="#f2a3c2"/><circle cx="220.29" cy="405.87" r="0.62" fill="#f9d6e2"/><circle cx="192.93" cy="405.97" r="1.14" fill="#f4b0cb"/><circle cx="131.81" cy="454.27" r="0.95" fill="#e779ab"/><circle cx="143.48" cy="444.32" r="0.71" fill="#ee8fb6"/><circle cx="149.77" cy="447.20" r="0.65" fill="#e887ae"/><circle cx="217.25" cy="405.31" r="1.03" fill="#dfe39a"/><circle cx="146.64" cy="438.13" r="1.02" fill="#ffffff"/><circle cx="159.58" cy="439.35" r="0.94" fill="#f9d6e2"/><circle cx="175.12" cy="426.97" r="0.99" fill="#f9d6e2"/><circle cx="204.22" cy="410.37" r="1.08" fill="#f9d6e2"/><circle cx="125.79" cy="453.52" r="1.00" fill="#e887ae"/><circle cx="159.26" cy="437.37" r="0.67" fill="#ee8fb6"/><circle cx="164.22" cy="435.18" r="0.95" fill="#e887ae"/><circle cx="130.86" cy="453.90" r="1.13" fill="#e887ae"/><circle cx="146.06" cy="456.02" r="0.87" fill="#e887ae"/><circle cx="142.57" cy="445.44" r="1.11" fill="#d6607c"/><circle cx="215.97" cy="409.47" r="0.60" fill="#f2a3c2"/></g><g><circle cx="158.60" cy="431.74" r="0.48" fill="#8fb27a"/><circle cx="135.52" cy="457.39" r="0.59" fill="#d8dc7a"/><circle cx="174.02" cy="424.57" r="0.69" fill="#8fb27a"/><circle cx="164.36" cy="435.74" r="0.64" fill="#e6e89a"/><circle cx="130.08" cy="449.60" r="0.63" fill="#d8dc7a"/><circle cx="140.57" cy="445.31" r="0.43" fill="#e6e89a"/><circle cx="137.03" cy="458.06" r="0.69" fill="#d8dc7a"/><circle cx="184.32" cy="414.10" r="0.54" fill="#6f9a5a"/><circle cx="173.35" cy="429.47" r="0.51" fill="#e6e89a"/><circle cx="174.26" cy="425.10" r="0.69" fill="#6f9a5a"/><circle cx="139.09" cy="455.54" r="0.65" fill="#b8433f"/><circle cx="165.23" cy="435.73" r="0.48" fill="#b8433f"/><circle cx="165.61" cy="427.02" r="0.48" fill="#6f9a5a"/><circle cx="214.25" cy="408.88" r="0.37" fill="#d8dc7a"/><circle cx="140.33" cy="443.54" r="0.41" fill="#8fb27a"/><circle cx="186.61" cy="417.51" r="0.56" fill="#b8433f"/><circle cx="188.88" cy="413.12" r="0.45" fill="#b8433f"/><circle cx="171.30" cy="426.63" r="0.51" fill="#8fb27a"/><circle cx="188.18" cy="421.96" r="0.67" fill="#8fb27a"/><circle cx="134.76" cy="456.38" r="0.41" fill="#b8433f"/><circle cx="189.78" cy="412.95" r="0.69" fill="#6f9a5a"/><circle cx="140.22" cy="457.10" r="0.66" fill="#b8433f"/><circle cx="182.61" cy="422.72" r="0.53" fill="#e6e89a"/><circle cx="162.80" cy="438.86" r="0.66" fill="#d8dc7a"/><circle cx="149.12" cy="448.94" r="0.47" fill="#b8433f"/><circle cx="207.42" cy="407.52" r="0.61" fill="#8fb27a"/><circle cx="166.01" cy="431.76" r="0.40" fill="#6f9a5a"/><circle cx="207.96" cy="410.94" r="0.52" fill="#d8dc7a"/><circle cx="125.02" cy="453.07" r="0.62" fill="#b8433f"/><circle cx="155.74" cy="435.11" r="0.55" fill="#8fb27a"/><circle cx="161.94" cy="439.27" r="0.41" fill="#e6e89a"/><circle cx="183.18" cy="420.60" r="0.66" fill="#6f9a5a"/><circle cx="202.82" cy="409.84" r="0.63" fill="#d8dc7a"/><circle cx="185.42" cy="421.60" r="0.52" fill="#e6e89a"/><circle cx="186.46" cy="423.03" r="0.55" fill="#d8dc7a"/><circle cx="132.42" cy="453.36" r="0.40" fill="#b8433f"/><circle cx="132.31" cy="456.88" r="0.48" fill="#d8dc7a"/><circle cx="127.06" cy="454.74" r="0.37" fill="#8fb27a"/><circle cx="175.04" cy="428.33" r="0.68" fill="#6f9a5a"/><circle cx="131.23" cy="455.07" r="0.59" fill="#8fb27a"/><circle cx="144.91" cy="444.61" r="0.41" fill="#b8433f"/><circle cx="156.34" cy="434.17" r="0.51" fill="#8fb27a"/><circle cx="199.95" cy="409.01" r="0.54" fill="#d8dc7a"/><circle cx="190.27" cy="416.26" r="0.69" fill="#6f9a5a"/><circle cx="177.34" cy="419.68" r="0.46" fill="#6f9a5a"/><circle cx="163.41" cy="436.69" r="0.52" fill="#8fb27a"/><circle cx="198.15" cy="411.88" r="0.63" fill="#d8dc7a"/><circle cx="155.66" cy="437.06" r="0.63" fill="#d8dc7a"/><circle cx="190.43" cy="410.90" r="0.57" fill="#b8433f"/><circle cx="204.50" cy="407.83" r="0.50" fill="#d8dc7a"/><circle cx="180.84" cy="427.65" r="0.48" fill="#d8dc7a"/><circle cx="165.44" cy="429.18" r="0.64" fill="#8fb27a"/><circle cx="134.87" cy="456.74" r="0.69" fill="#b8433f"/><circle cx="213.09" cy="404.63" r="0.64" fill="#b8433f"/><circle cx="149.93" cy="441.47" r="0.36" fill="#b8433f"/><circle cx="214.47" cy="410.65" r="0.67" fill="#b8433f"/><circle cx="142.14" cy="454.87" r="0.56" fill="#6f9a5a"/><circle cx="129.08" cy="449.20" r="0.38" fill="#d8dc7a"/><circle cx="139.18" cy="451.62" r="0.57" fill="#d8dc7a"/><circle cx="159.69" cy="432.61" r="0.66" fill="#d8dc7a"/><circle cx="134.18" cy="450.35" r="0.52" fill="#8fb27a"/><circle cx="207.84" cy="405.59" r="0.54" fill="#d8dc7a"/><circle cx="139.96" cy="457.70" r="0.47" fill="#8fb27a"/><circle cx="141.88" cy="449.41" r="0.68" fill="#6f9a5a"/><circle cx="129.02" cy="449.10" r="0.56" fill="#6f9a5a"/><circle cx="180.81" cy="414.95" r="0.61" fill="#d8dc7a"/><circle cx="159.56" cy="435.06" r="0.49" fill="#8fb27a"/><circle cx="181.52" cy="422.52" r="0.40" fill="#b8433f"/><circle cx="130.01" cy="453.26" r="0.35" fill="#b8433f"/><circle cx="140.36" cy="447.96" r="0.62" fill="#d8dc7a"/></g><g><path d="M125.96,426.50 L126.16,454.62" stroke="#5d7d5a" stroke-width="0.94"/><path d="M128.46,434.77 L128.71,453.29" stroke="#5d7d5a" stroke-width="0.62"/><ellipse cx="127.52" cy="421.63" rx="0.64" ry="0.73" fill="#3f6e48" transform="rotate(20 127.52 421.63)"/><ellipse cx="125.47" cy="422.53" rx="0.75" ry="0.72" fill="#3f6e48" transform="rotate(7 125.47 422.53)"/><ellipse cx="127.40" cy="423.14" rx="0.68" ry="0.90" fill="#7fa57c" transform="rotate(-35 127.40 423.14)"/><ellipse cx="124.15" cy="423.42" rx="1.04" ry="1.13" fill="#3f6e48" transform="rotate(2 124.15 423.42)"/><ellipse cx="128.26" cy="424.02" rx="1.09" ry="1.59" fill="#3f6e48" transform="rotate(-29 128.26 424.02)"/><ellipse cx="123.93" cy="424.34" rx="1.03" ry="1.22" fill="#3f6e48" transform="rotate(22 123.93 424.34)"/><ellipse cx="128.44" cy="424.90" rx="1.13" ry="1.55" fill="#3f6e48" transform="rotate(-15 128.44 424.90)"/><ellipse cx="123.37" cy="425.48" rx="1.52" ry="2.02" fill="#3a6642" transform="rotate(34 123.37 425.48)"/><ellipse cx="126.71" cy="426.45" rx="1.38" ry="1.64" fill="#3f6e48" transform="rotate(3 126.71 426.45)"/><ellipse cx="123.30" cy="426.96" rx="1.31" ry="1.38" fill="#3f6e48" transform="rotate(9 123.30 426.96)"/><ellipse cx="128.21" cy="427.18" rx="1.21" ry="1.67" fill="#3f6e48" transform="rotate(23 128.21 427.18)"/><ellipse cx="126.20" cy="427.55" rx="1.52" ry="1.77" fill="#3f6e48" transform="rotate(0 126.20 427.55)"/><ellipse cx="128.89" cy="428.40" rx="1.23" ry="1.13" fill="#3f6e48" transform="rotate(2 128.89 428.40)"/><ellipse cx="124.07" cy="428.83" rx="1.38" ry="1.20" fill="#3f6e48" transform="rotate(-18 124.07 428.83)"/><ellipse cx="128.02" cy="429.61" rx="1.79" ry="2.27" fill="#7fa57c" transform="rotate(-10 128.02 429.61)"/><ellipse cx="122.27" cy="429.96" rx="2.08" ry="2.53" fill="#7fa57c" transform="rotate(22 122.27 429.96)"/><ellipse cx="129.37" cy="430.56" rx="2.12" ry="2.06" fill="#3f6e48" transform="rotate(16 129.37 430.56)"/><ellipse cx="122.99" cy="431.27" rx="1.72" ry="2.39" fill="#3f6e48" transform="rotate(-7 122.99 431.27)"/><ellipse cx="126.62" cy="431.74" rx="1.51" ry="1.63" fill="#7fa57c" transform="rotate(-22 126.62 431.74)"/><ellipse cx="122.98" cy="432.46" rx="1.79" ry="1.75" fill="#7fa57c" transform="rotate(27 122.98 432.46)"/><ellipse cx="128.73" cy="432.97" rx="2.32" ry="3.32" fill="#3f6e48" transform="rotate(-21 128.73 432.97)"/><ellipse cx="123.57" cy="433.50" rx="1.78" ry="2.15" fill="#3a6642" transform="rotate(-1 123.57 433.50)"/><ellipse cx="129.30" cy="433.64" rx="1.48" ry="1.93" fill="#3f6e48" transform="rotate(-24 129.30 433.64)"/><ellipse cx="126.35" cy="434.63" rx="2.01" ry="2.51" fill="#7fa57c" transform="rotate(34 126.35 434.63)"/><ellipse cx="129.83" cy="434.88" rx="2.19" ry="3.00" fill="#3f6e48" transform="rotate(-22 129.83 434.88)"/><ellipse cx="126.00" cy="435.25" rx="1.39" ry="1.55" fill="#3f6e48" transform="rotate(-25 126.00 435.25)"/><ellipse cx="127.09" cy="436.11" rx="1.98" ry="2.03" fill="#3f6e48" transform="rotate(-12 127.09 436.11)"/><ellipse cx="125.55" cy="436.63" rx="2.34" ry="2.20" fill="#3a6642" transform="rotate(-35 125.55 436.63)"/><ellipse cx="128.99" cy="437.17" rx="2.21" ry="1.86" fill="#7fa57c" transform="rotate(9 128.99 437.17)"/><ellipse cx="126.14" cy="437.64" rx="2.23" ry="2.06" fill="#3a6642" transform="rotate(-8 126.14 437.64)"/><ellipse cx="129.46" cy="438.46" rx="2.20" ry="2.13" fill="#3f6e48" transform="rotate(-3 129.46 438.46)"/><ellipse cx="122.50" cy="438.93" rx="1.90" ry="2.28" fill="#3f6e48" transform="rotate(-33 122.50 438.93)"/><ellipse cx="130.06" cy="439.30" rx="2.42" ry="2.46" fill="#3a6642" transform="rotate(27 130.06 439.30)"/><ellipse cx="125.54" cy="439.99" rx="2.00" ry="2.06" fill="#3f6e48" transform="rotate(-32 125.54 439.99)"/><ellipse cx="131.24" cy="440.29" rx="1.44" ry="1.23" fill="#3f6e48" transform="rotate(17 131.24 440.29)"/><ellipse cx="121.98" cy="440.94" rx="2.03" ry="2.62" fill="#3f6e48" transform="rotate(25 121.98 440.94)"/><ellipse cx="128.34" cy="441.42" rx="1.52" ry="1.27" fill="#3f6e48" transform="rotate(-9 128.34 441.42)"/><ellipse cx="123.75" cy="441.91" rx="1.68" ry="1.85" fill="#3a6642" transform="rotate(11 123.75 441.91)"/><ellipse cx="128.65" cy="442.52" rx="1.88" ry="2.76" fill="#3f6e48" transform="rotate(21 128.65 442.52)"/><ellipse cx="124.81" cy="442.95" rx="1.82" ry="1.73" fill="#3f6e48" transform="rotate(40 124.81 442.95)"/><ellipse cx="129.30" cy="443.81" rx="1.99" ry="2.57" fill="#3a6642" transform="rotate(-9 129.30 443.81)"/><ellipse cx="124.38" cy="444.21" rx="1.43" ry="1.53" fill="#3f6e48" transform="rotate(-40 124.38 444.21)"/><ellipse cx="127.29" cy="444.58" rx="1.93" ry="2.51" fill="#3f6e48" transform="rotate(-18 127.29 444.58)"/><ellipse cx="125.26" cy="445.08" rx="1.94" ry="2.56" fill="#3f6e48" transform="rotate(-27 125.26 445.08)"/><ellipse cx="127.08" cy="446.13" rx="1.39" ry="1.78" fill="#3f6e48" transform="rotate(34 127.08 446.13)"/><ellipse cx="125.51" cy="446.50" rx="1.79" ry="1.83" fill="#3f6e48" transform="rotate(-21 125.51 446.50)"/><ellipse cx="126.26" cy="443.66" rx="0.56" ry="1.06" fill="#eef2ec" opacity="0.85"/><ellipse cx="127.62" cy="432.02" rx="0.56" ry="1.06" fill="#eef2ec" opacity="0.85"/><ellipse cx="123.64" cy="440.43" rx="0.56" ry="1.06" fill="#eef2ec" opacity="0.85"/><ellipse cx="125.47" cy="434.73" rx="0.56" ry="1.06" fill="#eef2ec" opacity="0.85"/><ellipse cx="127.45" cy="435.93" rx="0.56" ry="1.06" fill="#eef2ec" opacity="0.85"/></g><g><path d="M160.58,405.06 L160.78,431.54" stroke="#5d7d5a" stroke-width="0.94"/><path d="M163.08,412.85 L163.33,430.29" stroke="#5d7d5a" stroke-width="0.62"/><ellipse cx="161.32" cy="400.88" rx="0.48" ry="0.73" fill="#3f6e48" transform="rotate(-25 161.32 400.88)"/><ellipse cx="159.39" cy="401.28" rx="0.87" ry="0.74" fill="#3f6e48" transform="rotate(-34 159.39 401.28)"/><ellipse cx="162.31" cy="401.58" rx="1.00" ry="1.27" fill="#7fa57c" transform="rotate(-34 162.31 401.58)"/><ellipse cx="161.03" cy="402.23" rx="0.79" ry="0.86" fill="#3f6e48" transform="rotate(-26 161.03 402.23)"/><ellipse cx="163.51" cy="402.74" rx="1.17" ry="1.72" fill="#3f6e48" transform="rotate(1 163.51 402.74)"/><ellipse cx="160.34" cy="403.27" rx="1.39" ry="1.42" fill="#3a6642" transform="rotate(25 160.34 403.27)"/><ellipse cx="163.53" cy="403.55" rx="1.26" ry="1.17" fill="#3f6e48" transform="rotate(28 163.53 403.55)"/><ellipse cx="159.70" cy="404.45" rx="1.09" ry="1.09" fill="#7fa57c" transform="rotate(10 159.70 404.45)"/><ellipse cx="164.18" cy="404.84" rx="1.17" ry="1.24" fill="#3f6e48" transform="rotate(-2 164.18 404.84)"/><ellipse cx="159.10" cy="405.31" rx="1.38" ry="1.84" fill="#7fa57c" transform="rotate(14 159.10 405.31)"/><ellipse cx="164.65" cy="405.58" rx="1.27" ry="1.40" fill="#3f6e48" transform="rotate(-15 164.65 405.58)"/><ellipse cx="159.57" cy="406.31" rx="1.12" ry="1.60" fill="#3f6e48" transform="rotate(29 159.57 406.31)"/><ellipse cx="161.77" cy="406.75" rx="1.86" ry="2.31" fill="#3f6e48" transform="rotate(-32 161.77 406.75)"/><ellipse cx="157.88" cy="407.35" rx="1.69" ry="1.59" fill="#3a6642" transform="rotate(-34 157.88 407.35)"/><ellipse cx="161.58" cy="407.69" rx="1.26" ry="1.53" fill="#3f6e48" transform="rotate(-25 161.58 407.69)"/><ellipse cx="158.85" cy="408.36" rx="1.73" ry="2.58" fill="#3a6642" transform="rotate(20 158.85 408.36)"/><ellipse cx="161.36" cy="408.87" rx="1.90" ry="2.78" fill="#3f6e48" transform="rotate(37 161.36 408.87)"/><ellipse cx="160.55" cy="409.27" rx="1.41" ry="1.47" fill="#3f6e48" transform="rotate(-28 160.55 409.27)"/><ellipse cx="164.20" cy="409.74" rx="1.68" ry="1.66" fill="#3f6e48" transform="rotate(-16 164.20 409.74)"/><ellipse cx="160.53" cy="410.35" rx="1.50" ry="1.46" fill="#7fa57c" transform="rotate(-17 160.53 410.35)"/><ellipse cx="164.60" cy="410.69" rx="1.90" ry="2.34" fill="#3f6e48" transform="rotate(-25 164.60 410.69)"/><ellipse cx="156.64" cy="411.57" rx="2.22" ry="1.83" fill="#3f6e48" transform="rotate(39 156.64 411.57)"/><ellipse cx="162.06" cy="411.73" rx="1.85" ry="1.98" fill="#3a6642" transform="rotate(13 162.06 411.73)"/><ellipse cx="159.86" cy="412.46" rx="1.60" ry="1.58" fill="#3f6e48" transform="rotate(32 159.86 412.46)"/><ellipse cx="165.45" cy="412.82" rx="2.07" ry="1.74" fill="#3f6e48" transform="rotate(37 165.45 412.82)"/><ellipse cx="156.88" cy="413.40" rx="2.15" ry="2.13" fill="#3a6642" transform="rotate(-13 156.88 413.40)"/><ellipse cx="165.99" cy="414.09" rx="2.32" ry="2.24" fill="#3f6e48" transform="rotate(-23 165.99 414.09)"/><ellipse cx="159.78" cy="414.46" rx="2.47" ry="3.16" fill="#3a6642" transform="rotate(37 159.78 414.46)"/><ellipse cx="161.95" cy="415.13" rx="2.28" ry="3.25" fill="#3f6e48" transform="rotate(6 161.95 415.13)"/><ellipse cx="156.86" cy="415.45" rx="1.67" ry="1.64" fill="#3f6e48" transform="rotate(4 156.86 415.45)"/><ellipse cx="163.61" cy="416.26" rx="2.14" ry="2.94" fill="#7fa57c" transform="rotate(-16 163.61 416.26)"/><ellipse cx="159.38" cy="416.60" rx="2.33" ry="1.99" fill="#3a6642" transform="rotate(27 159.38 416.60)"/><ellipse cx="161.87" cy="416.96" rx="1.41" ry="1.50" fill="#3f6e48" transform="rotate(26 161.87 416.96)"/><ellipse cx="156.95" cy="417.64" rx="1.55" ry="1.63" fill="#7fa57c" transform="rotate(-40 156.95 417.64)"/><ellipse cx="164.76" cy="418.16" rx="1.34" ry="1.97" fill="#3a6642" transform="rotate(40 164.76 418.16)"/><ellipse cx="160.61" cy="418.82" rx="1.37" ry="1.26" fill="#3f6e48" transform="rotate(0 160.61 418.82)"/><ellipse cx="162.98" cy="419.38" rx="1.92" ry="2.53" fill="#3f6e48" transform="rotate(-34 162.98 419.38)"/><ellipse cx="157.44" cy="419.89" rx="1.91" ry="1.96" fill="#3f6e48" transform="rotate(-10 157.44 419.89)"/><ellipse cx="161.61" cy="420.07" rx="1.56" ry="2.22" fill="#7fa57c" transform="rotate(-26 161.61 420.07)"/><ellipse cx="159.11" cy="420.51" rx="1.55" ry="1.43" fill="#3f6e48" transform="rotate(13 159.11 420.51)"/><ellipse cx="161.68" cy="421.18" rx="1.57" ry="1.51" fill="#3f6e48" transform="rotate(39 161.68 421.18)"/><ellipse cx="159.53" cy="421.98" rx="1.17" ry="1.71" fill="#3f6e48" transform="rotate(-13 159.53 421.98)"/><ellipse cx="164.45" cy="422.05" rx="1.82" ry="2.17" fill="#3f6e48" transform="rotate(-8 164.45 422.05)"/><ellipse cx="157.90" cy="423.03" rx="1.16" ry="1.32" fill="#3a6642" transform="rotate(24 157.90 423.03)"/><ellipse cx="163.66" cy="423.23" rx="1.23" ry="1.10" fill="#3a6642" transform="rotate(18 163.66 423.23)"/><ellipse cx="159.09" cy="423.77" rx="1.34" ry="1.50" fill="#7fa57c" transform="rotate(16 159.09 423.77)"/><ellipse cx="159.22" cy="412.28" rx="0.56" ry="1.06" fill="#eef2ec" opacity="0.85"/><ellipse cx="157.69" cy="406.47" rx="0.56" ry="1.06" fill="#eef2ec" opacity="0.85"/><ellipse cx="160.48" cy="408.87" rx="0.56" ry="1.06" fill="#eef2ec" opacity="0.85"/><ellipse cx="158.71" cy="419.20" rx="0.56" ry="1.06" fill="#eef2ec" opacity="0.85"/><ellipse cx="161.85" cy="414.13" rx="0.56" ry="1.06" fill="#eef2ec" opacity="0.85"/></g><g><path d="M198.08,401.36 L198.28,428.65" stroke="#5d7d5a" stroke-width="0.94"/><path d="M200.58,409.38 L200.83,427.37" stroke="#5d7d5a" stroke-width="0.62"/><ellipse cx="200.21" cy="397.03" rx="0.82" ry="0.70" fill="#3f6e48" transform="rotate(14 200.21 397.03)"/><ellipse cx="197.92" cy="397.27" rx="0.80" ry="0.79" fill="#3f6e48" transform="rotate(39 197.92 397.27)"/><ellipse cx="198.63" cy="397.84" rx="0.61" ry="0.80" fill="#3f6e48" transform="rotate(25 198.63 397.84)"/><ellipse cx="197.56" cy="398.46" rx="1.06" ry="1.00" fill="#3f6e48" transform="rotate(7 197.56 398.46)"/><ellipse cx="200.20" cy="399.01" rx="1.29" ry="1.36" fill="#3a6642" transform="rotate(7 200.20 399.01)"/><ellipse cx="197.75" cy="399.71" rx="1.45" ry="1.74" fill="#3a6642" transform="rotate(-18 197.75 399.71)"/><ellipse cx="200.41" cy="400.10" rx="1.17" ry="1.46" fill="#3f6e48" transform="rotate(-18 200.41 400.10)"/><ellipse cx="196.40" cy="400.54" rx="1.27" ry="1.53" fill="#3f6e48" transform="rotate(14 196.40 400.54)"/><ellipse cx="199.49" cy="400.80" rx="1.34" ry="1.84" fill="#3f6e48" transform="rotate(7 199.49 400.80)"/><ellipse cx="196.65" cy="401.79" rx="1.69" ry="1.89" fill="#3f6e48" transform="rotate(-21 196.65 401.79)"/><ellipse cx="201.39" cy="401.90" rx="1.56" ry="2.15" fill="#3f6e48" transform="rotate(29 201.39 401.90)"/><ellipse cx="195.80" cy="402.45" rx="1.11" ry="1.18" fill="#3f6e48" transform="rotate(-36 195.80 402.45)"/><ellipse cx="200.17" cy="402.94" rx="1.08" ry="1.47" fill="#3a6642" transform="rotate(-12 200.17 402.94)"/><ellipse cx="194.73" cy="403.86" rx="1.61" ry="2.40" fill="#3a6642" transform="rotate(4 194.73 403.86)"/><ellipse cx="201.79" cy="403.98" rx="1.57" ry="1.30" fill="#3f6e48" transform="rotate(30 201.79 403.98)"/><ellipse cx="194.64" cy="404.60" rx="2.06" ry="1.96" fill="#3f6e48" transform="rotate(27 194.64 404.60)"/><ellipse cx="201.60" cy="405.37" rx="1.75" ry="1.69" fill="#3f6e48" transform="rotate(-19 201.60 405.37)"/><ellipse cx="196.58" cy="406.04" rx="1.58" ry="2.25" fill="#3a6642" transform="rotate(38 196.58 406.04)"/><ellipse cx="200.46" cy="406.45" rx="1.97" ry="2.72" fill="#3a6642" transform="rotate(-10 200.46 406.45)"/><ellipse cx="196.61" cy="406.91" rx="1.59" ry="2.23" fill="#3f6e48" transform="rotate(-34 196.61 406.91)"/><ellipse cx="199.09" cy="407.59" rx="1.97" ry="2.04" fill="#3f6e48" transform="rotate(15 199.09 407.59)"/><ellipse cx="194.04" cy="407.81" rx="1.39" ry="1.66" fill="#3f6e48" transform="rotate(-10 194.04 407.81)"/><ellipse cx="203.23" cy="408.68" rx="2.21" ry="3.30" fill="#3f6e48" transform="rotate(3 203.23 408.68)"/><ellipse cx="194.74" cy="408.94" rx="1.50" ry="2.11" fill="#3f6e48" transform="rotate(-37 194.74 408.94)"/><ellipse cx="200.79" cy="409.36" rx="1.82" ry="1.56" fill="#3a6642" transform="rotate(21 200.79 409.36)"/><ellipse cx="193.65" cy="410.12" rx="2.17" ry="2.01" fill="#3f6e48" transform="rotate(-7 193.65 410.12)"/><ellipse cx="199.01" cy="410.81" rx="2.36" ry="3.31" fill="#3f6e48" transform="rotate(-38 199.01 410.81)"/><ellipse cx="195.55" cy="411.22" rx="1.70" ry="1.74" fill="#3f6e48" transform="rotate(-2 195.55 411.22)"/><ellipse cx="203.23" cy="411.54" rx="1.56" ry="1.29" fill="#7fa57c" transform="rotate(21 203.23 411.54)"/><ellipse cx="194.17" cy="412.33" rx="1.98" ry="2.54" fill="#3f6e48" transform="rotate(-7 194.17 412.33)"/><ellipse cx="199.30" cy="412.98" rx="1.78" ry="2.19" fill="#7fa57c" transform="rotate(-5 199.30 412.98)"/><ellipse cx="196.39" cy="413.29" rx="2.31" ry="2.27" fill="#7fa57c" transform="rotate(-9 196.39 413.29)"/><ellipse cx="201.34" cy="413.92" rx="1.86" ry="2.02" fill="#3f6e48" transform="rotate(-15 201.34 413.92)"/><ellipse cx="197.86" cy="414.24" rx="2.25" ry="1.95" fill="#3a6642" transform="rotate(10 197.86 414.24)"/><ellipse cx="200.31" cy="414.90" rx="2.38" ry="2.95" fill="#3a6642" transform="rotate(37 200.31 414.90)"/><ellipse cx="193.93" cy="415.20" rx="2.28" ry="2.12" fill="#3f6e48" transform="rotate(38 193.93 415.20)"/><ellipse cx="202.91" cy="416.00" rx="1.58" ry="2.26" fill="#3f6e48" transform="rotate(-34 202.91 416.00)"/><ellipse cx="195.84" cy="416.61" rx="1.86" ry="1.91" fill="#3f6e48" transform="rotate(-29 195.84 416.61)"/><ellipse cx="199.54" cy="416.79" rx="2.22" ry="3.32" fill="#3a6642" transform="rotate(-12 199.54 416.79)"/><ellipse cx="194.81" cy="417.51" rx="1.64" ry="1.72" fill="#3a6642" transform="rotate(31 194.81 417.51)"/><ellipse cx="199.90" cy="418.25" rx="2.01" ry="2.99" fill="#7fa57c" transform="rotate(-24 199.90 418.25)"/><ellipse cx="194.47" cy="418.48" rx="1.44" ry="2.09" fill="#3f6e48" transform="rotate(4 194.47 418.48)"/><ellipse cx="201.63" cy="419.21" rx="1.59" ry="1.51" fill="#3f6e48" transform="rotate(-33 201.63 419.21)"/><ellipse cx="195.64" cy="419.38" rx="1.52" ry="1.39" fill="#7fa57c" transform="rotate(6 195.64 419.38)"/><ellipse cx="199.79" cy="420.02" rx="1.63" ry="1.82" fill="#3f6e48" transform="rotate(7 199.79 420.02)"/><ellipse cx="195.03" cy="420.72" rx="1.45" ry="1.79" fill="#3f6e48" transform="rotate(37 195.03 420.72)"/><ellipse cx="197.88" cy="405.74" rx="0.56" ry="1.06" fill="#eef2ec" opacity="0.85"/><ellipse cx="200.38" cy="405.89" rx="0.56" ry="1.06" fill="#eef2ec" opacity="0.85"/><ellipse cx="198.00" cy="419.40" rx="0.56" ry="1.06" fill="#eef2ec" opacity="0.85"/><ellipse cx="199.36" cy="402.69" rx="0.56" ry="1.06" fill="#eef2ec" opacity="0.85"/><ellipse cx="200.11" cy="406.99" rx="0.56" ry="1.06" fill="#eef2ec" opacity="0.85"/></g>
<text x="45.70" y="519.50" font-size="11.6">Lungenkraut-buchenwald</text><text x="45.70" y="533.50" font-size="11.6">- Central Alpen</text>
<g transform="translate(172.60,476.25) scale(0.15408)"><path d="M35,218 H480 V152 H432 V40 H680 V152 H632 V218 H680 V275 Q520,396 370,465 H35 Z" fill="#fff" stroke="none"/><rect x="35" y="218" width="98" height="100" fill="#d3cd84"/><rect x="35" y="368" width="48" height="97" fill="#d3cd84"/><path d="M35,218 H480 V152 H432 V40 H680 V152 H632 V218 H680 V275 Q520,396 370,465 H35 Z M35,318 H133 V218 M185,218 V318 H230 V218 M283,218 V318 H328 V218 M382,218 V318 H430 V218 M480,270 H528 V318 H480 Z M580,322 V270 H628 V295 H655 M35,368 H83 V465 M133,465 V368 H182 V465 M133,415 H182 M237,465 V368 H283 V465 M237,415 H283 M335,465 V368 H382 V458 M335,415 H382 M432,432 V368 H480 V398 M485,40 V130 H527 V40 M583,40 V130 H627 V40 M528,218 V152 H580 V218 M480,218 H632" fill="none" stroke="#111" stroke-width="4.80" stroke-linejoin="miter"/><path d="M662,282 Q512,392 392,450" fill="none" stroke="#222" stroke-width="7" stroke-dasharray="4 22"/></g>
<polygon points="303.25,400.75 442.00,329.25 442.40,380.80 303.25,461.00" fill="#fefefe"/>
<polygon points="303.25,402.16 442.01,330.45 442.05,335.61 303.25,408.18" fill="url(#wg5)"/>
<line x1="303.25" y1="401.35" x2="442.00" y2="329.77" stroke="#e3ddd4" stroke-width="2.33"/>
<line x1="303.25" y1="403.56" x2="442.02" y2="331.66" stroke="#eeeae4" stroke-width="1.02"/>
<line x1="303.25" y1="406.07" x2="442.04" y2="333.80" stroke="#d5cfc6" stroke-width="2.52" stroke-dasharray="1 4.6"/>
<line x1="303.25" y1="411.39" x2="442.07" y2="338.36" stroke="#e3ddd4" stroke-width="2.33"/>
<line x1="303.25" y1="413.60" x2="442.09" y2="340.25" stroke="#eeeae4" stroke-width="1.02"/>
<line x1="303.25" y1="416.11" x2="442.10" y2="342.40" stroke="#d5cfc6" stroke-width="2.52" stroke-dasharray="1 4.6"/>
<polygon points="303.25,422.24 442.14,347.64 442.18,352.79 303.25,428.26" fill="url(#wg5)"/>
<line x1="303.25" y1="421.44" x2="442.14" y2="346.95" stroke="#e3ddd4" stroke-width="2.33"/>
<line x1="303.25" y1="423.64" x2="442.15" y2="348.84" stroke="#eeeae4" stroke-width="1.02"/>
<line x1="303.25" y1="426.16" x2="442.17" y2="350.99" stroke="#d5cfc6" stroke-width="2.52" stroke-dasharray="1 4.6"/>
<line x1="303.25" y1="431.48" x2="442.20" y2="355.54" stroke="#e3ddd4" stroke-width="2.33"/>
<line x1="303.25" y1="433.69" x2="442.22" y2="357.43" stroke="#eeeae4" stroke-width="1.02"/>
<line x1="303.25" y1="436.20" x2="442.24" y2="359.58" stroke="#d5cfc6" stroke-width="2.52" stroke-dasharray="1 4.6"/>
<polygon points="303.25,442.32 442.28,364.82 442.32,369.97 303.25,448.35" fill="url(#wg5)"/>
<line x1="303.25" y1="441.52" x2="442.27" y2="364.13" stroke="#e3ddd4" stroke-width="2.33"/>
<line x1="303.25" y1="443.73" x2="442.29" y2="366.02" stroke="#eeeae4" stroke-width="1.02"/>
<line x1="303.25" y1="446.24" x2="442.30" y2="368.17" stroke="#d5cfc6" stroke-width="2.52" stroke-dasharray="1 4.6"/>
<line x1="303.25" y1="451.56" x2="442.34" y2="372.72" stroke="#e3ddd4" stroke-width="2.33"/>
<line x1="303.25" y1="453.77" x2="442.35" y2="374.61" stroke="#eeeae4" stroke-width="1.02"/>
<line x1="303.25" y1="456.28" x2="442.37" y2="376.76" stroke="#d5cfc6" stroke-width="2.52" stroke-dasharray="1 4.6"/><polygon points="442.00,329.25 499.40,358.00 499.40,413.30 442.40,380.80" fill="#fefefe"/>
<line x1="442.00" y1="329.77" x2="499.40" y2="358.55" stroke="#e3ddd4" stroke-width="2.23"/>
<line x1="442.02" y1="331.66" x2="499.40" y2="360.58" stroke="#eeeae4" stroke-width="0.98"/>
<line x1="442.04" y1="333.80" x2="499.40" y2="362.88" stroke="#d5cfc6" stroke-width="2.40" stroke-dasharray="1 4.9"/>
<line x1="442.07" y1="338.36" x2="499.40" y2="367.77" stroke="#e3ddd4" stroke-width="2.23"/>
<line x1="442.09" y1="340.25" x2="499.40" y2="369.80" stroke="#eeeae4" stroke-width="0.98"/>
<line x1="442.10" y1="342.40" x2="499.40" y2="372.10" stroke="#d5cfc6" stroke-width="2.40" stroke-dasharray="1 4.9"/>
<line x1="442.14" y1="346.95" x2="499.40" y2="376.99" stroke="#e3ddd4" stroke-width="2.23"/>
<line x1="442.15" y1="348.84" x2="499.40" y2="379.01" stroke="#eeeae4" stroke-width="0.98"/>
<line x1="442.17" y1="350.99" x2="499.40" y2="381.32" stroke="#d5cfc6" stroke-width="2.40" stroke-dasharray="1 4.9"/>
<line x1="442.20" y1="355.54" x2="499.40" y2="386.20" stroke="#e3ddd4" stroke-width="2.23"/>
<line x1="442.22" y1="357.43" x2="499.40" y2="388.23" stroke="#eeeae4" stroke-width="0.98"/>
<line x1="442.24" y1="359.58" x2="499.40" y2="390.53" stroke="#d5cfc6" stroke-width="2.40" stroke-dasharray="1 4.9"/>
<line x1="442.27" y1="364.13" x2="499.40" y2="395.42" stroke="#e3ddd4" stroke-width="2.23"/>
<line x1="442.29" y1="366.02" x2="499.40" y2="397.45" stroke="#eeeae4" stroke-width="0.98"/>
<line x1="442.30" y1="368.17" x2="499.40" y2="399.75" stroke="#d5cfc6" stroke-width="2.40" stroke-dasharray="1 4.9"/>
<line x1="442.34" y1="372.72" x2="499.40" y2="404.64" stroke="#e3ddd4" stroke-width="2.23"/>
<line x1="442.35" y1="374.61" x2="499.40" y2="406.66" stroke="#eeeae4" stroke-width="0.98"/>
<line x1="442.37" y1="376.76" x2="499.40" y2="408.97" stroke="#d5cfc6" stroke-width="2.40" stroke-dasharray="1 4.9"/>
<polygon points="442.40,380.80 498.90,414.10 360.30,495.60 302.80,462.00" fill="#e3e3e3"/>
<polyline points="302.80,462.00 360.30,495.60 498.90,414.10" fill="none" stroke="#b5b5b5" stroke-width="0.6"/>
<polyline points="302.80,462.00 442.40,380.80" fill="none" stroke="#c9c4bc" stroke-width="0.6"/>
<polyline points="442.40,380.80 498.90,414.10" fill="none" stroke="#5a5a5a" stroke-width="0.7"/>
<g><path d="M338.46,459.23 C339.74,457.18 338.08,457.37 346.54,455.96 C355.00,454.55 356.35,454.36 363.85,455.00 C371.35,455.64 372.24,456.47 369.04,457.88 C365.83,459.29 363.01,457.82 354.23,459.23 C345.45,460.64 347.95,462.12 342.69,462.12 C337.44,462.12 337.18,461.28 338.46,459.23Z" fill="#f5f5f5"/><path d="M369.23,443.85 C372.44,439.87 372.05,438.59 383.08,435.77 C394.10,432.95 393.85,435.06 402.31,435.38 C410.77,435.71 408.97,434.04 408.46,436.73 C407.95,439.42 405.90,440.13 400.77,443.46 C395.64,446.79 396.73,443.21 393.08,446.73 C389.42,450.26 392.37,450.64 389.81,454.04 C387.24,457.44 387.63,458.53 385.38,456.92 C383.14,455.32 387.05,452.31 383.08,449.23 C379.10,446.15 378.08,449.49 373.46,447.69 C368.85,445.90 366.03,447.82 369.23,443.85Z" fill="#f5f5f5"/><path d="M428.85,405.38 C430.45,402.18 433.46,400.96 436.92,402.12 C440.38,403.27 439.74,404.04 439.23,408.85 C438.72,413.65 438.08,412.24 435.38,416.54 C432.69,420.83 433.97,420.96 431.15,421.73 C428.33,422.50 426.60,422.18 426.92,418.85 C427.24,415.51 431.47,416.22 432.12,411.73 C432.76,407.24 427.24,408.59 428.85,405.38Z" fill="#f5f5f5"/><path d="M442.31,418.46 C444.23,416.22 445.06,416.22 446.92,419.42 C448.78,422.63 449.17,423.78 447.88,428.08 C446.60,432.37 445.32,432.95 443.08,432.31 C440.83,431.67 441.41,430.77 441.15,426.15 C440.90,421.54 440.38,420.71 442.31,418.46Z" fill="#f5f5f5"/><path d="M376.35,461.73 C377.63,459.68 379.87,459.10 382.12,460.38 C384.36,461.67 384.36,463.53 383.08,465.58 C381.79,467.63 380.51,467.82 378.27,466.54 C376.03,465.26 375.06,463.78 376.35,461.73Z" fill="#f5f5f5"/><path d="M390.38,425.58 C392.31,423.53 393.53,422.76 400.38,423.27 C407.24,423.78 405.06,425.51 410.96,427.12 C416.86,428.72 417.63,426.03 418.08,428.08 C418.53,430.13 417.56,431.86 412.31,433.27 C407.05,434.68 408.21,433.59 402.31,432.31 C396.41,431.03 398.59,431.67 394.62,429.42 C390.64,427.18 388.46,427.63 390.38,425.58Z" fill="#a8c896"/><path d="M411.54,438.08 C413.59,434.42 412.44,433.01 417.69,431.92 C422.95,430.83 420.26,434.17 427.31,434.81 C434.36,435.45 431.79,436.09 438.85,433.85 C445.90,431.60 444.81,428.59 448.46,428.08 C452.12,427.56 453.01,428.97 449.81,432.31 C446.60,435.64 446.35,435.51 438.85,438.08 C431.35,440.64 434.36,438.72 427.31,440.00 C420.26,441.28 422.95,440.96 417.69,441.92 C412.44,442.88 413.59,444.17 411.54,442.88 C409.49,441.60 409.49,441.73 411.54,438.08Z" fill="#a8c896"/><path d="M453.85,412.12 C455.13,408.78 456.54,408.65 461.92,406.92 C467.31,405.19 466.35,405.64 470.00,406.92 C473.65,408.21 474.17,407.76 472.88,410.77 C471.60,413.78 471.09,413.91 466.15,415.96 C461.22,418.01 462.18,418.21 458.08,416.92 C453.97,415.64 452.56,415.45 453.85,412.12Z" fill="#a8c896"/><path d="M436.54,405.38 C438.27,400.26 439.87,399.36 442.69,401.15 C445.51,402.95 443.59,405.00 445.00,410.77 C446.41,416.54 448.01,414.81 446.92,418.46 C445.83,422.12 444.87,422.37 441.73,421.73 C438.59,421.09 439.23,421.99 437.50,416.54 C435.77,411.09 434.81,410.51 436.54,405.38Z" fill="#a8c896"/><path d="M360.58,470.77 C361.22,468.08 362.63,466.67 367.69,464.62 C372.76,462.56 371.15,463.97 375.77,464.62 C380.38,465.26 382.31,464.81 381.54,466.54 C380.77,468.27 378.72,467.76 373.46,469.81 C368.21,471.86 370.06,472.37 365.77,472.69 C361.47,473.01 359.94,473.46 360.58,470.77Z" fill="#a8c896"/><path d="M365.38,446.73 C369.68,444.36 372.56,441.86 376.35,443.46 C380.13,445.06 378.97,448.21 376.73,451.54 C374.49,454.87 374.04,453.78 369.62,453.46 C365.19,453.14 364.87,452.82 363.46,450.58 C362.05,448.33 361.09,449.10 365.38,446.73Z" fill="#a8c896"/><path d="M435.00,415.58 C437.24,412.37 437.88,411.73 440.77,413.65 C443.65,415.58 443.01,416.22 443.65,421.35 C444.29,426.47 444.94,426.03 442.69,429.04 C440.45,432.05 439.81,432.31 436.92,430.38 C434.04,428.46 434.68,428.21 434.04,423.27 C433.40,418.33 432.76,418.78 435.00,415.58Z" fill="#5f8b50"/><path d="M373.46,451.15 C374.10,447.18 376.03,445.38 378.27,447.31 C380.51,449.23 380.83,452.95 380.19,456.92 C379.55,460.90 378.59,461.15 376.35,459.23 C374.10,457.31 372.82,455.13 373.46,451.15Z" fill="#86ab74"/><path d="M370.19,431.35 C370.45,428.42 369.51,428.37 373.46,425.19 C377.41,422.01 379.36,421.99 385.00,419.42 C390.64,416.86 390.26,416.09 394.62,415.58 C398.97,415.06 397.14,415.96 401.35,417.50 C405.55,419.04 405.51,421.60 410.38,421.35 C415.26,421.09 415.72,419.77 419.62,416.54 C423.51,413.31 425.00,411.79 425.00,409.23 C425.00,406.67 419.00,409.59 419.62,406.92 C420.23,404.26 423.21,403.08 427.31,399.23 C431.41,395.38 430.38,395.06 435.00,392.50 C439.62,389.94 439.90,389.62 444.62,389.62 C449.33,389.62 449.77,390.71 452.69,392.50 C455.62,394.29 456.71,394.71 455.58,396.35 C454.45,397.99 452.41,398.14 448.46,398.65 C444.51,399.17 444.36,397.60 440.77,398.27 C437.18,398.94 437.56,398.85 435.00,401.15 C432.44,403.46 432.08,402.82 431.15,406.92 C430.23,411.03 433.08,412.59 431.54,416.54 C430.00,420.49 429.08,419.32 425.38,421.73 C421.69,424.14 421.79,424.29 417.69,425.58 C413.59,426.86 414.36,427.15 410.00,426.54 C405.64,425.92 405.96,424.65 401.35,423.27 C396.73,421.88 397.56,420.58 392.69,421.35 C387.82,422.12 387.08,422.82 383.08,426.15 C379.08,429.49 380.51,431.18 377.69,433.85 C374.87,436.51 374.50,436.82 372.50,436.15 C370.50,435.49 369.94,434.27 370.19,431.35Z" fill="#7f7f7f"/><path d="M428.65,395.77 C430.90,393.21 430.77,393.91 435.00,391.54 C439.23,389.17 436.22,389.17 441.35,388.65 C446.47,388.14 445.58,388.53 450.38,390.00 C455.19,391.47 454.10,390.77 455.77,393.08 C457.44,395.38 459.04,395.26 455.38,396.92 C451.73,398.59 450.26,396.92 444.81,398.08 C439.36,399.23 443.59,399.10 439.04,400.38 C434.49,401.67 434.74,402.31 431.15,401.92 C427.56,401.54 429.10,401.28 428.27,399.23 C427.44,397.18 426.41,398.33 428.65,395.77Z" fill="#7f7f7f"/><path d="M346.15,447.69 C347.88,445.96 347.69,445.83 352.31,445.38 C356.92,444.94 356.15,447.63 360.00,446.35 C363.85,445.06 360.51,442.50 363.85,441.54 C367.18,440.58 368.27,441.09 370.00,443.46 C371.73,445.83 371.73,445.64 369.04,448.65 C366.35,451.67 367.50,451.22 361.92,452.50 C356.35,453.78 357.24,453.14 352.31,452.50 C347.37,451.86 349.17,452.18 347.12,450.58 C345.06,448.97 344.42,449.42 346.15,447.69Z" fill="#7f7f7f"/><path d="M338.46,465.00 C340.51,462.44 339.36,462.50 344.62,460.77 C349.87,459.04 347.82,459.49 354.23,459.81 C360.64,460.13 357.44,461.41 363.85,461.73 C370.26,462.05 369.49,459.81 373.46,460.77 C377.44,461.73 378.33,462.56 375.77,464.62 C373.21,466.67 372.95,466.47 365.77,466.92 C358.59,467.37 361.28,465.32 354.23,465.96 C347.18,466.60 349.87,468.01 344.62,468.85 C339.36,469.68 340.51,469.74 338.46,468.46 C336.41,467.18 336.41,467.56 338.46,465.00Z" fill="#7f7f7f"/><path d="M385.58,461.15 C386.99,457.82 387.12,458.97 392.69,455.00 C398.27,451.03 394.62,453.08 402.31,449.23 C410.00,445.38 407.95,446.15 415.77,443.46 C423.59,440.77 421.47,440.51 425.77,441.15 C430.06,441.79 430.06,441.92 428.65,445.38 C427.24,448.85 427.76,447.88 421.54,451.54 C415.32,455.19 417.69,453.14 410.00,456.35 C402.31,459.55 405.64,458.27 398.46,461.15 C391.28,464.04 392.76,465.00 388.46,465.00 C384.17,465.00 384.17,464.49 385.58,461.15Z" fill="#7f7f7f"/><path d="M441.35,417.88 C444.04,414.55 444.04,416.03 450.38,415.58 C456.73,415.13 456.41,415.26 460.38,416.54 C464.36,417.82 464.36,417.05 462.31,419.42 C460.26,421.79 459.49,420.96 454.23,423.65 C448.97,426.35 450.51,426.86 446.54,427.50 C442.56,428.14 444.04,428.78 442.31,425.58 C440.58,422.37 438.65,421.22 441.35,417.88Z" fill="#7f7f7f"/><path d="M429.62,404.04 C430.83,401.03 433.01,401.09 435.96,402.69 C438.91,404.29 438.78,404.36 438.46,408.85 C438.14,413.33 437.56,412.18 435.00,416.15 C432.44,420.13 433.21,420.00 430.77,420.77 C428.33,421.54 427.18,421.47 427.69,418.46 C428.21,415.45 431.67,416.54 432.31,411.73 C432.95,406.92 428.40,407.05 429.62,404.04Z" fill="#f5f5f5"/><path d="M383.65,432.31 C385.38,429.29 386.03,429.49 390.77,429.04 C395.51,428.59 395.19,428.72 397.88,430.96 C400.58,433.21 400.58,432.76 398.85,435.77 C397.12,438.78 397.12,439.23 392.69,440.00 C388.27,440.77 388.59,440.64 385.58,438.08 C382.56,435.51 381.92,435.32 383.65,432.31Z" fill="#a9d9e9"/><path d="M393.27,446.73 C394.23,445.00 396.60,444.23 399.42,444.42 C402.24,444.62 402.69,445.58 401.73,447.31 C400.77,449.04 399.36,449.81 396.54,449.62 C393.72,449.42 392.31,448.46 393.27,446.73Z" fill="#a9d9e9"/><path d="M452.88,397.69 C455.58,395.96 457.18,395.51 460.96,396.35 C464.74,397.18 465.19,397.82 464.23,400.19 C463.27,402.56 461.86,403.01 458.08,403.46 C454.29,403.91 454.62,403.46 452.88,401.54 C451.15,399.62 450.19,399.42 452.88,397.69Z" fill="#a9d9e9"/><path d="M441.35,400.58 C443.08,398.85 445.00,397.95 446.54,399.23 C448.08,400.51 447.69,402.69 445.96,404.42 C444.23,406.15 442.88,405.71 441.35,404.42 C439.81,403.14 439.62,402.31 441.35,400.58Z" fill="#a9d9e9"/></g><g><circle cx="431.36" cy="399.94" r="0.63" fill="#e8392b"/><circle cx="430.88" cy="398.16" r="1.02" fill="#ffffff"/><circle cx="417.88" cy="428.86" r="1.18" fill="#e8392b"/><circle cx="415.71" cy="428.39" r="0.77" fill="#e8392b"/><circle cx="430.99" cy="426.71" r="1.03" fill="#e8392b"/><circle cx="430.73" cy="398.43" r="0.85" fill="#f7d4cf"/><circle cx="420.49" cy="430.79" r="1.19" fill="#ffffff"/><circle cx="428.01" cy="431.41" r="0.64" fill="#222222"/><circle cx="357.80" cy="460.84" r="0.98" fill="#f7d4cf"/><circle cx="429.75" cy="426.68" r="1.16" fill="#f05a45"/><circle cx="430.10" cy="430.58" r="1.05" fill="#222222"/><circle cx="435.13" cy="426.99" r="1.01" fill="#222222"/><circle cx="421.72" cy="429.69" r="0.65" fill="#e8392b"/><circle cx="355.82" cy="460.68" r="0.82" fill="#e8392b"/><circle cx="359.34" cy="461.81" r="0.88" fill="#e8392b"/><circle cx="430.71" cy="424.94" r="1.03" fill="#e8392b"/><circle cx="434.41" cy="399.02" r="0.73" fill="#e8392b"/><circle cx="424.99" cy="428.50" r="0.85" fill="#f7d4cf"/><circle cx="355.68" cy="459.85" r="0.87" fill="#e8392b"/><circle cx="417.94" cy="429.53" r="1.07" fill="#f05a45"/><circle cx="426.44" cy="397.89" r="0.83" fill="#222222"/><circle cx="355.79" cy="460.71" r="0.64" fill="#222222"/><circle cx="431.66" cy="401.67" r="0.68" fill="#222222"/><circle cx="422.30" cy="430.15" r="1.14" fill="#e8392b"/><circle cx="430.02" cy="399.80" r="1.09" fill="#f7d4cf"/><circle cx="358.15" cy="460.30" r="0.89" fill="#ffffff"/><circle cx="425.81" cy="398.86" r="1.11" fill="#ffffff"/><circle cx="432.74" cy="430.13" r="0.68" fill="#e8392b"/><circle cx="423.94" cy="424.86" r="0.97" fill="#ffffff"/><circle cx="358.92" cy="460.91" r="0.89" fill="#e8392b"/><circle cx="428.43" cy="397.63" r="1.19" fill="#222222"/><circle cx="429.26" cy="425.62" r="1.09" fill="#e8392b"/><circle cx="424.00" cy="426.42" r="0.81" fill="#e8392b"/><circle cx="420.48" cy="427.87" r="1.00" fill="#f05a45"/><circle cx="359.80" cy="458.55" r="0.75" fill="#ffffff"/><circle cx="414.84" cy="426.96" r="1.12" fill="#f05a45"/><circle cx="422.75" cy="429.99" r="1.22" fill="#f7d4cf"/><circle cx="422.47" cy="431.47" r="0.92" fill="#e8392b"/><circle cx="416.18" cy="426.20" r="0.79" fill="#e8392b"/><circle cx="430.46" cy="425.42" r="1.07" fill="#e8392b"/><circle cx="357.62" cy="459.92" r="0.73" fill="#ffffff"/><circle cx="358.57" cy="460.74" r="0.64" fill="#e8392b"/><circle cx="424.44" cy="430.55" r="1.01" fill="#e8392b"/><circle cx="362.61" cy="460.67" r="0.93" fill="#f7d4cf"/><circle cx="430.85" cy="426.48" r="0.76" fill="#f05a45"/><circle cx="425.07" cy="400.13" r="1.13" fill="#e8392b"/><circle cx="428.63" cy="426.03" r="0.67" fill="#f7d4cf"/><circle cx="431.43" cy="400.83" r="1.25" fill="#222222"/><circle cx="360.42" cy="459.94" r="0.72" fill="#222222"/><circle cx="432.68" cy="401.37" r="1.19" fill="#e8392b"/><circle cx="363.25" cy="461.76" r="1.24" fill="#f7d4cf"/><circle cx="430.65" cy="397.47" r="1.16" fill="#e8392b"/><circle cx="418.61" cy="430.68" r="0.75" fill="#f7d4cf"/><circle cx="429.96" cy="398.79" r="0.83" fill="#e8392b"/><circle cx="421.65" cy="427.91" r="1.00" fill="#e8392b"/><circle cx="431.20" cy="431.11" r="0.88" fill="#e8392b"/><circle cx="429.65" cy="429.14" r="1.20" fill="#f05a45"/><circle cx="428.81" cy="431.63" r="0.96" fill="#e8392b"/><circle cx="429.18" cy="425.51" r="0.79" fill="#f05a45"/><circle cx="427.18" cy="400.19" r="1.21" fill="#e8392b"/><circle cx="361.65" cy="460.42" r="0.74" fill="#f05a45"/><circle cx="431.93" cy="401.72" r="1.18" fill="#e8392b"/><circle cx="419.96" cy="426.45" r="0.98" fill="#ffffff"/><circle cx="363.68" cy="459.87" r="0.92" fill="#e8392b"/><circle cx="429.90" cy="425.76" r="0.77" fill="#f05a45"/><circle cx="362.28" cy="458.94" r="0.92" fill="#f05a45"/><circle cx="355.27" cy="460.30" r="1.12" fill="#f05a45"/><circle cx="422.22" cy="428.97" r="1.02" fill="#ffffff"/><circle cx="428.33" cy="400.55" r="0.93" fill="#f05a45"/><circle cx="424.07" cy="428.53" r="1.14" fill="#e8392b"/></g><g><circle cx="428.13" cy="428.69" r="0.54" fill="#8a4a2f"/><circle cx="427.30" cy="427.26" r="0.69" fill="#8a4a2f"/><circle cx="433.12" cy="427.33" r="0.46" fill="#6f3f2a"/><circle cx="431.54" cy="429.13" r="0.71" fill="#8a4a2f"/><circle cx="429.20" cy="427.34" r="0.48" fill="#6f3f2a"/><circle cx="430.30" cy="425.98" r="0.76" fill="#6f3f2a"/><circle cx="428.75" cy="428.48" r="0.75" fill="#8a4a2f"/><circle cx="427.08" cy="429.19" r="0.49" fill="#8a4a2f"/><circle cx="431.69" cy="426.25" r="0.45" fill="#8a4a2f"/><circle cx="430.74" cy="427.44" r="0.76" fill="#8a4a2f"/></g><path d="M410.96,388.65 C411.79,388.65 411.53,389.11 412.39,390.48 C413.25,391.84 412.91,391.21 413.82,393.21 C414.73,395.22 414.44,394.70 415.42,397.16 C416.40,399.62 416.37,398.86 417.08,401.42 C417.80,403.97 417.37,403.30 417.80,405.67 C418.23,408.04 418.52,407.13 418.51,409.32 C418.50,411.50 418.58,410.96 417.77,412.96 C416.95,414.97 417.02,414.45 415.80,416.00 C414.57,417.55 415.13,417.22 413.68,418.13 C412.23,419.04 412.56,419.04 410.96,419.04 C409.37,419.04 409.84,419.04 408.36,418.13 C406.89,417.22 407.20,417.55 406.04,416.00 C404.89,414.45 405.29,414.97 404.51,412.96 C403.74,410.96 403.53,411.50 403.45,409.32 C403.38,407.13 403.73,408.04 404.26,405.67 C404.79,403.30 404.59,403.97 405.21,401.42 C405.83,398.86 405.49,399.62 406.33,397.16 C407.18,394.70 407.05,395.22 408.04,393.21 C409.02,391.21 408.75,391.84 409.63,390.48 C410.50,389.11 410.13,388.65 410.96,388.65Z" fill="#34603a"/><path d="M410.96,418.04 L410.96,423.85" stroke="#34603a" stroke-width="1.30"/><path d="M383.65,431.54 C384.54,431.54 384.27,431.97 385.18,433.27 C386.10,434.57 385.73,433.96 386.71,435.87 C387.68,437.77 387.38,437.28 388.43,439.62 C389.47,441.95 389.44,441.23 390.20,443.65 C390.96,446.08 390.51,445.44 390.97,447.69 C391.42,449.94 391.73,449.08 391.72,451.15 C391.71,453.23 391.80,452.71 390.93,454.62 C390.06,456.52 390.14,456.03 388.83,457.50 C387.51,458.97 388.11,458.65 386.56,459.52 C385.01,460.38 385.36,460.38 383.65,460.38 C381.95,460.38 382.45,460.38 380.87,459.52 C379.30,458.65 379.63,458.97 378.40,457.50 C377.16,456.03 377.59,456.52 376.76,454.62 C375.93,452.71 375.71,453.23 375.62,451.15 C375.54,449.08 375.92,449.94 376.49,447.69 C377.05,445.44 376.84,446.08 377.51,443.65 C378.17,441.23 377.80,441.95 378.70,439.62 C379.61,437.28 379.47,437.77 380.53,435.87 C381.58,433.96 381.29,434.57 382.23,433.27 C383.16,431.97 382.77,431.54 383.65,431.54Z" fill="#34603a"/><path d="M383.65,459.38 L383.65,465.00" stroke="#34603a" stroke-width="1.39"/><g><path d="M364.81,425.73 L365.01,450.58" stroke="#5d7d5a" stroke-width="0.82"/><path d="M367.01,433.04 L367.23,449.41" stroke="#5d7d5a" stroke-width="0.55"/><ellipse cx="365.40" cy="421.35" rx="0.48" ry="0.61" fill="#4b7a50" transform="rotate(-26 365.40 421.35)"/><ellipse cx="364.08" cy="422.09" rx="0.50" ry="0.75" fill="#4b7a50" transform="rotate(-33 364.08 422.09)"/><ellipse cx="366.20" cy="422.38" rx="0.66" ry="0.72" fill="#7fa57c" transform="rotate(-29 366.20 422.38)"/><ellipse cx="363.73" cy="422.85" rx="0.94" ry="0.97" fill="#4b7a50" transform="rotate(10 363.73 422.85)"/><ellipse cx="367.39" cy="423.45" rx="0.72" ry="0.69" fill="#4b7a50" transform="rotate(30 367.39 423.45)"/><ellipse cx="365.12" cy="423.79" rx="0.75" ry="0.67" fill="#4b7a50" transform="rotate(8 365.12 423.79)"/><ellipse cx="367.15" cy="424.26" rx="1.22" ry="1.53" fill="#4b7a50" transform="rotate(15 367.15 424.26)"/><ellipse cx="364.69" cy="425.08" rx="1.20" ry="1.15" fill="#4b7a50" transform="rotate(3 364.69 425.08)"/><ellipse cx="366.93" cy="425.35" rx="1.13" ry="1.41" fill="#4b7a50" transform="rotate(-13 366.93 425.35)"/><ellipse cx="362.13" cy="426.16" rx="1.42" ry="1.44" fill="#4b7a50" transform="rotate(39 362.13 426.16)"/><ellipse cx="367.97" cy="426.63" rx="1.11" ry="1.02" fill="#4b7a50" transform="rotate(36 367.97 426.63)"/><ellipse cx="362.09" cy="426.84" rx="1.40" ry="1.40" fill="#4b7a50" transform="rotate(-15 362.09 426.84)"/><ellipse cx="365.93" cy="427.20" rx="1.18" ry="1.28" fill="#4b7a50" transform="rotate(-25 365.93 427.20)"/><ellipse cx="362.18" cy="427.75" rx="1.47" ry="2.16" fill="#4b7a50" transform="rotate(-20 362.18 427.75)"/><ellipse cx="368.37" cy="428.45" rx="1.40" ry="1.61" fill="#3a6642" transform="rotate(-5 368.37 428.45)"/><ellipse cx="361.54" cy="429.01" rx="1.45" ry="1.76" fill="#7fa57c" transform="rotate(22 361.54 429.01)"/><ellipse cx="368.00" cy="429.14" rx="1.64" ry="2.42" fill="#3a6642" transform="rotate(-8 368.00 429.14)"/><ellipse cx="362.18" cy="429.79" rx="1.49" ry="1.44" fill="#4b7a50" transform="rotate(34 362.18 429.79)"/><ellipse cx="365.95" cy="430.18" rx="1.14" ry="1.01" fill="#7fa57c" transform="rotate(-34 365.95 430.18)"/><ellipse cx="361.60" cy="430.97" rx="1.86" ry="2.72" fill="#7fa57c" transform="rotate(-17 361.60 430.97)"/><ellipse cx="367.57" cy="431.27" rx="1.62" ry="2.10" fill="#4b7a50" transform="rotate(-11 367.57 431.27)"/><ellipse cx="362.23" cy="431.74" rx="1.59" ry="2.08" fill="#4b7a50" transform="rotate(-23 362.23 431.74)"/><ellipse cx="367.47" cy="432.15" rx="1.50" ry="1.40" fill="#4b7a50" transform="rotate(8 367.47 432.15)"/><ellipse cx="364.53" cy="432.73" rx="2.01" ry="1.78" fill="#4b7a50" transform="rotate(-22 364.53 432.73)"/><ellipse cx="369.07" cy="433.06" rx="1.39" ry="1.98" fill="#4b7a50" transform="rotate(35 369.07 433.06)"/><ellipse cx="361.85" cy="433.54" rx="1.92" ry="2.65" fill="#4b7a50" transform="rotate(38 361.85 433.54)"/><ellipse cx="366.45" cy="434.30" rx="1.74" ry="1.92" fill="#3a6642" transform="rotate(-14 366.45 434.30)"/><ellipse cx="361.65" cy="434.58" rx="1.59" ry="1.49" fill="#4b7a50" transform="rotate(4 361.65 434.58)"/><ellipse cx="369.47" cy="435.01" rx="1.32" ry="1.26" fill="#7fa57c" transform="rotate(39 369.47 435.01)"/><ellipse cx="361.35" cy="435.69" rx="1.65" ry="2.08" fill="#3a6642" transform="rotate(13 361.35 435.69)"/><ellipse cx="367.36" cy="435.85" rx="1.50" ry="1.70" fill="#4b7a50" transform="rotate(-40 367.36 435.85)"/><ellipse cx="364.06" cy="436.45" rx="1.48" ry="2.10" fill="#4b7a50" transform="rotate(-1 364.06 436.45)"/><ellipse cx="368.61" cy="437.00" rx="1.41" ry="1.73" fill="#3a6642" transform="rotate(29 368.61 437.00)"/><ellipse cx="361.63" cy="437.65" rx="1.81" ry="2.35" fill="#4b7a50" transform="rotate(29 361.63 437.65)"/><ellipse cx="366.54" cy="438.00" rx="1.61" ry="2.34" fill="#4b7a50" transform="rotate(9 366.54 438.00)"/><ellipse cx="364.36" cy="438.44" rx="1.98" ry="2.65" fill="#4b7a50" transform="rotate(33 364.36 438.44)"/><ellipse cx="368.15" cy="438.85" rx="1.18" ry="1.73" fill="#3a6642" transform="rotate(1 368.15 438.85)"/><ellipse cx="364.81" cy="439.35" rx="1.61" ry="1.66" fill="#3a6642" transform="rotate(14 364.81 439.35)"/><ellipse cx="365.44" cy="439.77" rx="1.37" ry="1.14" fill="#4b7a50" transform="rotate(28 365.44 439.77)"/><ellipse cx="363.16" cy="440.60" rx="1.12" ry="1.28" fill="#4b7a50" transform="rotate(-6 363.16 440.60)"/><ellipse cx="367.05" cy="440.90" rx="1.62" ry="2.31" fill="#3a6642" transform="rotate(3 367.05 440.90)"/><ellipse cx="361.58" cy="441.26" rx="1.40" ry="1.48" fill="#7fa57c" transform="rotate(10 361.58 441.26)"/><ellipse cx="366.38" cy="442.07" rx="1.28" ry="1.40" fill="#7fa57c" transform="rotate(17 366.38 442.07)"/><ellipse cx="362.68" cy="442.13" rx="1.32" ry="1.43" fill="#3a6642" transform="rotate(26 362.68 442.13)"/><ellipse cx="366.66" cy="443.04" rx="1.32" ry="1.78" fill="#4b7a50" transform="rotate(-23 366.66 443.04)"/><ellipse cx="364.27" cy="443.50" rx="1.39" ry="1.30" fill="#3a6642" transform="rotate(19 364.27 443.50)"/><ellipse cx="363.98" cy="430.45" rx="0.49" ry="0.94" fill="#eef2ec" opacity="0.85"/><ellipse cx="364.51" cy="441.82" rx="0.49" ry="0.94" fill="#eef2ec" opacity="0.85"/><ellipse cx="363.53" cy="431.77" rx="0.49" ry="0.94" fill="#eef2ec" opacity="0.85"/><ellipse cx="366.15" cy="433.75" rx="0.49" ry="0.94" fill="#eef2ec" opacity="0.85"/><ellipse cx="362.96" cy="432.23" rx="0.49" ry="0.94" fill="#eef2ec" opacity="0.85"/></g><g><path d="M450.38,396.07 L450.58,421.73" stroke="#5d7d5a" stroke-width="0.82"/><path d="M452.58,403.62 L452.80,420.52" stroke="#5d7d5a" stroke-width="0.55"/><ellipse cx="451.11" cy="391.58" rx="0.46" ry="0.66" fill="#4b7a50" transform="rotate(-36 451.11 391.58)"/><ellipse cx="450.04" cy="392.09" rx="0.72" ry="0.84" fill="#7fa57c" transform="rotate(20 450.04 392.09)"/><ellipse cx="450.83" cy="392.72" rx="0.81" ry="0.72" fill="#4b7a50" transform="rotate(-15 450.83 392.72)"/><ellipse cx="448.80" cy="393.45" rx="0.68" ry="0.58" fill="#4b7a50" transform="rotate(27 448.80 393.45)"/><ellipse cx="451.17" cy="393.59" rx="0.61" ry="0.51" fill="#4b7a50" transform="rotate(5 451.17 393.59)"/><ellipse cx="449.69" cy="394.15" rx="1.06" ry="1.22" fill="#4b7a50" transform="rotate(-2 449.69 394.15)"/><ellipse cx="452.38" cy="394.82" rx="1.21" ry="1.47" fill="#4b7a50" transform="rotate(2 452.38 394.82)"/><ellipse cx="448.97" cy="395.07" rx="1.30" ry="1.30" fill="#3a6642" transform="rotate(21 448.97 395.07)"/><ellipse cx="451.35" cy="395.53" rx="0.91" ry="1.35" fill="#7fa57c" transform="rotate(-24 451.35 395.53)"/><ellipse cx="450.67" cy="396.36" rx="1.06" ry="1.14" fill="#4b7a50" transform="rotate(-36 450.67 396.36)"/><ellipse cx="452.44" cy="396.77" rx="1.26" ry="1.29" fill="#4b7a50" transform="rotate(21 452.44 396.77)"/><ellipse cx="447.92" cy="397.50" rx="1.39" ry="1.63" fill="#4b7a50" transform="rotate(-12 447.92 397.50)"/><ellipse cx="452.81" cy="397.72" rx="1.22" ry="1.69" fill="#7fa57c" transform="rotate(-24 452.81 397.72)"/><ellipse cx="447.91" cy="398.32" rx="1.49" ry="1.34" fill="#4b7a50" transform="rotate(-40 447.91 398.32)"/><ellipse cx="451.22" cy="398.77" rx="1.00" ry="1.40" fill="#4b7a50" transform="rotate(0 451.22 398.77)"/><ellipse cx="449.26" cy="399.41" rx="1.23" ry="1.33" fill="#7fa57c" transform="rotate(15 449.26 399.41)"/><ellipse cx="452.21" cy="399.60" rx="1.12" ry="1.45" fill="#7fa57c" transform="rotate(-14 452.21 399.60)"/><ellipse cx="448.13" cy="400.08" rx="1.30" ry="1.66" fill="#4b7a50" transform="rotate(-29 448.13 400.08)"/><ellipse cx="450.96" cy="400.93" rx="1.98" ry="1.84" fill="#4b7a50" transform="rotate(36 450.96 400.93)"/><ellipse cx="448.06" cy="401.38" rx="1.83" ry="1.95" fill="#4b7a50" transform="rotate(0 448.06 401.38)"/><ellipse cx="453.53" cy="401.61" rx="1.28" ry="1.58" fill="#4b7a50" transform="rotate(-37 453.53 401.61)"/><ellipse cx="447.36" cy="402.02" rx="1.39" ry="1.64" fill="#4b7a50" transform="rotate(-30 447.36 402.02)"/><ellipse cx="451.34" cy="402.88" rx="1.39" ry="1.77" fill="#4b7a50" transform="rotate(-31 451.34 402.88)"/><ellipse cx="450.04" cy="403.16" rx="1.41" ry="1.91" fill="#4b7a50" transform="rotate(-38 450.04 403.16)"/><ellipse cx="451.90" cy="404.00" rx="1.51" ry="1.96" fill="#4b7a50" transform="rotate(-17 451.90 404.00)"/><ellipse cx="450.78" cy="404.32" rx="1.88" ry="1.52" fill="#4b7a50" transform="rotate(-37 450.78 404.32)"/><ellipse cx="451.61" cy="404.88" rx="1.29" ry="1.69" fill="#7fa57c" transform="rotate(8 451.61 404.88)"/><ellipse cx="450.59" cy="405.29" rx="1.85" ry="2.62" fill="#4b7a50" transform="rotate(-14 450.59 405.29)"/><ellipse cx="452.16" cy="405.94" rx="1.86" ry="2.47" fill="#3a6642" transform="rotate(-36 452.16 405.94)"/><ellipse cx="446.59" cy="406.17" rx="2.01" ry="1.99" fill="#4b7a50" transform="rotate(33 446.59 406.17)"/><ellipse cx="452.15" cy="406.61" rx="2.13" ry="1.75" fill="#4b7a50" transform="rotate(16 452.15 406.61)"/><ellipse cx="446.61" cy="407.07" rx="1.49" ry="2.19" fill="#3a6642" transform="rotate(-10 446.61 407.07)"/><ellipse cx="452.76" cy="407.50" rx="1.34" ry="1.81" fill="#4b7a50" transform="rotate(-30 452.76 407.50)"/><ellipse cx="450.80" cy="408.30" rx="1.97" ry="2.51" fill="#3a6642" transform="rotate(-4 450.80 408.30)"/><ellipse cx="452.09" cy="408.99" rx="1.65" ry="1.88" fill="#4b7a50" transform="rotate(-38 452.09 408.99)"/><ellipse cx="447.46" cy="409.28" rx="2.02" ry="1.97" fill="#3a6642" transform="rotate(-22 447.46 409.28)"/><ellipse cx="452.25" cy="409.95" rx="1.22" ry="1.27" fill="#4b7a50" transform="rotate(-28 452.25 409.95)"/><ellipse cx="448.41" cy="410.31" rx="1.71" ry="2.05" fill="#4b7a50" transform="rotate(29 448.41 410.31)"/><ellipse cx="451.93" cy="410.78" rx="1.29" ry="1.82" fill="#4b7a50" transform="rotate(13 451.93 410.78)"/><ellipse cx="448.42" cy="411.33" rx="1.65" ry="2.32" fill="#3a6642" transform="rotate(-30 448.42 411.33)"/><ellipse cx="450.88" cy="411.77" rx="1.86" ry="1.74" fill="#3a6642" transform="rotate(-25 450.88 411.77)"/><ellipse cx="447.39" cy="412.30" rx="1.07" ry="1.49" fill="#3a6642" transform="rotate(11 447.39 412.30)"/><ellipse cx="453.72" cy="412.88" rx="1.55" ry="2.14" fill="#4b7a50" transform="rotate(-19 453.72 412.88)"/><ellipse cx="449.40" cy="413.08" rx="1.39" ry="1.49" fill="#4b7a50" transform="rotate(-4 449.40 413.08)"/><ellipse cx="452.29" cy="413.80" rx="1.33" ry="1.95" fill="#4b7a50" transform="rotate(-18 452.29 413.80)"/><ellipse cx="449.97" cy="414.35" rx="0.97" ry="1.28" fill="#7fa57c" transform="rotate(4 449.97 414.35)"/><ellipse cx="453.54" cy="405.06" rx="0.49" ry="0.94" fill="#eef2ec" opacity="0.85"/><ellipse cx="447.91" cy="404.17" rx="0.49" ry="0.94" fill="#eef2ec" opacity="0.85"/><ellipse cx="452.03" cy="413.25" rx="0.49" ry="0.94" fill="#eef2ec" opacity="0.85"/><ellipse cx="450.37" cy="400.83" rx="0.49" ry="0.94" fill="#eef2ec" opacity="0.85"/><ellipse cx="450.36" cy="408.04" rx="0.49" ry="0.94" fill="#eef2ec" opacity="0.85"/></g>
<text x="291.70" y="519.00" font-size="11.6">Waldmeister-Buchenwald</text><text x="291.70" y="532.70" font-size="11.6">- Mittelland und Südalpen</text>
<g transform="translate(425.93,476.44) scale(0.12989)"><path d="M35,218 H480 V152 H432 V40 H680 V152 H632 V218 H680 V275 Q520,396 370,465 H35 Z" fill="#fff" stroke="none"/><rect x="480" y="270" width="48" height="48" fill="#b5b5b5"/><rect x="580" y="270" width="48" height="50" fill="#b5b5b5"/><rect x="432" y="368" width="48" height="52" fill="#b5b5b5"/><path d="M35,218 H480 V152 H432 V40 H680 V152 H632 V218 H680 V275 Q520,396 370,465 H35 Z M35,318 H133 V218 M185,218 V318 H230 V218 M283,218 V318 H328 V218 M382,218 V318 H430 V218 M480,270 H528 V318 H480 Z M580,322 V270 H628 V295 H655 M35,368 H83 V465 M133,465 V368 H182 V465 M133,415 H182 M237,465 V368 H283 V465 M237,415 H283 M335,465 V368 H382 V458 M335,415 H382 M432,432 V368 H480 V398 M485,40 V130 H527 V40 M583,40 V130 H627 V40 M528,218 V152 H580 V218 M480,218 H632" fill="none" stroke="#111" stroke-width="5.69" stroke-linejoin="miter"/><path d="M662,282 Q512,392 392,450" fill="none" stroke="#222" stroke-width="7" stroke-dasharray="4 22"/></g>
<polygon points="532.60,395.40 672.10,325.40 671.30,376.20 532.60,454.10" fill="#fefefe"/>
<polygon points="532.60,396.77 672.08,326.59 672.00,331.67 532.60,402.64" fill="url(#wg6)"/>
<line x1="532.60" y1="395.99" x2="672.09" y2="325.91" stroke="#e3ddd4" stroke-width="2.28"/>
<line x1="532.60" y1="398.14" x2="672.06" y2="327.77" stroke="#eeeae4" stroke-width="1.00"/>
<line x1="532.60" y1="400.59" x2="672.03" y2="329.89" stroke="#d5cfc6" stroke-width="2.46" stroke-dasharray="1 4.6"/>
<line x1="532.60" y1="405.77" x2="671.96" y2="334.37" stroke="#e3ddd4" stroke-width="2.28"/>
<line x1="532.60" y1="407.92" x2="671.93" y2="336.24" stroke="#eeeae4" stroke-width="1.00"/>
<line x1="532.60" y1="410.37" x2="671.90" y2="338.35" stroke="#d5cfc6" stroke-width="2.46" stroke-dasharray="1 4.6"/>
<polygon points="532.60,416.34 671.81,343.52 671.73,348.60 532.60,422.21" fill="url(#wg6)"/>
<line x1="532.60" y1="415.55" x2="671.83" y2="342.84" stroke="#e3ddd4" stroke-width="2.28"/>
<line x1="532.60" y1="417.71" x2="671.80" y2="344.70" stroke="#eeeae4" stroke-width="1.00"/>
<line x1="532.60" y1="420.15" x2="671.76" y2="346.82" stroke="#d5cfc6" stroke-width="2.46" stroke-dasharray="1 4.6"/>
<line x1="532.60" y1="425.34" x2="671.69" y2="351.31" stroke="#e3ddd4" stroke-width="2.28"/>
<line x1="532.60" y1="427.49" x2="671.66" y2="353.17" stroke="#eeeae4" stroke-width="1.00"/>
<line x1="532.60" y1="429.94" x2="671.63" y2="355.29" stroke="#d5cfc6" stroke-width="2.46" stroke-dasharray="1 4.6"/>
<polygon points="532.60,435.90 671.55,360.45 671.47,365.53 532.60,441.77" fill="url(#wg6)"/>
<line x1="532.60" y1="435.12" x2="671.56" y2="359.77" stroke="#e3ddd4" stroke-width="2.28"/>
<line x1="532.60" y1="437.27" x2="671.53" y2="361.64" stroke="#eeeae4" stroke-width="1.00"/>
<line x1="532.60" y1="439.72" x2="671.50" y2="363.75" stroke="#d5cfc6" stroke-width="2.46" stroke-dasharray="1 4.6"/>
<line x1="532.60" y1="444.90" x2="671.43" y2="368.24" stroke="#e3ddd4" stroke-width="2.28"/>
<line x1="532.60" y1="447.06" x2="671.40" y2="370.10" stroke="#eeeae4" stroke-width="1.00"/>
<line x1="532.60" y1="449.50" x2="671.36" y2="372.22" stroke="#d5cfc6" stroke-width="2.46" stroke-dasharray="1 4.6"/><polygon points="672.10,325.40 728.80,353.70 728.10,409.00 671.30,376.20" fill="#fefefe"/>
<line x1="672.09" y1="325.91" x2="728.79" y2="354.25" stroke="#e3ddd4" stroke-width="2.21"/>
<line x1="672.06" y1="327.77" x2="728.77" y2="356.28" stroke="#eeeae4" stroke-width="0.97"/>
<line x1="672.03" y1="329.89" x2="728.74" y2="358.58" stroke="#d5cfc6" stroke-width="2.39" stroke-dasharray="1 4.9"/>
<line x1="671.96" y1="334.37" x2="728.68" y2="363.47" stroke="#e3ddd4" stroke-width="2.21"/>
<line x1="671.93" y1="336.24" x2="728.65" y2="365.50" stroke="#eeeae4" stroke-width="0.97"/>
<line x1="671.90" y1="338.35" x2="728.62" y2="367.80" stroke="#d5cfc6" stroke-width="2.39" stroke-dasharray="1 4.9"/>
<line x1="671.83" y1="342.84" x2="728.56" y2="372.69" stroke="#e3ddd4" stroke-width="2.21"/>
<line x1="671.80" y1="344.70" x2="728.53" y2="374.71" stroke="#eeeae4" stroke-width="0.97"/>
<line x1="671.76" y1="346.82" x2="728.50" y2="377.02" stroke="#d5cfc6" stroke-width="2.39" stroke-dasharray="1 4.9"/>
<line x1="671.69" y1="351.31" x2="728.44" y2="381.90" stroke="#e3ddd4" stroke-width="2.21"/>
<line x1="671.66" y1="353.17" x2="728.42" y2="383.93" stroke="#eeeae4" stroke-width="0.97"/>
<line x1="671.63" y1="355.29" x2="728.39" y2="386.23" stroke="#d5cfc6" stroke-width="2.39" stroke-dasharray="1 4.9"/>
<line x1="671.56" y1="359.77" x2="728.33" y2="391.12" stroke="#e3ddd4" stroke-width="2.21"/>
<line x1="671.53" y1="361.64" x2="728.30" y2="393.15" stroke="#eeeae4" stroke-width="0.97"/>
<line x1="671.50" y1="363.75" x2="728.27" y2="395.45" stroke="#d5cfc6" stroke-width="2.39" stroke-dasharray="1 4.9"/>
<line x1="671.43" y1="368.24" x2="728.21" y2="400.34" stroke="#e3ddd4" stroke-width="2.21"/>
<line x1="671.40" y1="370.10" x2="728.18" y2="402.36" stroke="#eeeae4" stroke-width="0.97"/>
<line x1="671.36" y1="372.22" x2="728.15" y2="404.67" stroke="#d5cfc6" stroke-width="2.39" stroke-dasharray="1 4.9"/>
<polyline points="531.70,454.10 671.30,376.20 728.10,409.00" fill="none" stroke="#e9cdb8" stroke-width="1.5"/>
<path d="M669.8,377V422M671.6,377V423M673.4,377V422" stroke="#ecd3c0" stroke-width="0.6" fill="none"/>
<path d="M730.6,409V453.5" stroke="#ecd3c0" stroke-width="0.9" fill="none"/>
<polyline points="650.80,433.20 671.30,422.30 727.70,453.70 667.40,488.80" fill="none" stroke="#3a3a3a" stroke-width="0.55"/>
<polygon points="531.00,453.80 609.70,411.00 667.80,444.90 591.40,490.10" fill="#e1e1e1"/>
<polyline points="609.70,411.00 667.80,444.90 591.40,490.10 531.00,453.80" fill="none" stroke="#3a3a3a" stroke-width="0.65"/>
<path d="M667.4,444.9V488.8" stroke="#3a3a3a" stroke-width="0.65"/>
<path d="M617,409.5V414.5" stroke="#999" stroke-width="0.9"/>
<g><path d="M561.33,458.32 C563.04,456.09 565.27,454.29 569.31,452.92 C573.34,451.54 572.99,452.40 573.42,454.20 C573.85,456.00 573.68,456.52 570.59,458.32 C567.50,460.12 567.25,459.61 564.16,459.61 C561.07,459.61 559.61,460.55 561.33,458.32Z" fill="#c8cb8f"/><path d="M605.08,460.89 C605.51,456.09 605.68,453.86 607.92,449.05 C610.15,444.25 607.92,447.77 611.78,446.48 C615.64,445.19 614.78,447.34 619.50,445.19 C624.22,443.05 622.42,440.47 625.93,440.05 C629.45,439.62 629.54,440.82 630.05,443.91 C630.57,446.99 631.00,445.79 627.48,449.31 C623.96,452.83 625.16,451.46 619.50,454.46 C613.84,457.46 614.78,455.32 610.49,458.32 C606.20,461.32 608.43,462.61 606.63,463.47 C604.83,464.33 604.65,465.70 605.08,460.89Z" fill="#c8cb8f"/><path d="M605.08,436.44 C606.37,432.71 607.74,430.05 610.49,429.11 C613.23,428.16 613.23,429.88 613.32,433.61 C613.41,437.34 612.98,438.07 610.75,440.30 C608.52,442.53 608.52,441.59 606.63,440.30 C604.74,439.02 603.80,440.17 605.08,436.44Z" fill="#c8cb8f"/><path d="M608.30,427.43 C608.22,424.13 609.67,422.33 611.78,422.67 C613.88,423.01 614.52,425.16 614.61,428.46 C614.69,431.77 614.14,432.92 612.03,432.58 C609.93,432.24 608.39,430.74 608.30,427.43Z" fill="#f5f5f5"/><path d="M593.50,455.75 C595.65,453.09 597.88,451.71 601.48,451.63 C605.08,451.54 604.23,452.40 604.31,455.49 C604.40,458.58 604.83,459.52 601.74,460.89 C598.65,462.27 597.79,461.32 595.05,459.61 C592.30,457.89 591.36,458.41 593.50,455.75Z" fill="#f5f5f5"/><path d="M569.05,459.61 C570.33,456.09 572.14,455.15 575.74,454.20 C579.34,453.26 578.91,454.12 579.86,456.78 C580.80,459.44 581.23,459.52 578.57,462.18 C575.91,464.84 575.05,465.61 571.88,464.76 C568.70,463.90 567.76,463.13 569.05,459.61Z" fill="#f5f5f5"/><path d="M627.22,433.61 C628.29,431.47 630.22,431.04 632.37,432.32 C634.51,433.61 634.73,435.33 633.66,437.47 C632.58,439.62 631.30,440.05 629.15,438.76 C627.01,437.47 626.15,435.76 627.22,433.61Z" fill="#ececec"/><path d="M587.07,443.91 C588.35,441.68 588.01,442.36 591.18,442.36 C594.36,442.36 594.96,441.46 596.59,443.91 C598.22,446.35 597.88,447.34 596.07,449.70 C594.27,452.06 594.10,451.20 591.18,450.98 C588.27,450.77 588.70,451.41 587.32,449.05 C585.95,446.69 585.78,446.14 587.07,443.91Z" fill="#b9c97a"/><path d="M608.30,451.63 C608.94,449.74 609.67,449.87 611.78,450.08 C613.88,450.30 613.96,450.47 614.61,452.27 C615.25,454.07 615.29,454.33 613.71,455.49 C612.12,456.65 611.65,457.03 609.85,455.75 C608.04,454.46 607.66,453.52 608.30,451.63Z" fill="#5f7345"/><path d="M616.67,439.02 C617.95,437.34 619.54,436.78 620.79,438.50 C622.03,440.22 621.69,442.49 620.40,444.16 C619.11,445.84 618.17,445.24 616.92,443.52 C615.68,441.80 615.38,440.69 616.67,439.02Z" fill="#a5a5a5"/><path d="M569.69,460.89 C570.76,459.22 572.14,458.66 573.81,460.38 C575.48,462.10 575.78,464.37 574.71,466.04 C573.64,467.72 572.27,467.11 570.59,465.40 C568.92,463.68 568.62,462.57 569.69,460.89Z" fill="#b5b5b5"/></g><g><circle cx="598.67" cy="440.32" r="0.77" fill="#f2a3c2"/><circle cx="580.28" cy="459.34" r="0.46" fill="#f4b0cb"/><circle cx="599.40" cy="438.75" r="0.99" fill="#f6bdd2"/><circle cx="584.35" cy="461.48" r="0.77" fill="#f4b0cb"/><circle cx="593.58" cy="437.43" r="0.91" fill="#ffffff"/><circle cx="597.20" cy="435.49" r="0.76" fill="#f6bdd2"/><circle cx="600.84" cy="439.61" r="0.48" fill="#f6bdd2"/><circle cx="593.50" cy="436.70" r="0.69" fill="#f6bdd2"/><circle cx="593.15" cy="460.71" r="0.82" fill="#ee8fb6"/><circle cx="595.22" cy="436.44" r="0.58" fill="#f2a3c2"/><circle cx="605.44" cy="440.52" r="0.68" fill="#f2a3c2"/><circle cx="576.73" cy="459.25" r="0.71" fill="#ec86b2"/><circle cx="600.75" cy="435.70" r="0.93" fill="#ec86b2"/><circle cx="593.55" cy="461.65" r="0.94" fill="#f6bdd2"/><circle cx="597.65" cy="437.67" r="0.68" fill="#fbe4ec"/><circle cx="591.90" cy="459.62" r="0.65" fill="#f2a3c2"/><circle cx="596.96" cy="435.38" r="0.98" fill="#ee8fb6"/><circle cx="599.92" cy="441.86" r="0.66" fill="#ffffff"/><circle cx="589.75" cy="457.62" r="0.86" fill="#ffffff"/><circle cx="587.67" cy="461.26" r="0.57" fill="#e466a0"/><circle cx="598.74" cy="442.59" r="0.76" fill="#fbe4ec"/><circle cx="596.36" cy="440.38" r="0.85" fill="#ec86b2"/><circle cx="577.78" cy="460.89" r="0.75" fill="#f9d6e2"/><circle cx="606.04" cy="438.09" r="0.47" fill="#e779ab"/><circle cx="594.84" cy="459.07" r="0.74" fill="#fbe4ec"/><circle cx="577.53" cy="461.67" r="0.47" fill="#ee8fb6"/><circle cx="584.93" cy="458.60" r="0.96" fill="#f2a3c2"/><circle cx="585.17" cy="461.17" r="0.79" fill="#f2a3c2"/><circle cx="590.61" cy="458.75" r="0.68" fill="#f4b0cb"/><circle cx="590.56" cy="438.95" r="0.73" fill="#ee8fb6"/><circle cx="587.18" cy="461.36" r="0.61" fill="#d6607c"/><circle cx="592.05" cy="439.28" r="0.48" fill="#f2a3c2"/><circle cx="584.75" cy="457.35" r="0.87" fill="#e466a0"/><circle cx="580.09" cy="461.18" r="0.77" fill="#e779ab"/><circle cx="601.65" cy="438.92" r="0.73" fill="#f4b0cb"/><circle cx="594.84" cy="436.43" r="0.58" fill="#e466a0"/><circle cx="580.80" cy="458.33" r="0.85" fill="#fbe4ec"/><circle cx="600.63" cy="441.34" r="0.73" fill="#f4b0cb"/><circle cx="603.91" cy="439.86" r="0.55" fill="#e466a0"/><circle cx="591.03" cy="439.08" r="0.46" fill="#d6607c"/><circle cx="595.74" cy="442.02" r="0.91" fill="#fbe4ec"/><circle cx="582.09" cy="457.55" r="0.73" fill="#e779ab"/><circle cx="602.96" cy="439.81" r="0.93" fill="#f6bdd2"/><circle cx="599.61" cy="439.73" r="0.62" fill="#e466a0"/><circle cx="582.82" cy="462.71" r="0.48" fill="#f9d6e2"/><circle cx="601.68" cy="435.62" r="0.94" fill="#ee8fb6"/><circle cx="592.27" cy="459.61" r="0.64" fill="#ffffff"/><circle cx="602.91" cy="437.19" r="0.87" fill="#fbe4ec"/><circle cx="594.54" cy="436.11" r="0.74" fill="#f4b0cb"/><circle cx="595.43" cy="435.33" r="0.89" fill="#f9d6e2"/><circle cx="597.95" cy="439.64" r="0.63" fill="#ec86b2"/><circle cx="602.31" cy="437.83" r="0.50" fill="#ffffff"/><circle cx="592.72" cy="459.94" r="0.93" fill="#f2a3c2"/><circle cx="585.38" cy="458.06" r="0.66" fill="#f9d6e2"/><circle cx="579.46" cy="458.45" r="0.81" fill="#f2a3c2"/><circle cx="599.60" cy="440.77" r="0.46" fill="#e779ab"/><circle cx="596.07" cy="436.19" r="0.98" fill="#fbe4ec"/><circle cx="578.87" cy="457.78" r="0.80" fill="#ee8fb6"/><circle cx="605.13" cy="440.56" r="0.90" fill="#ee8fb6"/><circle cx="596.13" cy="459.50" r="0.50" fill="#e466a0"/><circle cx="585.04" cy="463.12" r="0.60" fill="#f2a3c2"/><circle cx="593.42" cy="436.70" r="0.96" fill="#ee8fb6"/><circle cx="588.87" cy="456.94" r="0.66" fill="#f2a3c2"/><circle cx="592.64" cy="441.50" r="0.94" fill="#ee8fb6"/><circle cx="577.63" cy="459.81" r="0.56" fill="#ffffff"/><circle cx="580.25" cy="457.83" r="0.72" fill="#d6607c"/><circle cx="594.95" cy="438.53" r="0.50" fill="#ec86b2"/><circle cx="585.54" cy="462.83" r="0.98" fill="#f9d6e2"/><circle cx="601.47" cy="438.62" r="0.77" fill="#e779ab"/><circle cx="589.26" cy="460.42" r="0.88" fill="#ee8fb6"/><circle cx="595.83" cy="461.72" r="0.58" fill="#e779ab"/><circle cx="600.04" cy="438.00" r="0.86" fill="#f6bdd2"/><circle cx="592.32" cy="439.51" r="0.71" fill="#ffffff"/><circle cx="593.82" cy="441.66" r="0.64" fill="#d6607c"/><circle cx="595.30" cy="440.73" r="0.53" fill="#ffffff"/><circle cx="594.01" cy="439.44" r="0.70" fill="#d6607c"/><circle cx="590.20" cy="439.16" r="0.58" fill="#e779ab"/><circle cx="601.70" cy="440.10" r="0.92" fill="#ffffff"/><circle cx="586.87" cy="460.23" r="0.94" fill="#ec86b2"/><circle cx="586.62" cy="457.36" r="0.68" fill="#f4b0cb"/><circle cx="596.49" cy="436.25" r="0.79" fill="#ee8fb6"/><circle cx="594.31" cy="436.55" r="0.46" fill="#ee8fb6"/><circle cx="598.38" cy="441.22" r="0.98" fill="#e779ab"/><circle cx="596.39" cy="435.21" r="0.60" fill="#ffffff"/><circle cx="598.40" cy="435.45" r="0.94" fill="#f9d6e2"/><circle cx="595.47" cy="435.98" r="0.88" fill="#e466a0"/><circle cx="595.46" cy="459.22" r="0.48" fill="#d6607c"/><circle cx="588.32" cy="458.36" r="0.82" fill="#f6bdd2"/><circle cx="591.33" cy="439.87" r="0.89" fill="#f9d6e2"/><circle cx="591.45" cy="460.18" r="0.48" fill="#ffffff"/><circle cx="589.43" cy="457.50" r="0.74" fill="#f4b0cb"/><circle cx="597.39" cy="459.88" r="0.63" fill="#ffffff"/><circle cx="596.65" cy="458.98" r="0.46" fill="#f9d6e2"/><circle cx="592.13" cy="440.77" r="0.52" fill="#d6607c"/><circle cx="578.50" cy="458.07" r="0.99" fill="#fbe4ec"/><circle cx="593.41" cy="440.48" r="0.50" fill="#ee8fb6"/><circle cx="582.01" cy="460.28" r="0.83" fill="#f9d6e2"/><circle cx="596.36" cy="435.11" r="0.87" fill="#f2a3c2"/><circle cx="598.80" cy="437.15" r="0.75" fill="#e466a0"/><circle cx="595.17" cy="441.25" r="0.96" fill="#ffffff"/><circle cx="601.64" cy="437.09" r="0.52" fill="#d6607c"/><circle cx="581.67" cy="460.52" r="1.00" fill="#d6607c"/><circle cx="592.03" cy="439.96" r="0.74" fill="#fbe4ec"/><circle cx="598.18" cy="439.32" r="0.60" fill="#fbe4ec"/><circle cx="583.47" cy="457.60" r="0.79" fill="#d6607c"/><circle cx="597.88" cy="441.78" r="0.70" fill="#f9d6e2"/><circle cx="594.10" cy="459.31" r="0.56" fill="#d6607c"/><circle cx="589.22" cy="461.01" r="0.57" fill="#ec86b2"/><circle cx="583.03" cy="458.65" r="0.57" fill="#fbe4ec"/><circle cx="582.25" cy="460.29" r="0.63" fill="#ec86b2"/><circle cx="588.75" cy="458.33" r="0.97" fill="#f4b0cb"/><circle cx="602.91" cy="440.52" r="0.89" fill="#ec86b2"/><circle cx="595.92" cy="459.70" r="0.83" fill="#f4b0cb"/><circle cx="593.48" cy="458.57" r="0.64" fill="#fbe4ec"/><circle cx="586.20" cy="462.66" r="0.63" fill="#fbe4ec"/><circle cx="593.69" cy="458.19" r="0.49" fill="#e779ab"/><circle cx="601.93" cy="438.73" r="0.88" fill="#e466a0"/><circle cx="591.73" cy="457.54" r="0.90" fill="#f2a3c2"/><circle cx="586.04" cy="461.81" r="0.99" fill="#e779ab"/><circle cx="593.29" cy="458.74" r="0.50" fill="#f4b0cb"/></g><g><circle cx="610.10" cy="445.72" r="0.46" fill="#f2b94f"/><circle cx="602.15" cy="440.45" r="0.41" fill="#e9d96b"/><circle cx="603.96" cy="450.16" r="0.72" fill="#f2b94f"/><circle cx="594.47" cy="447.28" r="0.76" fill="#f8d88f"/><circle cx="606.83" cy="440.14" r="0.53" fill="#f8d88f"/><circle cx="603.15" cy="443.14" r="0.44" fill="#e9d96b"/><circle cx="592.66" cy="441.69" r="0.64" fill="#e9d96b"/><circle cx="595.17" cy="448.50" r="0.66" fill="#f8d88f"/><circle cx="609.25" cy="446.07" r="0.84" fill="#f8d88f"/><circle cx="608.60" cy="442.24" r="0.69" fill="#e9d96b"/><circle cx="598.33" cy="447.34" r="0.72" fill="#f8d88f"/><circle cx="612.93" cy="447.42" r="0.47" fill="#f2b94f"/><circle cx="614.07" cy="444.85" r="0.71" fill="#f2b94f"/><circle cx="603.87" cy="442.15" r="0.76" fill="#f5c66b"/><circle cx="615.14" cy="447.68" r="0.50" fill="#f8d88f"/><circle cx="611.27" cy="441.77" r="0.52" fill="#f2b94f"/><circle cx="596.04" cy="443.95" r="0.80" fill="#e9d96b"/><circle cx="605.48" cy="451.50" r="0.44" fill="#e9d96b"/><circle cx="611.42" cy="448.43" r="0.67" fill="#e9d96b"/><circle cx="594.79" cy="442.70" r="0.84" fill="#f8d88f"/><circle cx="614.75" cy="445.59" r="0.75" fill="#f8d88f"/><circle cx="601.25" cy="447.66" r="0.83" fill="#f5c66b"/><circle cx="601.93" cy="449.73" r="0.63" fill="#f2b94f"/><circle cx="593.60" cy="441.01" r="0.47" fill="#f2b94f"/><circle cx="590.66" cy="443.80" r="0.67" fill="#f5c66b"/><circle cx="609.27" cy="447.70" r="0.51" fill="#f8d88f"/><circle cx="599.14" cy="444.45" r="0.77" fill="#e9d96b"/><circle cx="597.85" cy="444.73" r="0.83" fill="#e9d96b"/><circle cx="591.91" cy="444.33" r="0.82" fill="#f2b94f"/><circle cx="598.36" cy="440.14" r="0.85" fill="#e9d96b"/><circle cx="593.34" cy="446.95" r="0.51" fill="#f5c66b"/><circle cx="613.21" cy="445.82" r="0.40" fill="#f2b94f"/><circle cx="606.19" cy="445.80" r="0.79" fill="#f5c66b"/><circle cx="603.64" cy="450.44" r="0.64" fill="#f2b94f"/><circle cx="610.71" cy="441.90" r="0.75" fill="#f2b94f"/><circle cx="604.38" cy="447.06" r="0.56" fill="#e9d96b"/><circle cx="604.93" cy="444.06" r="0.43" fill="#f5c66b"/><circle cx="604.23" cy="443.17" r="0.49" fill="#f2b94f"/><circle cx="596.18" cy="446.79" r="0.79" fill="#f2b94f"/><circle cx="607.44" cy="439.63" r="0.42" fill="#f5c66b"/><circle cx="609.94" cy="439.76" r="0.47" fill="#f2b94f"/><circle cx="604.79" cy="449.16" r="0.47" fill="#f5c66b"/><circle cx="592.24" cy="449.13" r="0.53" fill="#e9d96b"/><circle cx="601.24" cy="439.54" r="0.47" fill="#e9d96b"/><circle cx="613.33" cy="444.24" r="0.74" fill="#f5c66b"/><circle cx="594.10" cy="442.89" r="0.43" fill="#f2b94f"/><circle cx="604.97" cy="443.84" r="0.70" fill="#f5c66b"/><circle cx="612.51" cy="449.35" r="0.66" fill="#f2b94f"/><circle cx="612.76" cy="447.76" r="0.82" fill="#f8d88f"/><circle cx="601.31" cy="442.12" r="0.46" fill="#e9d96b"/><circle cx="589.61" cy="446.84" r="0.40" fill="#f5c66b"/><circle cx="598.64" cy="444.41" r="0.63" fill="#f2b94f"/><circle cx="600.60" cy="446.56" r="0.57" fill="#f2b94f"/><circle cx="608.73" cy="440.53" r="0.70" fill="#f5c66b"/><circle cx="606.91" cy="444.33" r="0.52" fill="#f2b94f"/></g><g><circle cx="599.55" cy="443.86" r="0.41" fill="#8b7fc0"/><circle cx="603.47" cy="445.40" r="0.45" fill="#6b7fd0"/><circle cx="596.64" cy="443.23" r="0.42" fill="#8b7fc0"/><circle cx="601.61" cy="444.97" r="0.33" fill="#6b7fd0"/><circle cx="595.67" cy="444.59" r="0.47" fill="#8b7fc0"/><circle cx="601.41" cy="444.69" r="0.55" fill="#6b7fd0"/><circle cx="603.04" cy="443.65" r="0.60" fill="#6b7fd0"/><circle cx="597.84" cy="443.27" r="0.33" fill="#6b7fd0"/><circle cx="601.31" cy="442.77" r="0.40" fill="#8b7fc0"/><circle cx="598.50" cy="444.81" r="0.53" fill="#6b7fd0"/><circle cx="597.57" cy="443.91" r="0.50" fill="#6b7fd0"/><circle cx="604.38" cy="444.48" r="0.45" fill="#8b7fc0"/><circle cx="604.38" cy="444.10" r="0.44" fill="#6b7fd0"/><circle cx="600.65" cy="443.41" r="0.56" fill="#6b7fd0"/></g><path d="M597.88,404.65 C598.42,404.65 598.25,405.03 598.81,406.14 C599.37,407.26 599.15,406.74 599.74,408.38 C600.33,410.02 600.15,409.60 600.79,411.61 C601.43,413.62 601.41,413.00 601.87,415.08 C602.34,417.17 602.06,416.62 602.34,418.56 C602.62,420.50 602.81,419.75 602.80,421.54 C602.80,423.33 602.85,422.88 602.32,424.52 C601.79,426.16 601.83,425.74 601.03,427.01 C600.23,428.27 600.60,428.00 599.65,428.75 C598.70,429.49 598.92,429.49 597.88,429.49 C596.84,429.49 597.14,429.49 596.18,428.75 C595.22,428.00 595.42,428.27 594.67,427.01 C593.91,425.74 594.18,426.16 593.67,424.52 C593.16,422.88 593.02,423.33 592.97,421.54 C592.93,419.75 593.16,420.50 593.50,418.56 C593.85,416.62 593.72,417.17 594.12,415.08 C594.53,413.00 594.30,413.62 594.85,411.61 C595.41,409.60 595.32,410.02 595.97,408.38 C596.61,406.74 596.43,407.26 597.00,406.14 C597.58,405.03 597.33,404.65 597.88,404.65Z" fill="#34603a"/><path d="M597.88,428.49 L597.88,437.73" stroke="#34603a" stroke-width="0.85"/><g><path d="M580.24,434.94 L580.44,457.03" stroke="#5d7d5a" stroke-width="1.31"/><path d="M583.74,441.44 L584.09,455.99" stroke="#5d7d5a" stroke-width="0.88"/><ellipse cx="582.05" cy="431.15" rx="0.68" ry="0.94" fill="#3f6e48" transform="rotate(30 582.05 431.15)"/><ellipse cx="578.69" cy="431.64" rx="1.03" ry="1.16" fill="#3a6642" transform="rotate(27 578.69 431.64)"/><ellipse cx="582.78" cy="432.30" rx="1.12" ry="1.67" fill="#3f6e48" transform="rotate(-40 582.78 432.30)"/><ellipse cx="580.84" cy="432.89" rx="1.21" ry="1.37" fill="#3a6642" transform="rotate(-18 580.84 432.89)"/><ellipse cx="582.09" cy="433.12" rx="1.44" ry="1.95" fill="#7fa57c" transform="rotate(-16 582.09 433.12)"/><ellipse cx="580.82" cy="433.80" rx="2.15" ry="1.97" fill="#3f6e48" transform="rotate(-33 580.82 433.80)"/><ellipse cx="584.79" cy="434.39" rx="2.15" ry="2.95" fill="#3f6e48" transform="rotate(-18 584.79 434.39)"/><ellipse cx="576.41" cy="434.66" rx="2.32" ry="2.97" fill="#7fa57c" transform="rotate(-15 576.41 434.66)"/><ellipse cx="582.83" cy="435.34" rx="1.96" ry="2.90" fill="#3a6642" transform="rotate(35 582.83 435.34)"/><ellipse cx="578.61" cy="435.53" rx="1.56" ry="2.09" fill="#3a6642" transform="rotate(15 578.61 435.53)"/><ellipse cx="585.27" cy="436.23" rx="2.75" ry="3.99" fill="#3a6642" transform="rotate(29 585.27 436.23)"/><ellipse cx="576.45" cy="436.36" rx="1.91" ry="2.24" fill="#3f6e48" transform="rotate(-37 576.45 436.36)"/><ellipse cx="584.01" cy="436.95" rx="2.74" ry="3.85" fill="#3f6e48" transform="rotate(-5 584.01 436.95)"/><ellipse cx="576.60" cy="437.38" rx="2.43" ry="2.30" fill="#7fa57c" transform="rotate(-34 576.60 437.38)"/><ellipse cx="582.84" cy="437.91" rx="2.62" ry="2.90" fill="#3f6e48" transform="rotate(5 582.84 437.91)"/><ellipse cx="579.06" cy="438.66" rx="2.45" ry="2.21" fill="#3a6642" transform="rotate(14 579.06 438.66)"/><ellipse cx="582.11" cy="439.14" rx="2.24" ry="3.16" fill="#3a6642" transform="rotate(-20 582.11 439.14)"/><ellipse cx="576.13" cy="439.52" rx="2.66" ry="3.06" fill="#7fa57c" transform="rotate(-4 576.13 439.52)"/><ellipse cx="584.94" cy="439.95" rx="2.51" ry="2.80" fill="#3f6e48" transform="rotate(-5 584.94 439.95)"/><ellipse cx="576.29" cy="440.22" rx="3.35" ry="3.62" fill="#7fa57c" transform="rotate(9 576.29 440.22)"/><ellipse cx="583.71" cy="440.79" rx="3.42" ry="5.06" fill="#3f6e48" transform="rotate(18 583.71 440.79)"/><ellipse cx="575.79" cy="441.31" rx="2.42" ry="2.96" fill="#3f6e48" transform="rotate(-24 575.79 441.31)"/><ellipse cx="587.56" cy="441.78" rx="3.19" ry="3.13" fill="#3f6e48" transform="rotate(31 587.56 441.78)"/><ellipse cx="580.60" cy="442.23" rx="2.36" ry="3.42" fill="#3a6642" transform="rotate(-40 580.60 442.23)"/><ellipse cx="584.11" cy="442.69" rx="2.87" ry="3.76" fill="#7fa57c" transform="rotate(30 584.11 442.69)"/><ellipse cx="575.18" cy="443.10" rx="2.35" ry="3.10" fill="#7fa57c" transform="rotate(35 575.18 443.10)"/><ellipse cx="582.61" cy="443.92" rx="3.10" ry="2.88" fill="#3a6642" transform="rotate(-27 582.61 443.92)"/><ellipse cx="574.52" cy="444.42" rx="3.00" ry="2.42" fill="#3f6e48" transform="rotate(-20 574.52 444.42)"/><ellipse cx="586.14" cy="444.95" rx="2.58" ry="2.31" fill="#3a6642" transform="rotate(28 586.14 444.95)"/><ellipse cx="579.57" cy="445.15" rx="3.26" ry="4.54" fill="#3f6e48" transform="rotate(-31 579.57 445.15)"/><ellipse cx="581.25" cy="445.70" rx="2.24" ry="1.92" fill="#3f6e48" transform="rotate(-22 581.25 445.70)"/><ellipse cx="577.07" cy="446.23" rx="2.51" ry="3.72" fill="#3a6642" transform="rotate(5 577.07 446.23)"/><ellipse cx="586.06" cy="446.50" rx="2.94" ry="2.83" fill="#3a6642" transform="rotate(21 586.06 446.50)"/><ellipse cx="579.69" cy="447.34" rx="2.76" ry="2.58" fill="#3f6e48" transform="rotate(-20 579.69 447.34)"/><ellipse cx="584.24" cy="447.78" rx="2.75" ry="3.61" fill="#3f6e48" transform="rotate(-38 584.24 447.78)"/><ellipse cx="580.85" cy="447.84" rx="2.71" ry="2.74" fill="#3f6e48" transform="rotate(27 580.85 447.84)"/><ellipse cx="584.96" cy="448.73" rx="1.63" ry="1.32" fill="#3f6e48" transform="rotate(1 584.96 448.73)"/><ellipse cx="576.79" cy="448.83" rx="2.34" ry="2.79" fill="#3f6e48" transform="rotate(-36 576.79 448.83)"/><ellipse cx="585.19" cy="449.58" rx="1.79" ry="2.17" fill="#3f6e48" transform="rotate(-35 585.19 449.58)"/><ellipse cx="580.45" cy="435.96" rx="0.79" ry="1.49" fill="#eef2ec" opacity="0.85"/><ellipse cx="580.94" cy="436.49" rx="0.79" ry="1.49" fill="#eef2ec" opacity="0.85"/><ellipse cx="578.82" cy="441.44" rx="0.79" ry="1.49" fill="#eef2ec" opacity="0.85"/><ellipse cx="585.01" cy="438.21" rx="0.79" ry="1.49" fill="#eef2ec" opacity="0.85"/></g><g><path d="M621.43,421.16 L621.63,445.45" stroke="#5d7d5a" stroke-width="1.20"/><path d="M624.63,428.31 L624.95,444.31" stroke="#5d7d5a" stroke-width="0.80"/><ellipse cx="622.19" cy="417.40" rx="1.00" ry="1.13" fill="#7fa57c" transform="rotate(12 622.19 417.40)"/><ellipse cx="621.75" cy="417.42" rx="1.14" ry="1.55" fill="#3a6642" transform="rotate(4 621.75 417.42)"/><ellipse cx="622.07" cy="418.17" rx="1.11" ry="1.23" fill="#3f6e48" transform="rotate(-20 622.07 418.17)"/><ellipse cx="621.36" cy="418.55" rx="1.03" ry="1.39" fill="#3f6e48" transform="rotate(-36 621.36 418.55)"/><ellipse cx="625.37" cy="419.46" rx="1.80" ry="2.17" fill="#3a6642" transform="rotate(6 625.37 419.46)"/><ellipse cx="621.51" cy="419.80" rx="1.54" ry="1.80" fill="#3f6e48" transform="rotate(-29 621.51 419.80)"/><ellipse cx="625.32" cy="420.21" rx="1.53" ry="1.83" fill="#3a6642" transform="rotate(36 625.32 420.21)"/><ellipse cx="622.05" cy="420.59" rx="1.81" ry="2.11" fill="#3f6e48" transform="rotate(-19 622.05 420.59)"/><ellipse cx="625.59" cy="421.48" rx="1.36" ry="1.69" fill="#3f6e48" transform="rotate(-15 625.59 421.48)"/><ellipse cx="620.02" cy="421.92" rx="1.91" ry="2.52" fill="#3a6642" transform="rotate(-21 620.02 421.92)"/><ellipse cx="626.20" cy="422.42" rx="1.62" ry="1.94" fill="#3f6e48" transform="rotate(-21 626.20 422.42)"/><ellipse cx="620.82" cy="423.11" rx="2.24" ry="3.12" fill="#3a6642" transform="rotate(9 620.82 423.11)"/><ellipse cx="625.65" cy="423.49" rx="1.56" ry="1.97" fill="#3f6e48" transform="rotate(39 625.65 423.49)"/><ellipse cx="620.00" cy="424.21" rx="1.62" ry="1.34" fill="#3f6e48" transform="rotate(-21 620.00 424.21)"/><ellipse cx="626.18" cy="424.32" rx="2.01" ry="2.80" fill="#3f6e48" transform="rotate(-2 626.18 424.32)"/><ellipse cx="621.80" cy="425.03" rx="2.31" ry="3.13" fill="#3f6e48" transform="rotate(-9 621.80 425.03)"/><ellipse cx="623.30" cy="425.49" rx="1.96" ry="2.71" fill="#3f6e48" transform="rotate(-7 623.30 425.49)"/><ellipse cx="621.52" cy="425.88" rx="2.57" ry="3.47" fill="#3f6e48" transform="rotate(1 621.52 425.88)"/><ellipse cx="627.43" cy="426.54" rx="2.09" ry="1.92" fill="#3f6e48" transform="rotate(-29 627.43 426.54)"/><ellipse cx="616.98" cy="427.16" rx="1.78" ry="2.36" fill="#3a6642" transform="rotate(-2 616.98 427.16)"/><ellipse cx="627.07" cy="427.57" rx="2.70" ry="3.21" fill="#3a6642" transform="rotate(34 627.07 427.57)"/><ellipse cx="618.25" cy="428.47" rx="2.44" ry="3.64" fill="#3f6e48" transform="rotate(-33 618.25 428.47)"/><ellipse cx="622.81" cy="428.97" rx="2.41" ry="3.56" fill="#3f6e48" transform="rotate(-7 622.81 428.97)"/><ellipse cx="618.17" cy="429.49" rx="1.84" ry="2.47" fill="#3f6e48" transform="rotate(26 618.17 429.49)"/><ellipse cx="622.17" cy="429.63" rx="2.49" ry="2.36" fill="#3a6642" transform="rotate(18 622.17 429.63)"/><ellipse cx="617.63" cy="430.12" rx="2.95" ry="2.47" fill="#3f6e48" transform="rotate(24 617.63 430.12)"/><ellipse cx="623.74" cy="431.00" rx="2.49" ry="3.19" fill="#3f6e48" transform="rotate(14 623.74 431.00)"/><ellipse cx="616.03" cy="431.60" rx="1.90" ry="1.55" fill="#3f6e48" transform="rotate(34 616.03 431.60)"/><ellipse cx="624.17" cy="431.75" rx="3.08" ry="4.09" fill="#3f6e48" transform="rotate(-19 624.17 431.75)"/><ellipse cx="617.64" cy="432.24" rx="2.28" ry="2.07" fill="#7fa57c" transform="rotate(2 617.64 432.24)"/><ellipse cx="627.25" cy="432.82" rx="2.39" ry="2.70" fill="#3f6e48" transform="rotate(-30 627.25 432.82)"/><ellipse cx="617.17" cy="433.59" rx="2.85" ry="4.16" fill="#3a6642" transform="rotate(9 617.17 433.59)"/><ellipse cx="625.79" cy="434.18" rx="1.71" ry="2.55" fill="#3f6e48" transform="rotate(-1 625.79 434.18)"/><ellipse cx="617.29" cy="434.65" rx="1.68" ry="2.44" fill="#3f6e48" transform="rotate(9 617.29 434.65)"/><ellipse cx="625.56" cy="435.23" rx="1.82" ry="2.27" fill="#3f6e48" transform="rotate(-5 625.56 435.23)"/><ellipse cx="622.05" cy="435.73" rx="1.97" ry="2.75" fill="#7fa57c" transform="rotate(16 622.05 435.73)"/><ellipse cx="623.09" cy="435.96" rx="2.39" ry="3.03" fill="#3a6642" transform="rotate(30 623.09 435.96)"/><ellipse cx="619.77" cy="436.68" rx="1.49" ry="2.11" fill="#3f6e48" transform="rotate(-37 619.77 436.68)"/><ellipse cx="623.93" cy="437.23" rx="1.43" ry="1.58" fill="#3a6642" transform="rotate(-26 623.93 437.23)"/><ellipse cx="625.88" cy="426.42" rx="0.72" ry="1.36" fill="#eef2ec" opacity="0.85"/><ellipse cx="617.80" cy="422.17" rx="0.72" ry="1.36" fill="#eef2ec" opacity="0.85"/><ellipse cx="620.70" cy="425.05" rx="0.72" ry="1.36" fill="#eef2ec" opacity="0.85"/><ellipse cx="620.10" cy="429.78" rx="0.72" ry="1.36" fill="#eef2ec" opacity="0.85"/></g>
<text x="529.00" y="518.80" font-size="11.6">Tannen-Buchenwald</text><text x="529.00" y="532.60" font-size="11.6">Südalpen</text>
<g transform="translate(635.83,482.95) scale(0.13282)"><path d="M35,218 H480 V152 H432 V40 H680 V152 H632 V218 H680 V275 Q520,396 370,465 H35 Z" fill="#fff" stroke="none"/><rect x="133" y="415" width="49" height="50" fill="#dcc6bc"/><rect x="237" y="415" width="46" height="50" fill="#dcc6bc"/><rect x="335" y="415" width="47" height="50" fill="#dcc6bc"/><path d="M35,218 H480 V152 H432 V40 H680 V152 H632 V218 H680 V275 Q520,396 370,465 H35 Z M35,318 H133 V218 M185,218 V318 H230 V218 M283,218 V318 H328 V218 M382,218 V318 H430 V218 M480,270 H528 V318 H480 Z M580,322 V270 H628 V295 H655 M35,368 H83 V465 M133,465 V368 H182 V465 M133,415 H182 M237,465 V368 H283 V465 M237,415 H283 M335,465 V368 H382 V458 M335,415 H382 M432,432 V368 H480 V398 M485,40 V130 H527 V40 M583,40 V130 H627 V40 M528,218 V152 H580 V218 M480,218 H632" fill="none" stroke="#111" stroke-width="5.57" stroke-linejoin="miter"/><path d="M662,282 Q512,392 392,450" fill="none" stroke="#222" stroke-width="7" stroke-dasharray="4 22"/></g>
</svg>
</body></html>
